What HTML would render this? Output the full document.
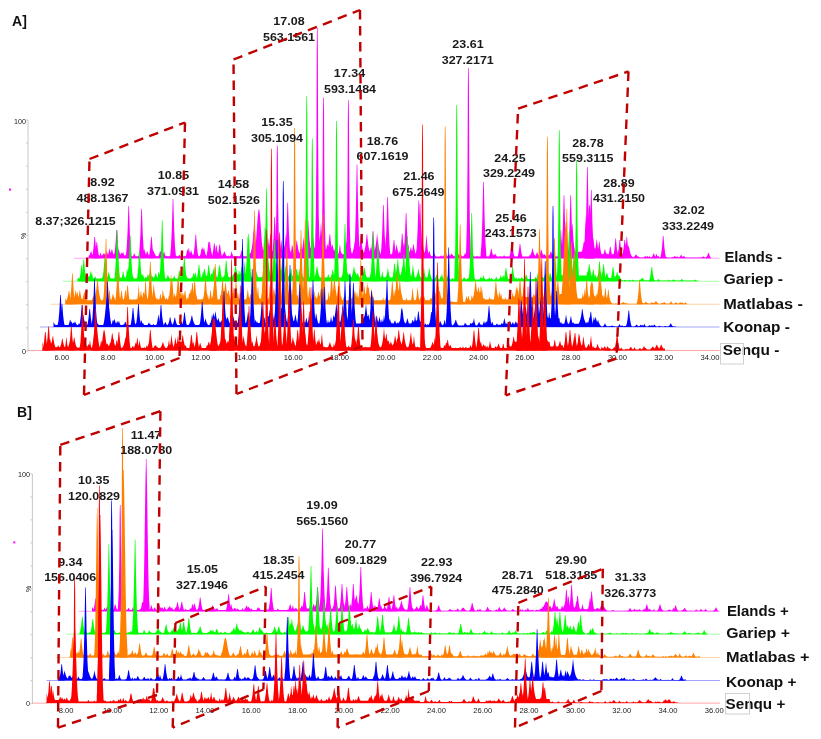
<!DOCTYPE html><html><head><meta charset="utf-8"><style>html,body{margin:0;padding:0;background:#fff;}body{width:821px;height:739px;overflow:hidden;position:relative;font-family:"Liberation Sans",sans-serif;}svg{will-change:transform;}</style></head><body><svg width="821" height="739" viewBox="0 0 821 739" style="position:absolute;left:0;top:0;font-family:'Liberation Sans', sans-serif">
<rect width="821" height="739" fill="#fff"/>
<text x="19.5" y="21" font-size="14" font-weight="bold" text-anchor="middle" dominant-baseline="central" fill="#111">A]</text>

<text x="24.5" y="411.5" font-size="14" font-weight="bold" text-anchor="middle" dominant-baseline="central" fill="#111">B]</text>

<line x1="28" y1="120" x2="28" y2="351" stroke="#c8c8c8" stroke-width="1"/>
<line x1="26" y1="120.0" x2="28" y2="120.0" stroke="#c8c8c8" stroke-width="1"/>
<line x1="26" y1="143.1" x2="28" y2="143.1" stroke="#c8c8c8" stroke-width="1"/>
<line x1="26" y1="166.2" x2="28" y2="166.2" stroke="#c8c8c8" stroke-width="1"/>
<line x1="26" y1="189.3" x2="28" y2="189.3" stroke="#c8c8c8" stroke-width="1"/>
<line x1="26" y1="212.4" x2="28" y2="212.4" stroke="#c8c8c8" stroke-width="1"/>
<line x1="26" y1="235.5" x2="28" y2="235.5" stroke="#c8c8c8" stroke-width="1"/>
<line x1="26" y1="258.6" x2="28" y2="258.6" stroke="#c8c8c8" stroke-width="1"/>
<line x1="26" y1="281.7" x2="28" y2="281.7" stroke="#c8c8c8" stroke-width="1"/>
<line x1="26" y1="304.8" x2="28" y2="304.8" stroke="#c8c8c8" stroke-width="1"/>
<line x1="26" y1="327.9" x2="28" y2="327.9" stroke="#c8c8c8" stroke-width="1"/>
<line x1="26" y1="351.0" x2="28" y2="351.0" stroke="#c8c8c8" stroke-width="1"/>
<line x1="74" y1="258.25" x2="719.5" y2="258.25" stroke="#ff00ff" stroke-opacity="0.4" stroke-width="0.9"/>
<g fill="#ff00ff"><polygon points="88.6,258.2 88.6,255.4 89.1,255.4 89.6,254.9 90.1,253.8 90.6,252.3 91.1,250.7 91.6,252.5 92.1,253.9 92.6,255.0 93.1,255.4 93.6,255.4 94.1,255.4 94.6,254.8 95.1,253.1 95.6,250.6 96.1,246.8 96.6,250.5 97.1,253.1 97.6,254.8 98.1,255.4 98.6,255.4 99.1,255.4 99.6,255.4 100.1,253.9 100.6,252.5 101.1,254.5 101.6,255.4 102.1,255.4 102.6,254.9 103.1,253.8 103.6,253.4 104.1,254.6 104.6,253.7 105.1,252.9 105.6,255.2 106.1,253.9 106.6,251.5 107.1,251.6 107.6,254.0 108.1,254.4 108.6,252.8 109.1,250.4 109.6,247.8 110.1,250.9 110.6,253.1 111.1,252.0 111.6,249.5 112.1,248.9 112.6,251.6 113.1,253.4 113.6,254.8 114.1,254.3 114.6,253.0 115.1,253.1 115.6,254.4 116.1,255.3 116.6,255.4 117.1,255.2 117.6,253.9 118.1,252.2 118.6,249.6 119.1,250.5 119.6,252.8 120.1,254.4 120.6,254.2 121.1,252.7 121.6,252.7 122.1,254.2 122.6,252.8 123.1,251.8 123.6,253.4 124.1,254.7 124.6,255.6 125.1,255.7 125.6,254.8 126.1,255.8 126.6,255.0 127.1,253.6 127.6,255.3 128.1,256.2 128.6,256.2 129.1,255.1 129.6,253.0 130.1,255.1 130.6,256.2 131.1,256.2 131.6,256.2 132.1,256.2 132.6,256.2 133.1,255.9 133.6,254.8 134.1,253.2 134.6,253.9 135.1,255.3 135.6,256.2 136.1,256.2 136.6,256.2 137.1,256.2 137.6,256.2 138.1,256.2 138.6,255.8 139.1,255.0 139.6,253.8 140.1,253.6 140.6,254.8 141.1,255.7 141.6,255.5 142.1,255.0 142.6,256.2 143.1,255.4 143.6,253.8 144.1,251.5 144.6,248.2 145.1,251.7 145.6,254.0 146.1,254.5 146.6,253.0 147.1,250.9 147.6,251.7 148.1,253.5 148.6,254.9 149.1,255.8 149.6,256.2 150.1,256.2 150.6,256.2 151.1,255.9 151.6,255.2 152.1,254.3 152.6,253.2 153.1,251.8 153.6,250.6 154.1,252.3 154.6,253.6 155.1,254.7 155.6,255.5 156.1,256.1 156.6,256.2 157.1,256.2 157.6,256.2 158.1,256.2 158.6,255.4 159.1,254.3 159.6,252.7 160.1,250.6 160.6,252.1 161.1,251.2 161.6,248.7 162.1,249.3 162.6,251.7 163.1,253.5 163.6,253.6 164.1,251.4 164.6,253.5 165.1,255.0 165.6,256.0 166.1,256.2 166.6,255.4 167.1,256.2 167.6,256.2 168.1,256.2 168.6,256.2 169.1,256.2 169.6,256.2 170.1,256.2 170.6,256.2 171.1,256.2 171.6,256.2 172.1,256.2 172.6,256.2 173.1,256.2 173.6,256.2 174.1,255.1 174.6,253.3 175.1,254.8 175.6,256.1 176.1,256.2 176.6,255.4 177.1,256.2 177.6,256.2 178.1,256.2 178.6,255.8 179.1,254.8 179.6,255.2 180.1,256.0 180.6,256.2 181.1,256.2 181.6,256.2 182.1,256.2 182.6,256.2 183.1,256.2 183.6,256.2 184.1,256.2 184.6,255.6 185.1,256.2 185.6,256.2 186.1,255.2 186.6,253.1 187.1,249.4 187.6,249.4 188.1,252.1 188.6,248.1 189.1,248.5 189.6,252.3 190.1,253.3 190.6,251.7 191.1,250.0 191.6,252.1 192.1,253.6 192.6,254.8 193.1,255.6 193.6,255.1 194.1,254.2 194.6,252.9 195.1,251.2 195.6,252.4 196.1,253.8 196.6,254.8 197.1,255.7 197.6,256.2 198.1,256.2 198.6,256.2 199.1,256.2 199.6,256.2 200.1,255.9 200.6,255.0 201.1,253.7 201.6,251.9 202.1,249.5 202.6,246.4 203.1,249.8 203.6,249.2 204.1,247.2 204.6,250.4 205.1,252.7 205.6,254.3 206.1,255.4 206.6,256.2 207.1,256.2 207.6,256.2 208.1,256.2 208.6,255.6 209.1,254.2 209.6,252.0 210.1,248.7 210.6,247.7 211.1,251.4 211.6,253.8 212.1,255.4 212.6,256.2 213.1,256.2 213.6,256.2 214.1,256.2 214.6,256.2 215.1,256.2 215.6,256.2 216.1,255.7 216.6,254.1 217.1,251.3 217.6,252.6 218.1,254.7 218.6,253.6 219.1,252.5 219.6,253.8 220.1,254.8 220.6,255.6 221.1,256.2 221.6,256.2 222.1,255.7 222.6,254.9 223.1,253.8 223.6,253.6 224.1,252.0 224.6,251.2 225.1,253.0 225.6,254.3 226.1,255.3 226.6,256.0 227.1,256.2 227.6,256.2 228.1,255.6 228.6,255.4 229.1,256.2 229.6,256.2 230.1,256.2 230.6,255.2 231.1,253.6 231.6,251.1 232.1,253.0 232.6,254.8 233.1,256.0 233.6,256.2 234.1,256.2 234.6,256.2 235.1,256.2 235.6,256.2 236.1,256.2 236.6,256.2 237.1,256.2 237.6,255.8 238.1,256.2 238.6,256.2 239.1,256.2 239.6,256.2 240.1,255.6 240.6,254.3 241.1,252.5 241.6,249.7 242.1,252.0 242.6,254.0 243.1,255.4 243.6,256.2 244.1,256.2 244.6,256.2 245.1,256.2 245.6,256.2 246.1,256.2 246.6,256.2 247.1,256.2 247.6,256.2 248.1,256.2 248.6,255.5 249.1,254.7 249.6,253.5 250.1,253.3 250.6,252.9 251.1,251.2 251.6,249.0 252.1,246.1 252.6,242.2 253.1,237.1 253.6,230.4 254.1,232.9 254.6,239.0 255.1,243.7 255.6,247.2 256.1,249.8 256.6,251.9 257.1,253.4 257.6,253.4 258.1,252.1 258.6,250.0 259.1,249.3 259.6,251.7 260.1,251.8 260.6,249.8 261.1,247.2 261.6,243.7 262.1,245.7 262.6,248.7 263.1,251.0 263.6,249.2 264.1,245.6 264.6,240.5 265.1,233.4 265.6,226.7 266.1,235.7 266.6,242.1 267.1,246.6 267.6,242.8 268.1,238.2 268.6,243.1 269.1,246.8 269.6,242.9 270.1,234.9 270.6,232.5 271.1,241.2 271.6,247.0 272.1,250.8 272.6,251.3 273.1,248.8 273.6,252.7 274.1,253.3 274.6,250.2 275.1,244.9 275.6,242.7 276.1,248.8 276.6,252.1 277.1,249.7 277.6,247.6 278.1,250.7 278.6,250.5 279.1,247.3 279.6,247.8 280.1,248.5 280.6,244.7 281.1,239.5 281.6,242.2 282.1,246.7 282.6,249.9 283.1,249.3 283.6,246.2 284.1,244.7 284.6,247.7 285.1,243.2 285.6,236.8 286.1,233.3 286.6,240.8 287.1,246.1 287.6,249.7 288.1,252.3 288.6,253.4 289.1,253.4 289.6,253.4 290.1,252.9 290.6,250.7 291.1,251.3 291.6,253.4 292.1,249.9 292.6,249.7 293.1,253.3 293.6,253.4 294.1,253.4 294.6,252.3 295.1,250.4 295.6,247.9 296.1,244.6 296.6,240.3 297.1,241.2 297.6,245.3 298.1,248.4 298.6,250.8 299.1,252.6 299.6,253.3 300.1,249.4 300.6,247.8 301.1,243.0 301.6,247.2 302.1,249.4 302.6,247.0 303.1,242.7 303.6,236.7 304.1,242.5 304.6,246.9 305.1,249.4 305.6,249.4 306.1,246.6 306.6,242.4 307.1,236.8 307.6,229.1 308.1,218.7 308.6,226.0 309.1,234.5 309.6,240.8 310.1,244.9 310.6,248.5 311.1,247.0 311.6,243.7 312.1,239.4 312.6,233.9 313.1,236.4 313.6,241.3 314.1,245.1 314.6,248.1 315.1,248.7 315.6,248.7 316.1,248.8 316.6,248.9 317.1,249.1 317.6,249.3 318.1,246.7 318.6,241.5 319.1,236.1 319.6,241.4 320.1,235.8 320.6,228.2 321.1,221.4 321.6,230.6 322.1,237.5 322.6,242.7 323.1,246.6 323.6,249.4 324.1,249.4 324.6,249.4 325.1,249.4 325.6,249.4 326.1,249.4 326.6,247.2 327.1,243.8 327.6,245.1 328.1,247.1 328.6,243.8 329.1,239.4 329.6,233.8 330.1,234.6 330.6,240.1 331.1,244.3 331.6,247.5 332.1,245.9 332.6,244.0 333.1,247.1 333.6,249.6 334.1,251.5 334.6,249.7 335.1,246.8 335.6,247.4 336.1,250.1 336.6,252.2 337.1,253.3 337.6,251.6 338.1,253.8 338.6,253.4 339.1,250.6 339.6,246.1 340.1,244.9 340.6,249.9 341.1,253.0 341.6,252.6 342.1,254.2 342.6,254.2 343.1,254.2 343.6,254.2 344.1,253.8 344.6,252.4 345.1,250.7 345.6,248.4 346.1,245.4 346.6,241.5 347.1,243.4 347.6,246.8 348.1,249.5 348.6,251.1 349.1,252.6 349.6,250.4 350.1,247.3 350.6,248.2 351.1,251.0 351.6,253.0 352.1,253.7 352.6,252.4 353.1,250.8 353.6,248.6 354.1,245.9 354.6,242.4 355.1,242.6 355.6,246.1 356.1,248.8 356.6,250.9 357.1,252.5 357.6,253.8 358.1,251.5 358.6,247.2 359.1,246.8 359.6,247.1 360.1,242.7 360.6,236.6 361.1,234.9 361.6,241.5 362.1,246.2 362.6,249.6 363.1,250.2 363.6,252.7 364.1,252.0 364.6,249.8 365.1,247.7 365.6,244.6 366.1,240.5 366.6,235.1 367.1,233.4 367.6,239.1 368.1,243.6 368.6,247.0 369.1,249.6 369.6,251.6 370.1,250.2 370.6,247.8 371.1,247.6 371.6,250.1 372.1,252.0 372.6,253.0 373.1,250.4 373.6,248.3 374.1,251.6 374.6,251.0 375.1,248.9 375.6,246.2 376.1,242.7 376.6,238.2 377.1,232.7 377.6,238.5 378.1,242.9 378.6,246.4 379.1,249.1 379.6,251.1 380.1,252.7 380.6,254.0 381.1,254.2 381.6,254.2 382.1,254.2 382.6,253.5 383.1,250.9 383.6,250.0 384.1,252.9 384.6,252.1 385.1,248.5 385.6,242.7 386.1,233.5 386.6,238.7 387.1,246.0 387.6,250.5 388.1,253.4 388.6,253.3 389.1,250.7 389.6,253.7 390.1,254.2 390.6,254.2 391.1,254.2 391.6,254.2 392.1,254.2 392.6,254.1 393.1,252.6 393.6,250.5 394.1,247.8 394.6,250.7 395.1,251.8 395.6,249.8 396.1,247.2 396.6,243.9 397.1,247.0 397.6,249.6 398.1,251.6 398.6,253.2 399.1,253.3 399.6,250.3 400.1,253.4 400.6,253.4 401.1,253.4 401.6,253.4 402.1,252.2 402.6,250.2 403.1,247.5 403.6,243.9 404.1,242.8 404.6,246.7 405.1,244.3 405.6,238.8 406.1,231.1 406.6,227.6 407.1,236.2 407.6,242.5 408.1,246.9 408.6,243.6 409.1,249.6 409.6,252.7 410.1,250.6 410.6,247.6 411.1,247.2 411.6,250.3 412.1,251.1 412.6,248.7 413.1,245.5 413.6,243.6 414.1,247.3 414.6,250.1 415.1,252.2 415.6,253.4 416.1,252.7 416.6,250.9 417.1,248.8 417.6,251.0 418.1,252.7 418.6,251.2 419.1,251.4 419.6,252.3 420.1,249.8 420.6,246.1 421.1,244.9 421.6,236.9 422.1,225.3 422.6,237.5 423.1,245.3 423.6,250.1 424.1,251.3 424.6,253.2 425.1,250.5 425.6,246.0 426.1,239.0 426.6,234.2 427.1,242.9 427.6,248.5 428.1,252.0 428.6,253.4 429.1,251.6 429.6,250.7 430.1,253.4 430.6,255.1 431.1,256.2 431.6,256.0 432.1,256.0 432.6,256.2 433.1,255.3 433.6,254.1 434.1,252.5 434.6,253.9 435.1,255.2 435.6,256.1 436.1,256.6 436.6,256.6 437.1,256.6 437.6,256.6 438.1,256.6 438.6,256.6 439.1,256.6 439.6,256.6 440.1,256.6 440.6,256.1 441.1,255.3 441.6,255.8 442.1,256.4 442.6,256.4 443.1,255.1 443.6,255.8 444.1,256.6 444.6,256.6 445.1,256.1 445.6,254.8 446.1,253.0 446.6,255.1 447.1,256.3 447.6,256.0 448.1,255.3 448.6,254.4 449.1,254.8 449.6,255.6 450.1,255.7 450.6,254.9 451.1,253.8 451.6,253.5 452.1,254.7 452.6,254.6 453.1,255.4 453.6,256.1 454.1,256.6 454.6,256.0 455.1,255.2 455.6,255.4 456.1,256.1 456.6,255.7 457.1,254.5 457.6,256.0 458.1,255.6 458.6,254.3 459.1,253.8 459.6,255.2 460.1,256.2 460.6,256.6 461.1,256.1 461.6,255.1 462.1,256.1 462.6,256.6 463.1,256.2 463.6,255.8 464.1,255.3 464.6,254.3 465.1,252.8 465.6,253.5 466.1,254.7 466.6,255.7 467.1,256.4 467.6,256.6 468.1,256.6 468.6,256.6 469.1,256.6 469.6,256.6 470.1,256.6 470.6,256.6 471.1,256.3 471.6,255.6 472.1,254.8 472.6,254.8 473.1,255.7 473.6,256.3 474.1,256.6 474.6,256.6 475.1,256.6 475.6,256.6 476.1,256.6 476.6,256.5 477.1,255.5 477.6,256.3 478.1,256.6 478.6,256.6 479.1,256.6 479.6,256.6 480.1,256.6 480.6,256.6 481.1,256.6 481.6,256.6 482.1,256.6 482.6,256.6 483.1,256.6 483.6,256.5 484.1,256.6 484.6,256.6 485.1,256.5 485.6,256.0 486.1,256.6 486.6,256.6 487.1,256.6 487.6,256.6 488.1,256.6 488.6,256.6 489.1,256.4 489.6,255.6 490.1,254.5 490.6,253.1 491.1,252.7 491.6,254.2 492.1,255.4 492.6,254.9 493.1,254.1 493.6,255.2 494.1,255.5 494.6,254.6 495.1,253.5 495.6,254.4 496.1,255.3 496.6,256.0 497.1,256.6 497.6,256.6 498.1,256.6 498.6,256.6 499.1,256.6 499.6,256.6 500.1,256.0 500.6,256.3 501.1,256.6 501.6,256.6 502.1,256.6 502.6,256.6 503.1,256.6 503.6,256.0 504.1,255.0 504.6,255.9 505.1,256.6 505.6,256.6 506.1,256.6 506.6,256.6 507.1,255.9 507.6,256.5 508.1,256.6 508.6,256.6 509.1,256.6 509.6,256.6 510.1,256.6 510.6,256.6 511.1,256.6 511.6,256.6 512.1,256.6 512.6,256.3 513.1,255.4 513.6,254.7 514.1,255.8 514.6,256.5 515.1,256.6 515.6,256.6 516.1,256.6 516.6,256.6 517.1,256.6 517.6,256.6 518.1,255.5 518.6,256.6 519.1,256.6 519.6,256.6 520.1,256.6 520.6,256.6 521.1,256.6 521.6,256.6 522.1,256.6 522.6,256.6 523.1,256.6 523.6,256.6 524.1,256.6 524.6,256.6 525.1,256.6 525.6,256.6 526.1,256.6 526.6,256.6 527.1,256.6 527.6,256.6 528.1,256.6 528.6,256.6 529.1,256.2 529.6,255.1 530.1,255.5 530.6,254.6 531.1,253.4 531.6,251.8 532.1,249.6 532.6,248.0 533.1,250.5 533.6,252.4 534.1,253.9 534.6,255.0 535.1,255.8 535.6,255.6 536.1,254.6 536.6,253.2 537.1,251.7 537.6,253.5 538.1,254.8 538.6,255.7 539.1,255.5 539.6,254.6 540.1,253.3 540.6,251.7 541.1,249.6 541.6,250.1 542.1,252.1 542.6,253.6 543.1,254.8 543.6,255.1 544.1,254.1 544.6,254.4 545.1,255.3 545.6,255.4 546.1,255.2 546.6,256.0 547.1,255.6 547.6,254.5 548.1,254.7 548.6,255.8 549.1,255.6 549.6,254.7 550.1,253.6 550.6,252.1 551.1,251.0 551.6,252.8 552.1,254.1 552.6,255.1 553.1,253.7 553.6,253.4 554.1,255.2 554.6,256.3 555.1,256.6 555.6,256.6 556.1,256.6 556.6,256.6 557.1,256.6 557.6,256.1 558.1,255.0 558.6,253.2 559.1,250.6 559.6,246.5 560.1,240.3 560.6,230.9 561.1,229.5 561.6,239.5 562.1,245.9 562.6,250.2 563.1,251.8 563.6,251.8 564.1,251.8 564.6,251.8 565.1,249.1 565.6,242.6 566.1,247.6 566.6,251.8 567.1,251.8 567.6,251.8 568.1,251.8 568.6,251.8 569.1,251.8 569.6,251.2 570.1,248.5 570.6,244.8 571.1,239.7 571.6,232.7 572.1,223.1 572.6,225.8 573.1,234.7 573.6,241.2 574.1,245.9 574.6,249.3 575.1,251.6 575.6,251.8 576.1,251.8 576.6,251.8 577.1,251.8 577.6,251.8 578.1,251.8 578.6,251.8 579.1,251.8 579.6,251.8 580.1,251.8 580.6,251.8 581.1,251.8 581.6,251.8 582.1,250.8 582.6,248.6 583.1,245.9 583.6,242.3 584.1,242.4 584.6,240.7 585.1,228.6 585.6,214.4 586.1,232.3 586.6,242.9 587.1,249.1 587.6,251.6 588.1,251.2 588.6,247.0 589.1,245.6 589.6,250.2 590.1,245.6 590.6,238.5 591.1,227.5 591.6,219.2 592.1,233.2 592.6,242.3 593.1,237.6 593.6,240.3 594.1,244.8 594.6,248.2 595.1,248.9 595.6,247.4 596.1,243.7 596.6,238.9 597.1,241.6 597.6,245.7 598.1,248.9 598.6,246.1 599.1,241.1 599.6,242.2 600.1,246.9 600.6,250.3 601.1,252.6 601.6,254.2 602.1,254.1 602.6,254.2 603.1,254.2 603.6,254.0 604.1,252.8 604.6,252.2 605.1,253.6 605.6,254.2 606.1,254.2 606.6,252.8 607.1,253.8 607.6,254.2 608.1,254.2 608.6,254.2 609.1,254.2 609.6,254.2 610.1,254.2 610.6,254.2 611.1,254.2 611.6,254.2 612.1,254.2 612.6,254.2 613.1,254.2 613.6,254.2 614.1,254.2 614.6,254.2 615.1,253.4 615.6,250.8 616.1,250.7 616.6,253.3 617.1,253.5 617.6,251.9 618.1,249.7 618.6,251.9 619.1,253.5 619.6,254.2 620.1,254.2 620.6,254.2 621.1,254.2 621.6,254.2 622.1,254.2 622.6,253.5 623.1,252.1 623.6,250.4 624.1,248.1 624.6,245.1 625.1,242.7 625.6,246.2 626.1,243.3 626.6,236.8 627.1,236.9 627.6,243.3 628.1,247.8 628.6,244.7 629.1,246.9 629.6,249.8 630.1,252.0 630.6,253.7 631.1,254.9 631.6,255.8 632.1,256.4 632.6,256.9 633.1,257.2 633.6,257.1 634.1,256.7 634.6,256.2 635.1,255.5 635.6,254.7 636.1,254.3 636.6,255.3 637.1,256.0 637.6,256.3 638.1,256.8 638.6,256.4 639.1,256.8 639.6,257.3 640.1,257.4 640.6,257.2 641.1,257.5 641.6,257.6 642.1,257.5 642.6,257.0 643.1,257.4 643.6,257.4 644.1,257.1 644.6,256.6 645.1,255.8 645.6,256.4 646.1,256.9 646.6,256.4 647.1,255.7 647.6,256.2 648.1,256.7 648.6,257.1 649.1,256.8 649.6,256.1 650.1,256.8 650.6,257.3 651.1,257.5 651.6,257.4 652.1,257.3 652.6,257.2 653.1,257.2 653.6,257.1 654.1,257.1 654.6,257.2 655.1,256.9 655.6,256.0 656.1,254.5 656.6,254.1 657.1,255.8 657.6,256.4 658.1,255.6 658.6,256.3 659.1,256.9 659.6,257.2 660.1,257.4 660.6,257.1 661.1,257.4 661.6,257.6 662.1,257.6 662.6,257.6 663.1,257.6 663.6,257.6 664.1,257.6 664.6,257.6 665.1,257.6 665.6,257.6 666.1,257.5 666.6,257.0 667.1,256.9 667.6,257.4 668.1,257.6 668.6,257.6 669.1,257.6 669.6,257.6 670.1,257.4 670.6,257.6 671.1,257.5 671.6,257.3 672.1,257.0 672.6,257.1 673.1,257.2 673.6,256.9 674.1,256.4 674.6,255.8 675.1,256.4 675.6,256.8 676.1,257.1 676.6,256.5 677.1,256.2 677.6,256.8 678.1,257.3 678.6,257.6 679.1,257.3 679.6,256.9 680.1,256.4 680.6,255.6 681.1,254.6 681.6,255.6 682.1,256.3 682.6,256.9 683.1,256.7 683.6,256.0 684.1,256.0 684.6,256.7 685.1,257.1 685.6,257.5 686.1,257.6 686.6,257.6 687.1,257.6 687.6,257.6 688.1,257.6 688.6,257.6 689.1,257.6 689.6,257.6 690.1,257.6 690.6,257.6 691.1,257.6 691.6,257.6 692.1,257.6 692.6,257.6 693.1,257.6 693.6,257.6 694.1,257.5 694.6,257.6 695.1,257.6 695.6,257.6 696.1,257.6 696.6,257.6 697.1,257.6 697.6,257.6 698.1,257.6 698.6,257.5 699.1,257.5 699.6,257.6 700.1,257.6 700.6,257.6 701.1,257.3 701.6,257.4 702.1,257.0 702.6,256.8 703.1,257.0 703.6,256.2 704.1,256.4 704.6,257.2 705.1,257.6 705.6,257.6 706.1,257.3 706.6,256.7 707.1,256.9 707.6,257.2 708.1,256.8 708.6,256.8 709.1,257.1 709.6,257.4 709.6,258.2"/><polygon points="91.60,258.25 92.70,253.96 93.55,247.53 94.15,240.02 94.40,236.80 95.00,236.80 95.25,240.02 95.85,247.53 96.70,253.96 97.80,258.25"/><polygon points="93.70,258.25 94.80,255.00 95.65,250.12 96.25,244.44 96.50,242.00 97.10,242.00 97.35,244.44 97.95,250.12 98.80,255.00 99.90,258.25"/><polygon points="113.60,258.25 114.70,252.60 115.55,244.12 116.15,234.24 116.40,230.00 117.00,230.00 117.25,234.24 117.85,244.12 118.70,252.60 119.80,258.25"/><polygon points="125.60,258.25 126.70,247.80 127.55,232.12 128.15,213.84 128.40,206.00 129.00,206.00 129.25,213.84 129.85,232.12 130.70,247.80 131.80,258.25"/><polygon points="138.50,258.25 139.60,248.34 140.45,233.47 141.05,216.13 141.30,208.70 141.90,208.70 142.15,216.13 142.75,233.47 143.60,248.34 144.70,258.25"/><polygon points="148.30,258.25 149.40,253.96 150.25,247.53 150.85,240.02 151.10,236.80 151.70,236.80 151.95,240.02 152.55,247.53 153.40,253.96 154.50,258.25"/><polygon points="169.90,258.25 171.00,246.40 171.85,228.62 172.45,207.89 172.70,199.00 173.30,199.00 173.55,207.89 174.15,228.62 175.00,246.40 176.10,258.25"/><polygon points="184.90,258.25 186.00,256.80 186.85,254.62 187.45,252.09 187.70,251.00 188.30,251.00 188.55,252.09 189.15,254.62 190.00,256.80 191.10,258.25"/><polygon points="192.70,258.25 193.80,253.52 194.65,246.43 195.25,238.15 195.50,234.60 196.10,234.60 196.35,238.15 196.95,246.43 197.80,253.52 198.90,258.25"/><polygon points="198.70,258.25 199.80,256.34 200.65,253.47 201.25,250.13 201.50,248.70 202.10,248.70 202.35,250.13 202.95,253.47 203.80,256.34 204.90,258.25"/><polygon points="205.60,258.25 206.70,255.00 207.55,250.12 208.15,244.44 208.40,242.00 209.00,242.00 209.25,244.44 209.85,250.12 210.70,255.00 211.80,258.25"/><polygon points="206.60,258.25 207.70,254.96 208.55,250.03 209.15,244.27 209.40,241.80 210.00,241.80 210.25,244.27 210.85,250.03 211.70,254.96 212.80,258.25"/><polygon points="211.20,258.25 212.30,255.26 213.15,250.78 213.75,245.54 214.00,243.30 214.60,243.30 214.85,245.54 215.45,250.78 216.30,255.26 217.40,258.25"/><polygon points="213.20,258.25 214.30,255.70 215.15,251.88 215.75,247.41 216.00,245.50 216.60,245.50 216.85,247.41 217.45,251.88 218.30,255.70 219.40,258.25"/><polygon points="216.60,258.25 217.70,255.48 218.55,251.32 219.15,246.48 219.40,244.40 220.00,244.40 220.25,246.48 220.85,251.32 221.70,255.48 222.80,258.25"/><polygon points="251.30,258.25 252.40,250.92 253.25,239.93 253.85,227.10 254.10,221.60 254.70,221.60 254.95,227.10 255.55,239.93 256.40,250.92 257.50,258.25"/><polygon points="253.70,258.25 253.70,256.58 254.13,255.39 254.57,253.57 255.00,250.94 255.43,247.35 255.87,242.75 256.30,237.22 256.73,231.03 257.17,224.63 257.60,218.62 258.03,213.69 258.47,210.44 258.60,209.30 258.90,209.30 259.20,209.30 259.33,210.44 259.77,213.69 260.20,218.62 260.63,224.63 261.07,231.03 261.50,237.22 261.93,242.75 262.37,247.35 262.80,250.94 263.23,253.57 263.67,255.39 264.10,256.58 264.10,258.25"/><polygon points="271.60,258.25 272.70,249.98 273.55,237.57 274.15,223.10 274.40,216.90 275.00,216.90 275.25,223.10 275.85,237.57 276.70,249.98 277.80,258.25"/><polygon points="274.80,258.25 275.90,235.70 276.45,201.88 276.75,156.77 277.00,145.50 277.60,145.50 277.85,156.77 278.15,201.88 278.70,235.70 279.80,258.25"/><polygon points="284.60,258.25 285.70,247.16 286.55,230.53 287.15,211.12 287.40,202.80 288.00,202.80 288.25,211.12 288.85,230.53 289.70,247.16 290.80,258.25"/><polygon points="289.10,258.25 290.20,255.70 291.05,251.88 291.65,247.41 291.90,245.50 292.50,245.50 292.75,247.41 293.35,251.88 294.20,255.70 295.30,258.25"/><polygon points="314.80,258.25 315.90,212.20 316.45,143.12 316.75,51.03 317.00,28.00 317.60,28.00 317.85,51.03 318.15,143.12 318.70,212.20 319.80,258.25"/><polygon points="321.00,258.25 322.10,226.08 322.65,177.82 322.95,113.49 323.20,97.40 323.80,97.40 324.05,113.49 324.35,177.82 324.90,226.08 326.00,258.25"/><polygon points="345.90,258.25 347.00,226.64 347.55,179.22 347.85,116.00 348.10,100.20 348.70,100.20 348.95,116.00 349.25,179.22 349.80,226.64 350.90,258.25"/><polygon points="353.90,258.25 355.00,239.50 355.85,211.38 356.45,178.56 356.70,164.50 357.30,164.50 357.55,178.56 358.15,211.38 359.00,239.50 360.10,258.25"/><polygon points="369.90,258.25 371.00,252.80 371.85,244.62 372.45,235.09 372.70,231.00 373.30,231.00 373.55,235.09 374.15,244.62 375.00,252.80 376.10,258.25"/><polygon points="380.30,258.25 381.40,247.60 382.25,231.62 382.85,212.99 383.10,205.00 383.70,205.00 383.95,212.99 384.55,231.62 385.40,247.60 386.50,258.25"/><polygon points="384.50,258.25 385.60,246.00 386.45,227.62 387.05,206.19 387.30,197.00 387.90,197.00 388.15,206.19 388.75,227.62 389.60,246.00 390.70,258.25"/><polygon points="390.90,258.25 392.00,254.60 392.85,249.12 393.45,242.74 393.70,240.00 394.30,240.00 394.55,242.74 395.15,249.12 396.00,254.60 397.10,258.25"/><polygon points="399.10,258.25 400.20,253.34 401.05,245.97 401.65,237.38 401.90,233.70 402.50,233.70 402.75,237.38 403.35,245.97 404.20,253.34 405.30,258.25"/><polygon points="403.00,258.25 404.10,249.20 404.95,235.62 405.55,219.79 405.80,213.00 406.40,213.00 406.65,219.79 407.25,235.62 408.10,249.20 409.20,258.25"/><polygon points="415.70,258.25 416.80,246.68 417.65,229.32 418.25,209.08 418.50,200.40 419.10,200.40 419.35,209.08 419.95,229.32 420.80,246.68 421.90,258.25"/><polygon points="416.90,258.25 418.00,247.36 418.85,231.03 419.45,211.97 419.70,203.80 420.30,203.80 420.55,211.97 421.15,231.03 422.00,247.36 423.10,258.25"/><polygon points="465.90,258.25 467.00,220.20 467.55,163.12 467.85,87.03 468.10,68.00 468.70,68.00 468.95,87.03 469.25,163.12 469.80,220.20 470.90,258.25"/><polygon points="480.40,258.25 481.50,242.96 482.35,220.03 482.95,193.27 483.20,181.80 483.80,181.80 484.05,193.27 484.65,220.03 485.50,242.96 486.60,258.25"/><polygon points="488.20,258.25 489.30,256.34 490.15,253.47 490.75,250.13 491.00,248.70 491.60,248.70 491.85,250.13 492.45,253.47 493.30,256.34 494.40,258.25"/><polygon points="508.80,258.25 509.90,254.96 510.75,250.03 511.35,244.27 511.60,241.80 512.20,241.80 512.45,244.27 513.05,250.03 513.90,254.96 515.00,258.25"/><polygon points="516.90,258.25 518.00,255.40 518.85,251.12 519.45,246.14 519.70,244.00 520.30,244.00 520.55,246.14 521.15,251.12 522.00,255.40 523.10,258.25"/><polygon points="560.90,258.25 562.00,245.66 562.85,226.78 563.45,204.74 563.70,195.30 564.30,195.30 564.55,204.74 565.15,226.78 566.00,245.66 567.10,258.25"/><polygon points="567.60,258.25 568.70,245.66 569.55,226.78 570.15,204.74 570.40,195.30 571.00,195.30 571.25,204.74 571.85,226.78 572.70,245.66 573.80,258.25"/><polygon points="584.30,258.25 585.40,240.00 586.25,212.62 586.85,180.69 587.10,167.00 587.70,167.00 587.95,180.69 588.55,212.62 589.40,240.00 590.50,258.25"/><polygon points="586.90,258.25 588.00,251.50 588.85,241.38 589.45,229.56 589.70,224.50 590.30,224.50 590.55,229.56 591.15,241.38 592.00,251.50 593.10,258.25"/><polygon points="584.40,258.25 584.40,256.44 584.83,255.14 585.27,253.16 585.70,250.30 586.13,246.39 586.57,241.39 587.00,235.38 587.43,228.64 587.87,221.67 588.30,215.14 588.73,209.77 589.17,206.24 589.30,205.00 589.60,205.00 589.90,205.00 590.03,206.24 590.47,209.77 590.90,215.14 591.33,221.67 591.77,228.64 592.20,235.38 592.63,241.39 593.07,246.39 593.50,250.30 593.93,253.16 594.37,255.14 594.80,256.44 594.80,258.25"/><polygon points="588.20,258.25 589.30,244.60 590.15,224.12 590.75,200.24 591.00,190.00 591.60,190.00 591.85,200.24 592.45,224.12 593.30,244.60 594.40,258.25"/><polygon points="601.80,258.25 602.90,256.48 603.75,253.82 604.35,250.73 604.60,249.40 605.20,249.40 605.45,250.73 606.05,253.82 606.90,256.48 608.00,258.25"/><polygon points="607.20,258.25 608.30,255.94 609.15,252.47 609.75,248.43 610.00,246.70 610.60,246.70 610.85,248.43 611.45,252.47 612.30,255.94 613.40,258.25"/><polygon points="612.60,258.25 613.70,254.32 614.55,248.43 615.15,241.55 615.40,238.60 616.00,238.60 616.25,241.55 616.85,248.43 617.70,254.32 618.80,258.25"/><polygon points="616.70,258.25 617.80,254.60 618.65,249.12 619.25,242.74 619.50,240.00 620.10,240.00 620.35,242.74 620.95,249.12 621.80,254.60 622.90,258.25"/><polygon points="621.60,258.25 622.70,254.60 623.55,249.12 624.15,242.74 624.40,240.00 625.00,240.00 625.25,242.74 625.85,249.12 626.70,254.60 627.80,258.25"/><polygon points="650.60,258.25 651.70,257.30 652.55,255.88 653.15,254.21 653.40,253.50 654.00,253.50 654.25,254.21 654.85,255.88 655.70,257.30 656.80,258.25"/><polygon points="660.10,258.25 661.20,253.78 662.05,247.07 662.65,239.25 662.90,235.90 663.50,235.90 663.75,239.25 664.35,247.07 665.20,253.78 666.30,258.25"/><polygon points="705.40,258.25 706.50,257.20 707.35,255.62 707.95,253.79 708.20,253.00 708.80,253.00 709.05,253.79 709.65,255.62 710.50,257.20 711.60,258.25"/></g>
<line x1="62.6" y1="281.25" x2="719.5" y2="281.25" stroke="#00ff00" stroke-opacity="0.4" stroke-width="0.9"/>
<g fill="#00ff00"><polygon points="77.4,281.2 77.4,278.4 77.9,278.4 78.4,278.4 78.9,277.5 79.4,278.4 79.9,278.4 80.4,278.4 80.9,278.4 81.4,278.4 81.9,278.4 82.4,278.4 82.9,278.4 83.4,278.4 83.9,277.6 84.4,278.1 84.9,278.4 85.4,278.4 85.9,278.4 86.4,278.4 86.9,278.4 87.4,277.8 87.9,276.4 88.4,275.4 88.9,277.1 89.4,277.0 89.9,274.5 90.4,270.6 90.9,273.5 91.4,274.9 91.9,270.8 92.4,275.2 92.9,277.7 93.4,278.1 93.9,278.4 94.4,278.0 94.9,276.8 95.4,276.5 95.9,277.7 96.4,278.4 96.9,278.4 97.4,278.4 97.9,278.4 98.4,278.4 98.9,278.4 99.4,278.4 99.9,278.4 100.4,278.1 100.9,278.4 101.4,278.4 101.9,278.4 102.4,277.5 102.9,276.3 103.4,274.9 103.9,276.5 104.4,277.7 104.9,278.4 105.4,278.2 105.9,277.1 106.4,278.2 106.9,278.3 107.4,277.1 107.9,275.4 108.4,273.0 108.9,271.6 109.4,274.4 109.9,276.4 110.4,277.8 110.9,278.4 111.4,278.4 111.9,278.4 112.4,278.4 112.9,278.4 113.4,278.4 113.9,278.4 114.4,278.4 114.9,278.4 115.4,278.4 115.9,278.4 116.4,278.4 116.9,278.4 117.4,278.4 117.9,277.6 118.4,277.5 118.9,278.4 119.4,278.4 119.9,278.4 120.4,277.6 120.9,277.5 121.4,278.2 121.9,276.7 122.4,274.5 122.9,271.2 123.4,271.8 123.9,274.9 124.4,277.0 124.9,277.1 125.4,278.4 125.9,276.7 126.4,273.9 126.9,269.2 127.4,271.9 127.9,268.6 128.4,267.1 128.9,270.8 129.4,273.6 129.9,275.6 130.4,276.7 130.9,278.2 131.4,278.4 131.9,277.3 132.4,275.6 132.9,275.8 133.4,277.5 133.9,278.4 134.4,278.4 134.9,278.4 135.4,278.4 135.9,278.4 136.4,278.4 136.9,278.4 137.4,278.4 137.9,278.4 138.4,277.9 138.9,278.4 139.4,278.4 139.9,278.1 140.4,277.1 140.9,275.7 141.4,274.0 141.9,275.8 142.4,275.3 142.9,273.7 143.4,275.8 143.9,277.3 144.4,278.4 144.9,278.4 145.4,277.0 145.9,276.7 146.4,278.2 146.9,277.3 147.4,275.9 147.9,273.9 148.4,275.1 148.9,276.8 149.4,275.6 149.9,271.8 150.4,265.4 150.9,269.5 151.4,274.2 151.9,276.9 152.4,276.0 152.9,277.3 153.4,278.1 153.9,276.9 154.4,277.2 154.9,275.7 155.4,273.7 155.9,272.7 156.4,275.0 156.9,276.7 157.4,277.9 157.9,276.0 158.4,272.3 158.9,272.1 159.4,275.9 159.9,273.0 160.4,272.0 160.9,275.9 161.4,276.5 161.9,275.0 162.4,273.0 162.9,271.3 163.4,273.7 163.9,275.6 164.4,277.0 164.9,278.0 165.4,278.4 165.9,278.4 166.4,278.4 166.9,277.4 167.4,276.2 167.9,274.5 168.4,276.1 168.9,277.3 169.4,278.3 169.9,278.4 170.4,278.4 170.9,278.4 171.4,278.4 171.9,278.4 172.4,278.4 172.9,278.2 173.4,278.1 173.9,276.3 174.4,275.5 174.9,277.6 175.4,278.4 175.9,278.4 176.4,278.4 176.9,278.4 177.4,278.4 177.9,278.4 178.4,276.9 178.9,274.2 179.4,269.8 179.9,271.6 180.4,275.3 180.9,277.3 181.4,276.0 181.9,274.6 182.4,274.5 182.9,272.5 183.4,269.8 183.9,266.2 184.4,266.2 184.9,269.8 185.4,272.5 185.9,274.6 186.4,276.1 186.9,277.3 187.4,278.3 187.9,278.4 188.4,278.3 188.9,278.4 189.4,278.4 189.9,278.4 190.4,278.4 190.9,278.4 191.4,278.1 191.9,276.6 192.4,277.5 192.9,275.6 193.4,272.8 193.9,273.2 194.4,275.9 194.9,273.8 195.4,272.1 195.9,274.8 196.4,276.7 196.9,278.1 197.4,278.4 197.9,278.4 198.4,278.1 198.9,275.8 199.4,275.1 199.9,277.6 200.4,278.4 200.9,278.4 201.4,277.6 201.9,276.3 202.4,274.5 202.9,272.1 203.4,271.3 203.9,273.9 204.4,272.9 204.9,269.3 205.4,274.0 205.9,276.8 206.4,275.5 206.9,275.8 207.4,277.2 207.9,278.3 208.4,278.4 208.9,278.4 209.4,278.4 209.9,278.0 210.4,276.8 210.9,275.2 211.4,272.9 211.9,273.8 212.4,274.0 212.9,271.1 213.4,267.6 213.9,271.6 214.4,274.4 214.9,276.4 215.4,277.0 215.9,277.2 216.4,277.2 216.9,277.2 217.4,277.2 217.9,275.7 218.4,272.1 218.9,266.2 219.4,270.8 219.9,274.9 220.4,277.2 220.9,277.2 221.4,277.2 221.9,277.2 222.4,277.2 222.9,277.2 223.4,277.2 223.9,275.3 224.4,275.7 224.9,276.6 225.4,274.9 225.9,272.7 226.4,269.6 226.9,270.2 227.4,273.1 227.9,275.2 228.4,276.8 228.9,277.2 229.4,277.2 229.9,277.2 230.4,277.1 230.9,275.8 231.4,277.1 231.9,277.2 232.4,276.5 232.9,274.8 233.4,274.3 233.9,273.9 234.4,271.7 234.9,268.9 235.4,265.2 235.9,266.1 236.4,269.6 236.9,272.2 237.4,273.8 237.9,275.4 238.4,274.1 238.9,270.3 239.4,271.3 239.9,274.8 240.4,273.2 240.9,270.9 241.4,267.9 241.9,266.7 242.4,269.9 242.9,272.5 243.4,273.9 243.9,269.1 244.4,261.1 244.9,266.7 245.4,272.5 245.9,274.2 246.4,272.1 246.9,269.5 247.4,271.3 247.9,273.5 248.4,275.2 248.9,276.6 249.4,277.2 249.9,277.2 250.4,277.2 250.9,277.2 251.4,277.2 251.9,277.2 252.4,277.2 252.9,277.2 253.4,275.8 253.9,272.3 254.4,270.7 254.9,274.0 255.4,271.9 255.9,269.2 256.4,272.0 256.9,274.1 257.4,275.7 257.9,277.0 258.4,277.2 258.9,277.2 259.4,277.2 259.9,277.2 260.4,277.2 260.9,277.2 261.4,277.2 261.9,277.2 262.4,277.2 262.9,277.2 263.4,277.2 263.9,276.7 264.4,275.1 264.9,276.2 265.4,276.0 265.9,274.5 266.4,272.6 266.9,270.1 267.4,266.9 267.9,262.8 268.4,262.3 268.9,266.5 269.4,269.8 269.9,272.3 270.4,274.3 270.9,275.9 271.4,277.1 271.9,275.6 272.4,273.2 272.9,269.6 273.4,264.5 273.9,257.2 274.4,262.0 274.9,267.8 275.4,269.7 275.9,265.5 276.4,261.9 276.9,267.1 277.4,270.8 277.9,273.6 278.4,275.6 278.9,277.0 279.4,275.3 279.9,272.8 280.4,269.3 280.9,267.2 281.4,271.3 281.9,271.2 282.4,267.5 282.9,269.7 283.4,272.8 283.9,275.1 284.4,273.8 284.9,270.2 285.4,264.8 285.9,269.1 286.4,271.9 286.9,265.8 287.4,270.0 287.9,274.4 288.4,277.1 288.9,275.9 289.4,273.5 289.9,276.6 290.4,274.6 290.9,269.8 291.4,268.1 291.9,273.6 292.4,276.8 292.9,275.1 293.4,272.8 293.9,269.6 294.4,265.4 294.9,269.8 295.4,272.9 295.9,275.2 296.4,274.3 296.9,274.4 297.4,276.8 297.9,276.4 298.4,274.9 298.9,270.8 299.4,268.6 299.9,273.5 300.4,276.2 300.9,274.3 301.4,271.8 301.9,272.8 302.4,275.1 302.9,276.7 303.4,277.2 303.9,277.2 304.4,277.2 304.9,277.2 305.4,277.2 305.9,277.2 306.4,277.2 306.9,277.2 307.4,277.2 307.9,277.2 308.4,277.2 308.9,276.4 309.4,277.2 309.9,277.2 310.4,277.2 310.9,277.2 311.4,277.2 311.9,277.2 312.4,276.4 312.9,273.5 313.4,276.7 313.9,277.2 314.4,277.2 314.9,276.1 315.4,274.4 315.9,272.2 316.4,269.3 316.9,265.6 317.4,267.2 317.9,270.6 318.4,273.2 318.9,275.1 319.4,276.6 319.9,277.2 320.4,277.6 320.9,277.6 321.4,277.6 321.9,277.6 322.4,277.6 322.9,277.6 323.4,277.6 323.9,277.6 324.4,277.6 324.9,277.6 325.4,277.1 325.9,277.6 326.4,277.6 326.9,277.6 327.4,277.0 327.9,275.0 328.4,274.0 328.9,276.3 329.4,277.6 329.9,277.6 330.4,277.6 330.9,276.8 331.4,275.3 331.9,273.2 332.4,270.4 332.9,269.0 333.4,272.2 333.9,274.5 334.4,276.3 334.9,274.5 335.4,269.8 335.9,269.0 336.4,274.0 336.9,277.0 337.4,277.6 337.9,277.6 338.4,277.6 338.9,277.6 339.4,277.6 339.9,277.6 340.4,277.6 340.9,277.6 341.4,277.5 341.9,275.1 342.4,273.8 342.9,276.7 343.4,277.6 343.9,277.6 344.4,277.6 344.9,277.4 345.4,276.1 345.9,276.0 346.4,275.8 346.9,274.2 347.4,272.1 347.9,274.3 348.4,275.3 348.9,273.3 349.4,273.9 349.9,275.8 350.4,275.7 350.9,277.1 351.4,277.2 351.9,275.9 352.4,274.3 352.9,272.3 353.4,269.6 353.9,266.1 354.4,268.2 354.9,271.2 355.4,273.5 355.9,271.4 356.4,274.9 356.9,275.5 357.4,273.7 357.9,272.7 358.4,274.8 358.9,276.3 359.4,277.5 359.9,277.6 360.4,277.6 360.9,277.6 361.4,277.6 361.9,276.8 362.4,275.4 362.9,273.6 363.4,271.2 363.9,268.1 364.4,267.3 364.9,270.6 365.4,273.1 365.9,275.1 366.4,276.5 366.9,277.6 367.4,277.6 367.9,277.6 368.4,277.6 368.9,277.6 369.4,277.6 369.9,276.9 370.4,275.1 370.9,272.6 371.4,273.2 371.9,275.5 372.4,277.2 372.9,276.5 373.4,273.8 373.9,275.6 374.4,277.6 374.9,277.6 375.4,277.6 375.9,277.6 376.4,276.7 376.9,275.9 377.4,274.3 377.9,272.2 378.4,274.3 378.9,275.9 379.4,277.1 379.9,277.6 380.4,277.6 380.9,277.6 381.4,276.5 381.9,273.4 382.4,270.6 382.9,274.7 383.4,277.3 383.9,277.6 384.4,277.6 384.9,277.1 385.4,276.8 385.9,277.2 386.4,275.7 386.9,273.7 387.4,271.0 387.9,267.3 388.4,271.1 388.9,273.8 389.4,275.8 389.9,277.2 390.4,277.6 390.9,277.6 391.4,277.6 391.9,277.6 392.4,277.6 392.9,276.4 393.4,274.1 393.9,270.5 394.4,270.9 394.9,274.3 395.4,274.9 395.9,272.4 396.4,271.0 396.9,267.1 397.4,261.6 397.9,256.9 398.4,263.7 398.9,268.6 399.4,272.2 399.9,274.7 400.4,275.8 400.9,274.1 401.4,271.9 401.9,269.0 402.4,265.2 402.9,268.2 403.4,271.3 403.9,273.3 404.4,268.4 404.9,270.6 405.4,274.6 405.9,277.1 406.4,277.6 406.9,277.1 407.4,276.0 407.9,273.5 408.4,269.9 408.9,264.4 409.4,266.9 409.9,271.6 410.4,274.7 410.9,276.8 411.4,275.9 411.9,273.3 412.4,269.5 412.9,263.8 413.4,268.7 413.9,272.8 414.4,275.6 414.9,277.4 415.4,277.6 415.9,277.6 416.4,276.8 416.9,275.3 417.4,273.4 417.9,270.9 418.4,268.2 418.9,271.4 419.4,273.8 419.9,275.6 420.4,276.9 420.9,277.6 421.4,277.6 421.9,277.6 422.4,277.3 422.9,275.1 423.4,271.6 423.9,266.2 424.4,270.4 424.9,274.3 425.4,276.8 425.9,277.6 426.4,277.6 426.9,277.6 427.4,277.0 427.9,275.2 428.4,272.7 428.9,269.1 429.4,268.1 429.9,271.9 430.4,274.7 430.9,276.6 431.4,278.0 431.9,278.9 432.4,279.6 432.9,279.6 433.4,279.6 433.9,279.6 434.4,279.5 434.9,278.7 435.4,277.6 435.9,276.1 436.4,273.9 436.9,275.5 437.4,277.2 437.9,278.4 438.4,279.3 438.9,279.6 439.4,279.6 439.9,278.3 440.4,276.2 440.9,277.3 441.4,276.0 441.9,273.2 442.4,275.7 442.9,277.7 443.4,278.9 443.9,279.4 444.4,278.9 444.9,279.6 445.4,279.2 445.9,277.9 446.4,277.2 446.9,278.3 447.4,277.1 447.9,275.6 448.4,275.2 448.9,276.9 449.4,278.1 449.9,278.9 450.4,278.8 450.9,279.5 451.4,279.3 451.9,278.7 452.4,277.8 452.9,278.2 453.4,279.0 453.9,279.5 454.4,279.6 454.9,279.6 455.4,279.6 455.9,279.6 456.4,279.6 456.9,279.6 457.4,279.6 457.9,279.6 458.4,279.6 458.9,279.6 459.4,279.6 459.9,279.6 460.4,279.6 460.9,279.6 461.4,279.6 461.9,279.6 462.4,279.5 462.9,278.9 463.4,278.2 463.9,277.2 464.4,277.2 464.9,278.2 465.4,278.9 465.9,279.4 466.4,279.5 466.9,278.7 467.4,277.7 467.9,278.9 468.4,278.7 468.9,277.5 469.4,275.6 469.9,275.4 470.4,277.4 470.9,277.8 471.4,275.5 471.9,276.1 472.4,278.1 472.9,279.4 473.4,279.5 473.9,278.4 474.4,277.8 474.9,279.2 475.4,279.6 475.9,279.6 476.4,279.6 476.9,279.4 477.4,279.5 477.9,279.6 478.4,279.6 478.9,279.6 479.4,279.4 479.9,278.7 480.4,277.7 480.9,276.3 481.4,277.6 481.9,278.7 482.4,278.4 482.9,276.8 483.4,274.8 483.9,277.1 484.4,278.6 484.9,278.3 485.4,279.5 485.9,279.6 486.4,279.6 486.9,279.6 487.4,278.9 487.9,279.1 488.4,279.1 488.9,277.6 489.4,277.3 489.9,278.9 490.4,279.2 490.9,278.6 491.4,277.8 491.9,278.5 492.4,279.1 492.9,279.6 493.4,279.6 493.9,279.6 494.4,279.6 494.9,279.6 495.4,278.7 495.9,277.2 496.4,276.4 496.9,278.2 497.4,279.3 497.9,279.6 498.4,279.5 498.9,279.1 499.4,278.8 499.9,278.0 500.4,276.4 500.9,274.4 501.4,276.7 501.9,278.2 502.4,277.5 502.9,276.2 503.4,275.1 503.9,276.7 504.4,277.9 504.9,278.2 505.4,278.9 505.9,277.7 506.4,277.4 506.9,278.9 507.4,278.5 507.9,278.9 508.4,278.9 508.9,278.9 509.4,278.9 509.9,278.9 510.4,278.3 510.9,276.8 511.4,274.6 511.9,271.2 512.4,266.2 512.9,267.4 513.4,272.0 513.9,275.1 514.4,277.2 514.9,278.5 515.4,278.7 515.9,277.5 516.4,277.6 516.9,278.8 517.4,278.9 517.9,278.9 518.4,278.6 518.9,277.4 519.4,278.1 519.9,278.9 520.4,278.9 520.9,278.4 521.4,277.5 521.9,276.9 522.4,278.0 522.9,278.8 523.4,278.9 523.9,278.9 524.4,278.7 524.9,277.7 525.4,276.3 525.9,274.3 526.4,275.0 526.9,276.8 527.4,278.0 527.9,278.9 528.4,278.9 528.9,278.9 529.4,278.9 529.9,278.9 530.4,278.9 530.9,278.9 531.4,278.9 531.9,278.9 532.4,278.9 532.9,278.9 533.4,278.9 533.9,278.9 534.4,278.9 534.9,277.9 535.4,276.9 535.9,278.6 536.4,278.9 536.9,277.7 537.4,275.7 537.9,272.5 538.4,275.7 538.9,277.5 539.4,276.3 539.9,275.7 540.4,277.0 540.9,278.0 541.4,278.8 541.9,278.5 542.4,276.8 542.9,276.8 543.4,278.5 543.9,277.6 544.4,276.3 544.9,274.5 545.4,272.9 545.9,275.1 546.4,276.7 546.9,277.9 547.4,278.8 547.9,278.0 548.4,277.9 548.9,277.2 549.4,275.4 549.9,272.9 550.4,273.0 550.9,275.5 551.4,277.2 551.9,278.4 552.4,278.5 552.9,278.9 553.4,278.4 553.9,277.0 554.4,274.9 554.9,273.5 555.4,276.1 555.9,277.8 556.4,278.9 556.9,278.8 557.4,277.6 557.9,275.4 558.4,275.1 558.9,277.4 559.4,278.9 559.9,278.9 560.4,275.6 560.9,275.6 561.4,275.0 561.9,275.0 562.4,275.6 562.9,274.8 563.4,272.4 563.9,270.0 564.4,273.0 564.9,271.0 565.4,266.0 565.9,267.1 566.4,271.8 566.9,274.9 567.4,275.4 567.9,275.6 568.4,274.9 568.9,271.3 569.4,265.5 569.9,256.4 570.4,262.1 570.9,269.1 571.4,271.5 571.9,267.0 572.4,267.8 572.9,272.1 573.4,275.0 573.9,274.9 574.4,275.0 574.9,273.5 575.4,274.4 575.9,275.2 576.4,274.4 576.9,275.6 577.4,275.6 577.9,275.6 578.4,275.6 578.9,275.6 579.4,275.6 579.9,275.6 580.4,275.6 580.9,275.6 581.4,275.6 581.9,275.6 582.4,275.6 582.9,275.6 583.4,275.6 583.9,275.6 584.4,275.6 584.9,275.6 585.4,275.6 585.9,275.6 586.4,275.4 586.9,273.6 587.4,271.5 587.9,271.4 588.4,268.5 588.9,264.8 589.4,263.6 589.9,267.6 590.4,270.7 590.9,273.0 591.4,274.9 591.9,276.3 592.4,277.4 592.9,277.8 593.4,276.5 593.9,275.7 594.4,277.2 594.9,276.4 595.4,274.0 595.9,276.3 596.4,277.9 596.9,278.1 597.4,276.1 597.9,276.2 598.4,278.1 598.9,277.5 599.4,276.4 599.9,275.2 600.4,276.6 600.9,277.7 601.4,275.3 601.9,271.0 602.4,271.9 602.9,275.8 603.4,278.1 603.9,278.1 604.4,278.1 604.9,277.7 605.4,277.1 605.9,275.8 606.4,274.1 606.9,272.0 607.4,274.1 607.9,275.8 608.4,277.1 608.9,278.0 609.4,278.1 609.9,278.1 610.4,278.1 610.9,278.1 611.4,278.1 611.9,278.1 612.4,278.1 612.9,278.1 613.4,278.1 613.9,278.1 614.4,278.1 614.9,277.2 615.4,275.9 615.9,276.2 616.4,274.5 616.9,272.1 617.4,272.0 617.9,274.4 618.4,276.1 618.9,275.5 619.4,275.7 619.9,277.1 620.4,278.2 620.9,279.0 621.4,279.6 621.9,280.0 622.4,280.3 622.9,280.6 623.4,280.5 623.9,280.2 624.4,279.9 624.9,279.8 625.4,280.2 625.9,280.1 626.4,280.4 626.9,280.6 627.4,280.6 627.9,280.6 628.4,280.4 628.9,280.1 629.4,279.8 629.9,279.9 630.4,280.2 630.9,280.4 631.4,280.4 631.9,280.2 632.4,279.8 632.9,279.7 633.4,280.1 633.9,280.4 634.4,280.6 634.9,280.6 635.4,280.6 635.9,280.6 636.4,280.6 636.9,280.6 637.4,280.4 637.9,280.6 638.4,280.6 638.9,280.5 639.4,280.1 639.9,279.3 640.4,279.4 640.9,279.6 641.4,278.9 641.9,278.0 642.4,277.4 642.9,278.5 643.4,279.2 643.9,279.8 644.4,280.2 644.9,280.5 645.4,280.6 645.9,280.2 646.4,279.9 646.9,280.4 647.4,280.6 647.9,280.6 648.4,280.6 648.9,280.4 649.4,279.9 649.9,280.1 650.4,280.4 650.9,280.3 651.4,280.0 651.9,279.5 652.4,279.9 652.9,280.3 653.4,280.5 653.9,280.6 654.4,280.6 654.9,280.6 655.4,280.6 655.9,280.6 656.4,280.6 656.9,280.4 657.4,280.1 657.9,279.6 658.4,278.9 658.9,279.4 659.4,279.9 659.9,280.3 660.4,280.6 660.9,280.6 661.4,280.6 661.9,280.6 662.4,280.6 662.9,280.6 663.4,280.5 663.9,280.6 664.4,280.6 664.9,280.6 665.4,280.4 665.9,280.0 666.4,280.4 666.9,280.6 667.4,280.6 667.9,280.5 668.4,280.1 668.9,279.5 669.4,280.1 669.9,280.5 670.4,280.6 670.9,280.6 671.4,280.6 671.9,280.4 672.4,280.2 672.9,279.8 673.4,279.4 673.9,279.5 674.4,280.0 674.9,280.2 675.4,280.3 675.9,280.6 676.4,280.6 676.9,280.5 677.4,280.6 677.9,280.6 678.4,280.6 678.9,280.6 679.4,280.6 679.9,280.6 680.4,280.3 680.9,279.9 681.4,279.2 681.9,278.8 682.4,279.6 682.9,280.2 683.4,280.5 683.9,280.6 684.4,280.6 684.9,280.6 685.4,280.6 685.9,280.6 686.4,280.6 686.9,280.6 687.4,280.6 687.9,280.6 688.4,280.6 688.9,280.6 689.4,280.6 689.9,280.6 690.4,280.6 690.9,280.6 691.4,280.6 691.9,280.6 692.4,280.6 692.9,280.6 693.4,280.6 693.9,280.4 694.4,280.0 694.9,279.6 695.4,280.0 695.9,280.3 696.4,280.6 696.9,280.6 697.4,280.6 697.9,280.6 697.9,281.2"/><polygon points="78.60,281.25 79.70,278.00 80.55,273.12 81.15,267.44 81.40,265.00 82.00,265.00 82.25,267.44 82.85,273.12 83.70,278.00 84.80,281.25"/><polygon points="80.70,281.25 81.80,276.90 82.65,270.38 83.25,262.76 83.50,259.50 84.10,259.50 84.35,262.76 84.95,270.38 85.80,276.90 86.90,281.25"/><polygon points="101.70,281.25 102.80,276.60 103.65,269.62 104.25,261.49 104.50,258.00 105.10,258.00 105.35,261.49 105.95,269.62 106.80,276.60 107.90,281.25"/><polygon points="114.10,281.25 115.20,271.00 116.05,255.62 116.65,237.69 116.90,230.00 117.50,230.00 117.75,237.69 118.35,255.62 119.20,271.00 120.30,281.25"/><polygon points="127.10,281.25 128.20,272.14 129.05,258.48 129.65,242.53 129.90,235.70 130.50,235.70 130.75,242.53 131.35,258.48 132.20,272.14 133.30,281.25"/><polygon points="136.40,281.25 137.50,275.18 138.35,266.07 138.95,255.45 139.20,250.90 139.80,250.90 140.05,255.45 140.65,266.07 141.50,275.18 142.60,281.25"/><polygon points="159.10,281.25 160.20,269.12 161.05,250.93 161.65,229.70 161.90,220.60 162.50,220.60 162.75,229.70 163.35,250.93 164.20,269.12 165.30,281.25"/><polygon points="181.20,281.25 182.30,276.48 183.15,269.32 183.75,260.98 184.00,257.40 184.60,257.40 184.85,260.98 185.45,269.32 186.30,276.48 187.40,281.25"/><polygon points="195.90,281.25 197.00,278.00 197.85,273.12 198.45,267.44 198.70,265.00 199.30,265.00 199.55,267.44 200.15,273.12 201.00,278.00 202.10,281.25"/><polygon points="201.30,281.25 202.40,278.80 203.25,275.12 203.85,270.84 204.10,269.00 204.70,269.00 204.95,270.84 205.55,275.12 206.40,278.80 207.50,281.25"/><polygon points="205.60,281.25 206.70,278.00 207.55,273.12 208.15,267.44 208.40,265.00 209.00,265.00 209.25,267.44 209.85,273.12 210.70,278.00 211.80,281.25"/><polygon points="211.90,281.25 213.00,278.40 213.85,274.12 214.45,269.14 214.70,267.00 215.30,267.00 215.55,269.14 216.15,274.12 217.00,278.40 218.10,281.25"/><polygon points="216.60,281.25 217.70,278.00 218.55,273.12 219.15,267.44 219.40,265.00 220.00,265.00 220.25,267.44 220.85,273.12 221.70,278.00 222.80,281.25"/><polygon points="223.10,281.25 224.20,277.12 225.05,270.93 225.65,263.70 225.90,260.60 226.50,260.60 226.75,263.70 227.35,270.93 228.20,277.12 229.30,281.25"/><polygon points="244.80,281.25 245.90,272.36 246.75,259.02 247.35,243.47 247.60,236.80 248.20,236.80 248.45,243.47 249.05,259.02 249.90,272.36 251.00,281.25"/><polygon points="245.60,281.25 246.70,271.80 247.55,257.62 248.15,241.09 248.40,234.00 249.00,234.00 249.25,241.09 249.85,257.62 250.70,271.80 251.80,281.25"/><polygon points="261.90,281.25 263.00,270.54 263.85,254.47 264.45,235.73 264.70,227.70 265.30,227.70 265.55,235.73 266.15,254.47 267.00,270.54 268.10,281.25"/><polygon points="263.40,281.25 264.50,262.74 265.35,234.97 265.95,202.58 266.20,188.70 266.80,188.70 267.05,202.58 267.65,234.97 268.50,262.74 269.60,281.25"/><polygon points="271.40,281.25 272.50,273.00 273.35,260.62 273.95,246.19 274.20,240.00 274.80,240.00 275.05,246.19 275.65,260.62 276.50,273.00 277.60,281.25"/><polygon points="279.40,281.25 280.50,276.68 281.35,269.82 281.95,261.83 282.20,258.40 282.80,258.40 283.05,261.83 283.65,269.82 284.50,276.68 285.60,281.25"/><polygon points="293.50,281.25 294.60,278.80 295.45,275.12 296.05,270.84 296.30,269.00 296.90,269.00 297.15,270.84 297.75,275.12 298.60,278.80 299.70,281.25"/><polygon points="304.20,281.25 305.30,244.26 305.85,188.78 306.15,114.80 306.40,96.30 307.00,96.30 307.25,114.80 307.55,188.78 308.10,244.26 309.20,281.25"/><polygon points="309.80,281.25 310.90,252.70 311.45,209.88 311.75,152.78 312.00,138.50 312.60,138.50 312.85,152.78 313.15,209.88 313.70,252.70 314.80,281.25"/><polygon points="334.00,281.25 335.10,249.20 335.65,201.12 335.95,137.03 336.20,121.00 336.80,121.00 337.05,137.03 337.35,201.12 337.90,249.20 339.00,281.25"/><polygon points="341.90,281.25 343.00,269.76 343.85,252.53 344.45,232.42 344.70,223.80 345.30,223.80 345.55,232.42 346.15,252.53 347.00,269.76 348.10,281.25"/><polygon points="369.90,281.25 371.00,271.46 371.85,256.77 372.45,239.64 372.70,232.30 373.30,232.30 373.55,239.64 374.15,256.77 375.00,271.46 376.10,281.25"/><polygon points="374.80,281.25 375.90,273.60 376.75,262.12 377.35,248.74 377.60,243.00 378.20,243.00 378.45,248.74 379.05,262.12 379.90,273.60 381.00,281.25"/><polygon points="391.50,281.25 392.60,277.72 393.45,272.43 394.05,266.25 394.30,263.60 394.90,263.60 395.15,266.25 395.75,272.43 396.60,277.72 397.70,281.25"/><polygon points="400.70,281.25 401.80,275.88 402.65,267.82 403.25,258.43 403.50,254.40 404.10,254.40 404.35,258.43 404.95,267.82 405.80,275.88 406.90,281.25"/><polygon points="404.20,281.25 405.30,272.20 406.15,258.62 406.75,242.79 407.00,236.00 407.60,236.00 407.85,242.79 408.45,258.62 409.30,272.20 410.40,281.25"/><polygon points="405.30,281.25 406.40,274.50 407.25,264.38 407.85,252.56 408.10,247.50 408.70,247.50 408.95,252.56 409.55,264.38 410.40,274.50 411.50,281.25"/><polygon points="454.20,281.25 455.30,246.00 455.85,193.12 456.15,122.62 456.40,105.00 457.00,105.00 457.25,122.62 457.55,193.12 458.10,246.00 459.20,281.25"/><polygon points="468.60,281.25 469.70,267.60 470.55,247.12 471.15,223.24 471.40,213.00 472.00,213.00 472.25,223.24 472.85,247.12 473.70,267.60 474.80,281.25"/><polygon points="502.90,281.25 504.00,278.60 504.85,274.62 505.45,269.99 505.70,268.00 506.30,268.00 506.55,269.99 507.15,274.62 508.00,278.60 509.10,281.25"/><polygon points="551.30,281.25 552.40,273.00 553.25,260.62 553.85,246.19 554.10,240.00 554.70,240.00 554.95,246.19 555.55,260.62 556.40,273.00 557.50,281.25"/><polygon points="556.80,281.25 557.90,251.06 558.45,205.78 558.75,145.40 559.00,130.30 559.60,130.30 559.85,145.40 560.15,205.78 560.70,251.06 561.80,281.25"/><polygon points="566.30,281.25 567.40,271.00 568.25,255.62 568.85,237.69 569.10,230.00 569.70,230.00 569.95,237.69 570.55,255.62 571.40,271.00 572.50,281.25"/><polygon points="570.90,281.25 572.00,275.88 572.85,267.82 573.45,258.43 573.70,254.40 574.30,254.40 574.55,258.43 575.15,267.82 576.00,275.88 577.10,281.25"/><polygon points="574.10,281.25 575.20,257.12 575.75,220.93 576.05,172.66 576.30,160.60 576.90,160.60 577.15,172.66 577.45,220.93 578.00,257.12 579.10,281.25"/><polygon points="590.20,281.25 591.30,278.96 592.15,275.52 592.75,271.52 593.00,269.80 593.60,269.80 593.85,271.52 594.45,275.52 595.30,278.96 596.40,281.25"/><polygon points="596.40,281.25 597.50,277.32 598.35,271.43 598.95,264.55 599.20,261.60 599.80,261.60 600.05,264.55 600.65,271.43 601.50,277.32 602.60,281.25"/><polygon points="600.50,281.25 601.60,277.86 602.45,272.77 603.05,266.84 603.30,264.30 603.90,264.30 604.15,266.84 604.75,272.77 605.60,277.86 606.70,281.25"/><polygon points="609.90,281.25 611.00,278.40 611.85,274.12 612.45,269.14 612.70,267.00 613.30,267.00 613.55,269.14 614.15,274.12 615.00,278.40 616.10,281.25"/><polygon points="648.70,281.25 649.80,278.40 650.65,274.12 651.25,269.14 651.50,267.00 652.10,267.00 652.35,269.14 652.95,274.12 653.80,278.40 654.90,281.25"/></g>
<line x1="50.7" y1="304.25" x2="719.5" y2="304.25" stroke="#ff8000" stroke-opacity="0.4" stroke-width="0.9"/>
<g fill="#ff8000"><polygon points="65.2,304.2 65.2,297.7 65.7,299.2 66.2,300.2 66.7,300.2 67.2,299.7 67.7,296.4 68.2,294.7 68.7,298.7 69.2,300.2 69.7,300.2 70.2,300.2 70.7,300.2 71.2,300.2 71.7,300.2 72.2,297.3 72.7,299.6 73.2,299.8 73.7,298.3 74.2,298.0 74.7,295.7 75.2,292.7 75.7,289.2 76.2,293.1 76.7,295.4 77.2,291.3 77.7,293.2 78.2,296.7 78.7,296.4 79.2,293.6 79.7,289.8 80.2,291.8 80.7,295.1 81.2,297.5 81.7,299.3 82.2,299.6 82.7,298.3 83.2,296.6 83.7,294.3 84.2,291.4 84.7,292.5 85.2,295.1 85.7,297.2 86.2,298.8 86.7,298.6 87.2,299.4 87.7,300.2 88.2,300.2 88.7,300.2 89.2,300.2 89.7,300.2 90.2,300.2 90.7,300.2 91.2,300.2 91.7,300.2 92.2,299.3 92.7,297.6 93.2,295.3 93.7,297.6 94.2,299.3 94.7,298.3 95.2,295.5 95.7,292.4 96.2,290.3 96.7,285.6 97.2,279.5 97.7,278.5 98.2,284.9 98.7,289.7 99.2,293.3 99.7,296.0 100.2,298.1 100.7,299.6 101.2,300.2 101.7,300.2 102.2,300.2 102.7,300.2 103.2,299.7 103.7,298.1 104.2,298.4 104.7,299.9 105.2,300.2 105.7,298.7 106.2,296.2 106.7,292.7 107.2,292.3 107.7,295.9 108.2,298.5 108.7,295.7 109.2,289.8 109.7,290.8 110.2,296.3 110.7,299.5 111.2,300.1 111.7,298.7 112.2,296.8 112.7,294.3 113.2,293.9 113.7,296.5 114.2,296.9 114.7,298.7 115.2,300.2 115.7,300.2 116.2,300.2 116.7,300.2 117.2,300.2 117.7,300.2 118.2,300.2 118.7,300.1 119.2,300.2 119.7,300.2 120.2,298.3 120.7,295.3 121.2,290.8 121.7,290.8 122.2,295.3 122.7,298.3 123.2,299.4 123.7,299.4 124.2,297.9 124.7,294.6 125.2,289.7 125.7,290.5 126.2,295.2 126.7,298.2 127.2,299.4 127.7,299.4 128.2,299.4 128.7,299.4 129.2,299.4 129.7,299.4 130.2,299.4 130.7,299.4 131.2,299.4 131.7,299.4 132.2,299.4 132.7,299.4 133.2,299.4 133.7,299.4 134.2,299.4 134.7,299.4 135.2,299.4 135.7,299.4 136.2,298.8 136.7,299.4 137.2,299.4 137.7,296.9 138.2,291.4 138.7,284.0 139.2,292.6 139.7,297.6 140.2,296.0 140.7,291.8 141.2,291.0 141.7,295.5 142.2,298.0 142.7,295.8 143.2,292.7 143.7,291.8 144.2,295.1 144.7,292.0 145.2,283.4 145.7,277.5 146.2,288.5 146.7,295.0 147.2,298.1 147.7,299.1 148.2,297.3 148.7,294.7 149.2,291.2 149.7,292.6 150.2,295.7 150.7,298.0 151.2,299.4 151.7,298.5 152.2,296.4 152.7,293.4 153.2,289.4 153.7,283.8 154.2,288.3 154.7,292.6 155.2,295.2 155.7,297.7 156.2,299.4 156.7,298.0 157.2,297.5 157.7,299.4 158.2,299.4 158.7,299.4 159.2,299.4 159.7,297.7 160.2,293.8 160.7,294.4 161.2,298.1 161.7,298.5 162.2,295.1 162.7,289.5 163.2,291.3 163.7,296.1 164.2,295.0 164.7,297.2 165.2,299.1 165.7,299.4 166.2,298.7 166.7,297.2 167.2,299.4 167.7,299.4 168.2,299.3 168.7,296.0 169.2,295.8 169.7,291.8 170.2,285.9 170.7,277.2 171.2,274.3 171.7,283.9 172.2,290.5 172.7,294.9 173.2,297.8 173.7,297.4 174.2,295.4 174.7,292.9 175.2,295.5 175.7,297.5 176.2,295.5 176.7,291.8 177.2,286.5 177.7,279.1 178.2,269.4 178.7,279.7 179.2,287.0 179.7,292.1 180.2,294.3 180.7,289.6 181.2,291.0 181.7,295.3 182.2,295.3 182.7,292.5 183.2,293.0 183.7,295.7 184.2,297.7 184.7,299.2 185.2,299.4 185.7,299.4 186.2,299.2 186.7,299.4 187.2,299.4 187.7,296.8 188.2,298.6 188.7,296.2 189.2,292.7 189.7,293.6 190.2,293.4 190.7,290.2 191.2,288.6 191.7,292.0 192.2,287.7 192.7,286.5 193.2,291.2 193.7,294.7 194.2,297.2 194.7,298.3 195.2,296.3 195.7,293.8 196.2,294.8 196.7,297.1 197.2,298.8 197.7,299.4 198.2,299.4 198.7,299.4 199.2,299.4 199.7,299.4 200.2,299.4 200.7,299.4 201.2,299.4 201.7,299.0 202.2,298.6 202.7,299.4 203.2,298.7 203.7,297.1 204.2,295.0 204.7,292.2 205.2,288.6 205.7,290.2 206.2,293.4 206.7,295.9 207.2,297.8 207.7,293.4 208.2,295.7 208.7,299.2 209.2,299.4 209.7,296.5 210.2,291.6 210.7,289.5 211.2,295.3 211.7,298.8 212.2,297.8 212.7,295.6 213.2,292.7 213.7,293.2 214.2,296.0 214.7,297.3 215.2,294.9 215.7,294.7 216.2,297.1 216.7,298.9 217.2,299.4 217.7,299.4 218.2,299.4 218.7,299.4 219.2,299.4 219.7,299.4 220.2,298.6 220.7,296.1 221.2,292.6 221.7,287.7 222.2,280.6 222.7,277.9 223.2,285.8 223.7,291.3 224.2,291.6 224.7,287.9 225.2,283.2 225.7,282.4 226.2,287.3 226.7,291.2 227.2,294.1 227.7,293.6 228.2,290.2 228.7,290.2 229.2,293.6 229.7,296.2 230.2,298.1 230.7,299.4 231.2,299.4 231.7,298.2 232.2,295.6 232.7,291.8 233.2,286.4 233.7,290.9 234.2,294.9 234.7,297.8 235.2,299.4 235.7,298.0 236.2,298.7 236.7,298.7 237.2,296.2 237.7,292.5 238.2,293.4 238.7,296.9 239.2,299.2 239.7,299.4 240.2,299.3 240.7,298.6 241.2,298.2 241.7,295.8 242.2,296.2 242.7,298.5 243.2,299.4 243.7,299.4 244.2,299.4 244.7,299.4 245.2,299.4 245.7,299.4 246.2,299.1 246.7,296.8 247.2,293.6 247.7,288.8 248.2,291.9 248.7,295.7 249.2,298.3 249.7,297.5 250.2,293.4 250.7,294.3 251.2,298.1 251.7,297.0 252.2,297.4 252.7,299.4 253.2,299.4 253.7,299.4 254.2,299.3 254.7,298.7 255.2,299.4 255.7,299.4 256.2,299.0 256.7,298.5 257.2,294.5 257.7,287.8 258.2,287.6 258.7,294.5 259.2,298.5 259.7,298.3 260.2,298.7 260.7,299.1 261.2,297.2 261.7,299.2 262.2,299.4 262.7,298.8 263.2,295.9 263.7,291.6 264.2,285.7 264.7,292.1 265.2,296.3 265.7,299.0 266.2,299.4 266.7,299.4 267.2,299.4 267.7,299.4 268.2,299.4 268.7,297.3 269.2,292.7 269.7,284.9 270.2,288.1 270.7,294.6 271.2,295.9 271.7,297.6 272.2,297.2 272.7,295.0 273.2,292.1 273.7,288.3 274.2,288.7 274.7,292.5 275.2,295.3 275.7,295.4 276.2,292.6 276.7,289.0 277.2,292.0 277.7,294.9 278.2,292.5 278.7,288.7 279.2,283.5 279.7,276.9 280.2,283.7 280.7,288.8 281.2,292.6 281.7,295.5 282.2,297.7 282.7,299.3 283.2,299.4 283.7,299.4 284.2,299.4 284.7,298.7 285.2,296.9 285.7,294.6 286.2,291.5 286.7,287.4 287.2,288.7 287.7,292.4 288.2,295.3 288.7,297.3 289.2,295.2 289.7,293.8 290.2,296.2 290.7,297.2 291.2,293.7 291.7,288.5 292.2,288.7 292.7,293.9 293.2,297.3 293.7,299.4 294.2,299.4 294.7,299.4 295.2,299.4 295.7,299.4 296.2,299.4 296.7,297.6 297.2,294.7 297.7,295.0 298.2,297.8 298.7,299.4 299.2,299.3 299.7,299.4 300.2,299.4 300.7,299.4 301.2,299.4 301.7,299.4 302.2,299.4 302.7,299.4 303.2,299.4 303.7,299.1 304.2,295.7 304.7,291.1 305.2,296.3 305.7,299.4 306.2,298.4 306.7,296.0 307.2,296.7 307.7,298.9 308.2,298.0 308.7,293.8 309.2,286.6 309.7,289.1 310.2,295.2 310.7,298.9 311.2,299.4 311.7,299.4 312.2,299.4 312.7,299.4 313.2,297.3 313.7,294.5 314.2,290.5 314.7,294.0 315.2,297.0 315.7,296.2 316.2,297.3 316.7,299.0 317.2,297.6 317.7,295.0 318.2,291.5 318.7,292.3 319.2,295.6 319.7,296.1 320.2,293.5 320.7,290.0 321.2,288.9 321.7,292.7 322.2,295.6 322.7,297.7 323.2,298.7 323.7,298.9 324.2,300.2 324.7,300.2 325.2,300.2 325.7,300.2 326.2,300.2 326.7,300.2 327.2,300.2 327.7,298.7 328.2,295.5 328.7,291.0 329.2,295.8 329.7,298.8 330.2,300.2 330.7,299.9 331.2,298.7 331.7,297.0 332.2,294.9 332.7,292.2 333.2,288.7 333.7,284.1 334.2,278.2 334.7,279.4 335.2,285.1 335.7,289.4 336.2,292.8 336.7,295.4 337.2,297.4 337.7,298.9 338.2,297.9 338.7,295.5 339.2,292.0 339.7,292.4 340.2,295.7 340.7,297.8 341.2,295.9 341.7,298.8 342.2,300.2 342.7,300.2 343.2,298.9 343.7,297.0 344.2,297.1 344.7,299.0 345.2,300.2 345.7,300.2 346.2,300.2 346.7,300.2 347.2,300.2 347.7,300.2 348.2,300.2 348.7,300.2 349.2,300.2 349.7,300.2 350.2,300.2 350.7,298.9 351.2,297.3 351.7,299.3 352.2,298.8 352.7,296.6 353.2,293.7 353.7,289.6 354.2,289.9 354.7,293.9 355.2,290.7 355.7,294.6 356.2,297.4 356.7,293.1 357.2,292.4 357.7,297.1 358.2,298.9 358.7,296.8 359.2,293.7 359.7,289.5 360.2,289.6 360.7,293.8 361.2,296.8 361.7,298.9 362.2,298.8 362.7,296.8 363.2,294.0 363.7,290.2 364.2,285.0 364.7,289.3 365.2,293.3 365.7,294.8 366.2,291.6 366.7,287.4 367.2,281.8 367.7,287.3 368.2,288.2 368.7,286.3 369.2,291.3 369.7,295.0 370.2,297.6 370.7,295.2 371.2,291.3 371.7,287.9 372.2,292.7 372.7,296.1 373.2,298.5 373.7,300.2 374.2,300.2 374.7,300.2 375.2,300.2 375.7,300.2 376.2,300.2 376.7,300.2 377.2,300.2 377.7,300.2 378.2,300.2 378.7,300.2 379.2,300.2 379.7,300.2 380.2,300.2 380.7,300.2 381.2,300.2 381.7,300.2 382.2,300.2 382.7,298.9 383.2,297.3 383.7,300.1 384.2,300.2 384.7,300.2 385.2,299.7 385.7,297.4 386.2,299.4 386.7,300.2 387.2,300.2 387.7,300.2 388.2,300.2 388.7,300.2 389.2,300.2 389.7,300.2 390.2,300.1 390.7,298.9 391.2,297.3 391.7,295.2 392.2,295.0 392.7,297.2 393.2,298.8 393.7,297.4 394.2,294.9 394.7,291.4 395.2,288.8 395.7,293.0 396.2,296.0 396.7,293.5 397.2,289.6 397.7,284.3 398.2,289.6 398.7,291.0 399.2,285.6 399.7,277.9 400.2,282.8 400.7,289.1 401.2,292.7 401.7,294.2 402.2,297.0 402.7,299.1 403.2,300.2 403.7,300.2 404.2,300.2 404.7,300.2 405.2,300.2 405.7,300.2 406.2,298.3 406.7,298.3 407.2,300.2 407.7,300.2 408.2,300.2 408.7,300.2 409.2,300.2 409.7,300.2 410.2,300.2 410.7,300.2 411.2,299.8 411.7,296.7 412.2,291.3 412.7,287.0 413.2,294.2 413.7,298.4 414.2,300.2 414.7,300.2 415.2,300.1 415.7,300.2 416.2,298.5 416.7,295.4 417.2,290.7 417.7,286.8 418.2,292.9 418.7,296.8 419.2,299.4 419.7,300.0 420.2,297.7 420.7,295.8 421.2,298.8 421.7,299.0 422.2,297.5 422.7,299.1 423.2,297.6 423.7,295.7 424.2,296.5 424.7,298.2 425.2,299.6 425.7,300.2 426.2,300.2 426.7,300.2 427.2,300.2 427.7,300.2 428.2,300.2 428.7,300.2 429.2,300.2 429.7,300.2 430.2,298.6 430.7,298.6 431.2,298.6 431.7,298.6 432.2,296.9 432.7,292.8 433.2,286.4 433.7,292.3 434.2,296.6 434.7,297.3 435.2,295.2 435.7,292.5 436.2,289.0 436.7,284.5 437.2,278.6 437.7,276.9 438.2,283.2 438.7,288.0 439.2,291.7 439.7,290.8 440.2,293.1 440.7,295.8 441.2,297.8 441.7,298.6 442.2,298.6 442.7,298.6 443.2,295.8 443.7,296.0 444.2,298.6 444.7,298.6 445.2,297.4 445.7,296.9 446.2,298.6 446.7,298.6 447.2,296.5 447.7,293.4 448.2,293.6 448.7,296.6 449.2,298.6 449.7,298.6 450.2,301.2 450.7,301.9 451.2,301.9 451.7,301.2 452.2,300.9 452.7,301.7 453.2,301.9 453.7,301.9 454.2,301.9 454.7,301.9 455.2,301.9 455.7,301.9 456.2,301.9 456.7,301.9 457.2,301.9 457.7,301.9 458.2,301.9 458.7,301.9 459.2,301.9 459.7,301.9 460.2,301.9 460.7,301.9 461.2,301.2 461.7,301.5 462.2,301.9 462.7,301.9 463.2,301.4 463.7,301.9 464.2,301.9 464.7,301.9 465.2,301.3 465.7,299.6 466.2,296.8 466.7,296.1 467.2,299.2 467.7,298.6 468.2,295.9 468.7,296.2 469.2,298.8 469.7,300.3 470.2,300.0 470.7,301.1 471.2,298.8 471.7,295.0 472.2,296.5 472.7,298.8 473.2,297.1 473.7,295.0 474.2,292.2 474.7,288.5 475.2,283.8 475.7,278.7 476.2,284.7 476.7,289.2 477.2,292.7 477.7,290.4 478.2,286.5 478.7,287.8 479.2,291.5 479.7,292.9 480.2,284.6 480.7,291.8 481.2,292.7 481.7,285.8 482.2,289.5 482.7,295.0 483.2,298.4 483.7,298.6 484.2,297.9 484.7,299.3 485.2,299.4 485.7,299.4 486.2,299.4 486.7,299.4 487.2,299.4 487.7,299.4 488.2,299.4 488.7,299.4 489.2,298.2 489.7,296.6 490.2,298.9 490.7,299.4 491.2,299.4 491.7,298.4 492.2,299.4 492.7,299.4 493.2,299.4 493.7,299.4 494.2,299.4 494.7,298.2 495.2,296.1 495.7,293.5 496.2,289.9 496.7,289.5 497.2,293.2 497.7,295.9 498.2,298.0 498.7,295.3 499.2,290.8 499.7,293.4 500.2,297.0 500.7,294.6 501.2,293.6 501.7,296.5 502.2,298.5 502.7,299.4 503.2,298.4 503.7,299.4 504.2,299.4 504.7,299.3 505.2,297.0 505.7,298.7 506.2,299.4 506.7,299.4 507.2,299.4 507.7,299.4 508.2,296.9 508.7,299.4 509.2,299.4 509.7,299.4 510.2,299.4 510.7,299.4 511.2,298.7 511.7,297.0 512.2,294.9 512.7,292.2 513.2,295.0 513.7,297.1 514.2,295.5 514.7,297.5 515.2,294.8 515.7,291.0 516.2,285.7 516.7,289.1 517.2,291.3 517.7,286.4 518.2,291.2 518.7,294.7 519.2,297.3 519.7,298.8 520.2,297.1 520.7,297.1 521.2,297.1 521.7,296.8 522.2,296.6 522.7,295.5 523.2,289.6 523.7,283.9 524.2,292.0 524.7,296.9 525.2,297.1 525.7,297.1 526.2,297.1 526.7,297.1 527.2,297.1 527.7,297.1 528.2,297.1 528.7,297.1 529.2,292.1 529.7,283.6 530.2,287.8 530.7,294.6 531.2,297.1 531.7,297.1 532.2,297.1 532.7,297.1 533.2,295.3 533.7,293.2 534.2,296.1 534.7,294.7 535.2,295.3 535.7,297.1 536.2,296.5 536.7,293.0 537.2,287.9 537.7,280.4 538.2,282.7 538.7,287.9 539.2,282.1 539.7,281.9 540.2,275.8 540.7,263.0 541.2,263.0 541.7,275.8 542.2,284.7 542.7,290.7 543.2,294.9 543.7,297.1 544.2,297.1 544.7,297.1 545.2,296.4 545.7,292.1 546.2,284.0 546.7,287.0 547.2,293.9 547.7,294.0 548.2,288.5 548.7,280.3 549.2,276.6 549.7,286.2 550.2,292.4 550.7,296.5 551.2,295.1 551.7,291.6 552.2,286.9 552.7,286.3 553.2,291.2 553.7,294.8 554.2,295.9 554.7,292.1 555.2,287.0 555.7,292.4 556.2,294.6 556.7,290.9 557.2,285.7 557.7,278.7 558.2,280.9 558.7,287.4 559.2,292.0 559.7,295.4 560.2,293.9 560.7,293.9 561.2,293.9 561.7,293.9 562.2,293.9 562.7,293.4 563.2,290.8 563.7,293.8 564.2,293.9 564.7,293.9 565.2,293.9 565.7,293.9 566.2,293.9 566.7,293.9 567.2,293.9 567.7,293.9 568.2,293.9 568.7,293.9 569.2,292.8 569.7,284.8 570.2,277.9 570.7,263.8 571.2,242.3 571.7,241.6 572.2,263.4 572.7,277.6 573.2,277.3 573.7,265.3 574.2,248.0 574.7,252.1 575.2,268.2 575.7,279.3 576.2,287.0 576.7,292.3 577.2,296.0 577.7,298.5 578.2,298.6 578.7,298.6 579.2,298.6 579.7,298.6 580.2,298.6 580.7,298.6 581.2,298.6 581.7,298.6 582.2,296.7 582.7,292.8 583.2,295.0 583.7,297.6 584.2,293.9 584.7,288.1 585.2,293.4 585.7,297.3 586.2,298.6 586.7,298.6 587.2,298.6 587.7,298.6 588.2,298.2 588.7,294.5 589.2,298.1 589.7,297.8 590.2,293.1 590.7,285.2 591.2,286.5 591.7,289.1 592.2,283.1 592.7,281.7 593.2,288.1 593.7,292.7 594.2,296.0 594.7,295.8 595.2,295.2 595.7,297.8 596.2,296.1 596.7,293.2 597.2,295.2 597.7,291.5 598.2,288.3 598.7,281.9 599.2,273.0 599.7,264.4 600.2,275.8 600.7,283.9 601.2,288.9 601.7,293.4 602.2,296.6 602.7,295.3 603.2,295.1 603.7,297.2 604.2,297.5 604.7,293.6 605.2,287.2 605.7,289.2 606.2,294.8 606.7,298.3 607.2,297.2 607.7,293.7 608.2,288.5 608.7,291.1 609.2,295.4 609.7,298.3 610.2,300.3 610.7,301.6 611.2,302.5 611.7,303.1 612.2,303.4 612.7,303.4 613.2,303.4 613.7,303.7 614.2,303.7 614.7,303.7 615.2,303.4 615.7,303.2 616.2,303.5 616.7,303.7 617.2,303.7 617.7,303.7 618.2,303.7 618.7,303.7 619.2,303.7 619.7,303.7 620.2,303.6 620.7,303.4 621.2,303.2 621.7,302.9 622.2,302.8 622.7,302.7 623.2,302.1 623.7,301.9 624.2,302.6 624.7,303.1 625.2,303.5 625.7,303.2 626.2,302.9 626.7,303.2 627.2,303.4 627.7,303.6 628.2,303.7 628.7,303.7 629.2,303.7 629.7,303.7 630.2,303.7 630.7,303.7 631.2,303.7 631.7,303.7 632.2,303.7 632.7,303.7 633.2,303.7 633.7,303.7 634.2,303.7 634.7,303.7 635.2,303.7 635.7,303.7 636.2,303.7 636.7,303.6 637.2,303.4 637.7,303.1 638.2,303.1 638.7,303.4 639.2,303.6 639.7,303.5 640.2,303.3 640.7,303.0 641.2,303.1 641.7,303.1 642.2,302.5 642.7,303.1 643.2,303.2 643.7,302.9 644.2,303.1 644.7,303.1 645.2,302.5 645.7,301.5 646.2,301.7 646.7,302.6 647.2,303.2 647.7,303.0 648.2,303.1 648.7,303.4 649.2,303.7 649.7,303.5 650.2,303.3 650.7,303.1 651.2,302.7 651.7,302.3 652.2,302.6 652.7,303.0 653.2,302.7 653.7,303.1 654.2,302.9 654.7,302.5 655.2,301.9 655.7,301.0 656.2,301.2 656.7,302.0 657.2,302.6 657.7,303.1 658.2,303.4 658.7,303.5 659.2,303.7 659.7,303.7 660.2,303.6 660.7,303.4 661.2,303.1 661.7,303.0 662.2,303.3 662.7,303.3 663.2,303.0 663.7,302.6 664.2,301.9 664.7,302.4 665.2,302.9 665.7,303.3 666.2,303.5 666.7,303.6 667.2,303.6 667.7,303.7 668.2,303.6 668.7,303.4 669.2,303.5 669.7,303.2 670.2,302.6 670.7,301.5 671.2,301.2 671.7,302.4 672.2,303.1 672.7,303.5 673.2,303.7 673.7,303.7 674.2,303.5 674.7,303.2 675.2,302.8 675.7,302.2 676.2,302.5 676.7,303.0 677.2,303.3 677.7,303.6 678.2,303.7 678.7,303.5 679.2,303.2 679.7,302.6 680.2,301.9 680.7,302.5 681.2,303.1 681.7,303.0 682.2,302.4 682.7,302.4 683.2,303.0 683.7,303.4 684.2,303.5 684.7,303.3 685.2,302.7 685.7,302.0 686.2,302.9 686.7,303.4 686.7,304.2"/><polygon points="65.90,304.25 67.00,301.60 67.85,297.62 68.45,292.99 68.70,291.00 69.30,291.00 69.55,292.99 70.15,297.62 71.00,301.60 72.10,304.25"/><polygon points="69.30,304.25 70.40,298.12 71.25,288.93 71.85,278.20 72.10,273.60 72.70,273.60 72.95,278.20 73.55,288.93 74.40,298.12 75.50,304.25"/><polygon points="102.90,304.25 104.00,291.20 104.85,271.62 105.45,248.79 105.70,239.00 106.30,239.00 106.55,248.79 107.15,271.62 108.00,291.20 109.10,304.25"/><polygon points="114.70,304.25 115.80,297.20 116.65,286.62 117.25,274.29 117.50,269.00 118.10,269.00 118.35,274.29 118.95,286.62 119.80,297.20 120.90,304.25"/><polygon points="124.50,304.25 125.60,300.50 126.45,294.88 127.05,288.31 127.30,285.50 127.90,285.50 128.15,288.31 128.75,294.88 129.60,300.50 130.70,304.25"/><polygon points="147.20,304.25 148.30,295.74 149.15,282.98 149.75,268.08 150.00,261.70 150.60,261.70 150.85,268.08 151.45,282.98 152.30,295.74 153.40,304.25"/><polygon points="168.90,304.25 170.00,299.40 170.85,292.12 171.45,283.64 171.70,280.00 172.30,280.00 172.55,283.64 173.15,292.12 174.00,299.40 175.10,304.25"/><polygon points="181.90,304.25 183.00,301.60 183.85,297.62 184.45,292.99 184.70,291.00 185.30,291.00 185.55,292.99 186.15,297.62 187.00,301.60 188.10,304.25"/><polygon points="189.40,304.25 190.50,300.00 191.35,293.62 191.95,286.19 192.20,283.00 192.80,283.00 193.05,286.19 193.65,293.62 194.50,300.00 195.60,304.25"/><polygon points="191.60,304.25 192.70,299.60 193.55,292.62 194.15,284.49 194.40,281.00 195.00,281.00 195.25,284.49 195.85,292.62 196.70,299.60 197.80,304.25"/><polygon points="202.40,304.25 203.50,299.00 204.35,291.12 204.95,281.94 205.20,278.00 205.80,278.00 206.05,281.94 206.65,291.12 207.50,299.00 208.60,304.25"/><polygon points="212.10,304.25 213.20,296.20 214.05,284.12 214.65,270.04 214.90,264.00 215.50,264.00 215.75,270.04 216.35,284.12 217.20,296.20 218.30,304.25"/><polygon points="211.20,304.25 212.30,300.50 213.15,294.88 213.75,288.31 214.00,285.50 214.60,285.50 214.85,288.31 215.45,294.88 216.30,300.50 217.40,304.25"/><polygon points="217.70,304.25 218.80,302.40 219.65,299.62 220.25,296.39 220.50,295.00 221.10,295.00 221.35,296.39 221.95,299.62 222.80,302.40 223.90,304.25"/><polygon points="232.90,304.25 234.00,299.80 234.85,293.12 235.45,285.34 235.70,282.00 236.30,282.00 236.55,285.34 237.15,293.12 238.00,299.80 239.10,304.25"/><polygon points="251.40,304.25 252.50,285.48 253.35,257.32 253.95,224.48 254.20,210.40 254.80,210.40 255.05,224.48 255.65,257.32 256.50,285.48 257.60,304.25"/><polygon points="259.90,304.25 261.00,299.80 261.85,293.12 262.45,285.34 262.70,282.00 263.30,282.00 263.55,285.34 264.15,293.12 265.00,299.80 266.10,304.25"/><polygon points="260.90,304.25 262.00,292.00 262.85,273.62 263.45,252.19 263.70,243.00 264.30,243.00 264.55,252.19 265.15,273.62 266.00,292.00 267.10,304.25"/><polygon points="276.20,304.25 277.30,290.40 278.15,269.62 278.75,245.39 279.00,235.00 279.60,235.00 279.85,245.39 280.45,269.62 281.30,290.40 282.40,304.25"/><polygon points="283.70,304.25 284.80,292.70 285.65,275.38 286.25,255.16 286.50,246.50 287.10,246.50 287.35,255.16 287.95,275.38 288.80,292.70 289.90,304.25"/><polygon points="292.10,304.25 293.20,269.00 293.75,216.12 294.05,145.62 294.30,128.00 294.90,128.00 295.15,145.62 295.45,216.12 296.00,269.00 297.10,304.25"/><polygon points="297.90,304.25 299.00,289.40 299.85,267.12 300.45,241.14 300.70,230.00 301.30,230.00 301.55,241.14 302.15,267.12 303.00,289.40 304.10,304.25"/><polygon points="302.10,304.25 303.20,287.30 304.05,261.88 304.65,232.21 304.90,219.50 305.50,219.50 305.75,232.21 306.35,261.88 307.20,287.30 308.30,304.25"/><polygon points="319.90,304.25 321.00,286.20 321.85,259.12 322.45,227.54 322.70,214.00 323.30,214.00 323.55,227.54 324.15,259.12 325.00,286.20 326.10,304.25"/><polygon points="328.50,304.25 329.60,298.80 330.45,290.62 331.05,281.09 331.30,277.00 331.90,277.00 332.15,281.09 332.75,290.62 333.60,298.80 334.70,304.25"/><polygon points="335.90,304.25 337.00,298.80 337.85,290.62 338.45,281.09 338.70,277.00 339.30,277.00 339.55,281.09 340.15,290.62 341.00,298.80 342.10,304.25"/><polygon points="357.70,304.25 358.80,295.40 359.65,282.12 360.25,266.64 360.50,260.00 361.10,260.00 361.35,266.64 361.95,282.12 362.80,295.40 363.90,304.25"/><polygon points="389.20,304.25 390.30,299.80 391.15,293.12 391.75,285.34 392.00,282.00 392.60,282.00 392.85,285.34 393.45,293.12 394.30,299.80 395.40,304.25"/><polygon points="393.80,304.25 394.90,297.98 395.75,288.57 396.35,277.60 396.60,272.90 397.20,272.90 397.45,277.60 398.05,288.57 398.90,297.98 400.00,304.25"/><polygon points="434.10,304.25 435.20,299.12 436.05,291.43 436.65,282.45 436.90,278.60 437.50,278.60 437.75,282.45 438.35,291.43 439.20,299.12 440.30,304.25"/><polygon points="442.70,304.25 443.80,268.72 444.35,215.43 444.65,144.36 444.90,126.60 445.50,126.60 445.75,144.36 446.05,215.43 446.60,268.72 447.70,304.25"/><polygon points="457.10,304.25 458.20,288.30 459.05,264.38 459.65,236.46 459.90,224.50 460.50,224.50 460.75,236.46 461.35,264.38 462.20,288.30 463.30,304.25"/><polygon points="492.80,304.25 493.90,299.80 494.75,293.12 495.35,285.34 495.60,282.00 496.20,282.00 496.45,285.34 497.05,293.12 497.90,299.80 499.00,304.25"/><polygon points="516.90,304.25 518.00,299.36 518.85,292.02 519.45,283.47 519.70,279.80 520.30,279.80 520.55,283.47 521.15,292.02 522.00,299.36 523.10,304.25"/><polygon points="536.40,304.25 537.50,289.20 538.35,266.62 538.95,240.29 539.20,229.00 539.80,229.00 540.05,240.29 540.65,266.62 541.50,289.20 542.60,304.25"/><polygon points="544.90,304.25 546.00,270.76 546.55,220.53 546.85,153.55 547.10,136.80 547.70,136.80 547.95,153.55 548.25,220.53 548.80,270.76 549.90,304.25"/><polygon points="551.30,304.25 552.40,291.00 553.25,271.12 553.85,247.94 554.10,238.00 554.70,238.00 554.95,247.94 555.55,271.12 556.40,291.00 557.50,304.25"/><polygon points="560.28,304.25 560.28,301.45 560.76,299.45 561.23,296.38 561.71,291.96 562.19,285.94 562.66,278.21 563.14,268.92 563.62,258.51 564.09,247.75 564.57,237.66 565.05,229.37 565.52,223.91 565.70,222.00 566.00,222.00 566.30,222.00 566.48,223.91 566.95,229.37 567.43,237.66 567.91,247.75 568.38,258.51 568.86,268.92 569.34,278.21 569.81,285.94 570.29,291.96 570.77,296.38 571.24,299.45 571.72,301.45 571.72,304.25"/><polygon points="563.70,304.25 564.80,285.20 565.65,256.62 566.25,223.29 566.50,209.00 567.10,209.00 567.35,223.29 567.95,256.62 568.80,285.20 569.90,304.25"/><polygon points="583.60,304.25 584.70,299.36 585.55,292.02 586.15,283.47 586.40,279.80 587.00,279.80 587.25,283.47 587.85,292.02 588.70,299.36 589.80,304.25"/><polygon points="588.20,304.25 589.30,299.80 590.15,293.12 590.75,285.34 591.00,282.00 591.60,282.00 591.85,285.34 592.45,293.12 593.30,299.80 594.40,304.25"/><polygon points="588.30,304.25 589.40,300.06 590.25,293.77 590.85,286.44 591.10,283.30 591.70,283.30 591.95,286.44 592.55,293.77 593.40,300.06 594.50,304.25"/><polygon points="597.70,304.25 598.80,299.80 599.65,293.12 600.25,285.34 600.50,282.00 601.10,282.00 601.35,285.34 601.95,293.12 602.80,299.80 603.90,304.25"/><polygon points="636.50,304.25 637.60,299.52 638.45,292.43 639.05,284.15 639.30,280.60 639.90,280.60 640.15,284.15 640.75,292.43 641.60,299.52 642.70,304.25"/></g>
<line x1="40" y1="327.0" x2="719.5" y2="327.0" stroke="#0000ff" stroke-opacity="0.4" stroke-width="0.9"/>
<g fill="#0000ff"><polygon points="53.5,327.0 53.5,321.8 54.0,322.9 54.5,323.9 55.0,324.6 55.5,325.0 56.0,325.0 56.5,325.0 57.0,325.0 57.5,324.9 58.0,324.1 58.5,324.7 59.0,325.0 59.5,324.5 60.0,323.6 60.5,322.3 61.0,322.4 61.5,323.7 62.0,324.6 62.5,325.0 63.0,325.0 63.5,325.0 64.0,325.0 64.5,325.0 65.0,325.0 65.5,325.0 66.0,325.0 66.5,325.0 67.0,325.0 67.5,325.0 68.0,325.0 68.5,325.0 69.0,323.8 69.5,322.1 70.0,319.4 70.5,320.3 71.0,322.7 71.5,321.3 72.0,322.5 72.5,323.8 73.0,323.5 73.5,322.2 74.0,323.6 74.5,322.6 75.0,321.3 75.5,322.4 76.0,323.5 76.5,324.3 77.0,324.9 77.5,325.0 78.0,324.9 78.5,324.1 79.0,323.3 79.5,324.3 80.0,324.0 80.5,323.0 81.0,321.8 81.5,322.0 82.0,320.2 82.5,317.8 83.0,314.6 83.5,316.0 84.0,318.9 84.5,321.0 85.0,322.6 85.5,323.7 86.0,323.6 86.5,324.5 87.0,325.0 87.5,325.0 88.0,325.0 88.5,325.0 89.0,325.0 89.5,325.0 90.0,325.0 90.5,324.8 91.0,325.0 91.5,324.7 92.0,323.2 92.5,322.7 93.0,324.4 93.5,325.0 94.0,324.4 94.5,323.6 95.0,322.6 95.5,321.3 96.0,319.5 96.5,320.9 97.0,322.3 97.5,323.4 98.0,324.2 98.5,324.6 99.0,325.0 99.5,325.0 100.0,325.0 100.5,325.0 101.0,325.0 101.5,325.0 102.0,325.0 102.5,325.0 103.0,325.0 103.5,325.0 104.0,325.0 104.5,325.0 105.0,324.9 105.5,324.2 106.0,323.3 106.5,322.1 107.0,320.6 107.5,318.5 108.0,315.8 108.5,315.8 109.0,318.5 109.5,320.6 110.0,322.2 110.5,322.8 111.0,324.1 111.5,324.7 112.0,323.3 112.5,321.2 113.0,319.7 113.5,321.5 114.0,319.7 114.5,318.9 115.0,320.9 115.5,322.4 116.0,323.5 116.5,322.9 117.0,321.1 117.5,321.4 118.0,323.1 118.5,322.0 119.0,320.8 119.5,322.7 120.0,324.0 120.5,324.9 121.0,325.0 121.5,325.0 122.0,325.0 122.5,325.0 123.0,324.7 123.5,324.5 124.0,324.6 124.5,323.5 125.0,321.9 125.5,321.7 126.0,323.3 126.5,324.5 127.0,324.8 127.5,325.0 128.0,325.0 128.5,325.0 129.0,325.0 129.5,325.0 130.0,325.0 130.5,325.0 131.0,325.0 131.5,325.0 132.0,325.0 132.5,324.7 133.0,324.0 133.5,323.1 134.0,322.5 134.5,323.5 135.0,324.3 135.5,324.5 136.0,323.1 136.5,323.3 137.0,324.6 137.5,323.6 138.0,321.9 138.5,319.3 139.0,321.8 139.5,323.6 140.0,323.4 140.5,322.2 141.0,320.6 141.5,320.6 142.0,322.2 142.5,323.4 143.0,323.1 143.5,324.1 144.0,324.8 144.5,325.0 145.0,325.0 145.5,325.0 146.0,325.0 146.5,325.0 147.0,325.0 147.5,325.0 148.0,324.3 148.5,323.3 149.0,322.2 149.5,323.5 150.0,324.4 150.5,324.0 151.0,324.9 151.5,325.0 152.0,325.0 152.5,325.0 153.0,324.4 153.5,323.8 154.0,324.9 154.5,325.0 155.0,325.0 155.5,325.0 156.0,325.0 156.5,324.4 157.0,322.9 157.5,320.5 158.0,316.8 158.5,314.3 159.0,319.0 159.5,321.9 160.0,321.3 160.5,319.6 161.0,322.0 161.5,323.6 162.0,324.7 162.5,325.0 163.0,325.0 163.5,325.0 164.0,324.4 164.5,323.6 165.0,322.5 165.5,322.1 166.0,323.3 166.5,324.2 167.0,324.9 167.5,325.0 168.0,324.4 168.5,323.3 169.0,321.8 169.5,319.6 170.0,316.5 170.5,318.1 171.0,320.8 171.5,322.6 172.0,323.9 172.5,324.7 173.0,323.7 173.5,322.4 174.0,320.6 174.5,318.0 175.0,317.3 175.5,320.1 176.0,322.1 176.5,323.5 177.0,324.5 177.5,325.0 178.0,325.0 178.5,325.0 179.0,325.0 179.5,325.0 180.0,324.6 180.5,323.4 181.0,321.6 181.5,321.0 182.0,323.0 182.5,324.3 183.0,325.0 183.5,325.0 184.0,325.0 184.5,325.0 185.0,325.0 185.5,325.0 186.0,325.0 186.5,325.0 187.0,325.0 187.5,325.0 188.0,325.0 188.5,324.9 189.0,324.3 189.5,323.4 190.0,322.3 190.5,320.8 191.0,318.9 191.5,316.3 192.0,314.9 192.5,317.8 193.0,320.0 193.5,321.7 194.0,323.0 194.5,323.9 195.0,324.7 195.5,325.0 196.0,325.0 196.5,325.0 197.0,324.9 197.5,325.0 198.0,325.0 198.5,325.0 199.0,325.0 199.5,324.5 200.0,323.8 200.5,322.9 201.0,321.6 201.5,321.2 202.0,322.5 202.5,323.5 203.0,324.3 203.5,324.2 204.0,322.6 204.5,322.1 205.0,320.5 205.5,318.3 206.0,320.2 206.5,321.9 207.0,323.2 207.5,324.1 208.0,324.9 208.5,325.0 209.0,325.0 209.5,325.0 210.0,323.0 210.5,323.0 211.0,321.6 211.5,318.4 212.0,313.8 212.5,318.2 213.0,315.1 213.5,312.5 214.0,316.3 214.5,316.9 215.0,313.7 215.5,311.1 216.0,314.9 216.5,317.9 217.0,320.1 217.5,320.7 218.0,318.7 218.5,317.9 219.0,320.2 219.5,321.8 220.0,323.0 220.5,321.6 221.0,321.9 221.5,321.0 222.0,320.2 222.5,319.5 223.0,319.0 223.5,318.6 224.0,318.5 224.5,316.2 225.0,314.2 225.5,318.2 226.0,316.9 226.5,319.5 227.0,319.1 227.5,316.7 228.0,317.5 228.5,319.7 229.0,321.4 229.5,322.7 230.0,323.0 230.5,323.0 231.0,323.0 231.5,323.0 232.0,323.0 232.5,321.7 233.0,319.2 233.5,315.4 234.0,319.1 234.5,321.7 235.0,321.3 235.5,323.0 236.0,323.0 236.5,323.0 237.0,323.0 237.5,323.0 238.0,321.5 238.5,319.3 239.0,316.3 239.5,314.3 240.0,318.0 240.5,320.6 241.0,322.4 241.5,322.6 242.0,320.8 242.5,321.9 243.0,323.0 243.5,321.9 244.0,323.0 244.5,323.0 245.0,323.0 245.5,323.0 246.0,322.8 246.5,321.2 247.0,318.9 247.5,315.7 248.0,311.3 248.5,313.3 249.0,317.1 249.5,319.9 250.0,321.9 250.5,323.0 251.0,323.0 251.5,323.0 252.0,323.0 252.5,323.0 253.0,323.0 253.5,323.0 254.0,323.0 254.5,323.0 255.0,321.7 255.5,319.5 256.0,321.1 256.5,322.7 257.0,321.1 257.5,322.6 258.0,323.0 258.5,323.0 259.0,323.0 259.5,323.0 260.0,323.0 260.5,323.0 261.0,323.0 261.5,323.0 262.0,323.0 262.5,323.0 263.0,323.0 263.5,321.3 264.0,317.9 264.5,317.2 265.0,320.9 265.5,323.0 266.0,323.0 266.5,323.0 267.0,323.0 267.5,320.8 268.0,316.3 268.5,316.4 269.0,315.5 269.5,311.5 270.0,308.5 270.5,313.2 271.0,316.7 271.5,319.4 272.0,321.3 272.5,322.8 273.0,320.8 273.5,317.7 274.0,313.7 274.5,318.2 275.0,317.6 275.5,314.1 276.0,318.6 276.5,321.5 277.0,319.6 277.5,317.0 278.0,318.3 278.5,320.5 279.0,319.6 279.5,316.5 280.0,312.2 280.5,315.4 281.0,318.5 281.5,316.0 282.0,314.7 282.5,317.4 283.0,318.7 283.5,315.5 284.0,310.9 284.5,304.5 285.0,308.2 285.5,313.5 286.0,317.3 286.5,320.1 287.0,322.0 287.5,323.0 288.0,322.6 288.5,321.3 289.0,319.5 289.5,320.1 290.0,319.7 290.5,317.3 291.0,314.2 291.5,310.1 292.0,313.4 292.5,316.7 293.0,319.2 293.5,321.1 294.0,321.2 294.5,319.1 295.0,316.3 295.5,314.0 296.0,317.4 296.5,320.0 297.0,321.9 297.5,323.0 298.0,323.0 298.5,323.0 299.0,323.0 299.5,323.0 300.0,323.0 300.5,323.0 301.0,323.0 301.5,323.0 302.0,323.0 302.5,323.0 303.0,322.1 303.5,320.5 304.0,320.8 304.5,322.3 305.0,323.0 305.5,321.7 306.0,318.9 306.5,317.4 307.0,320.7 307.5,322.9 308.0,322.1 308.5,318.9 309.0,313.6 309.5,318.0 310.0,321.5 310.5,323.4 311.0,323.4 311.5,323.4 312.0,323.4 312.5,323.4 313.0,323.4 313.5,323.1 314.0,321.4 314.5,320.7 315.0,319.8 315.5,317.0 316.0,313.1 316.5,314.9 317.0,318.2 317.5,320.7 318.0,322.5 318.5,323.4 319.0,323.4 319.5,323.4 320.0,323.4 320.5,323.1 321.0,323.4 321.5,323.4 322.0,323.4 322.5,323.0 323.0,320.0 323.5,320.2 324.0,323.0 324.5,323.4 325.0,322.5 325.5,320.7 326.0,322.4 326.5,323.4 327.0,323.4 327.5,322.3 328.0,319.3 328.5,321.9 329.0,323.1 329.5,321.7 330.0,322.0 330.5,319.7 331.0,316.3 331.5,319.2 332.0,321.7 332.5,321.4 333.0,318.6 333.5,314.4 334.0,317.0 334.5,317.5 335.0,314.6 335.5,310.7 336.0,305.7 336.5,303.2 337.0,308.9 337.5,313.2 338.0,315.8 338.5,318.5 339.0,320.6 339.5,322.1 340.0,322.4 340.5,320.9 341.0,318.7 341.5,315.6 342.0,311.5 342.5,305.9 343.0,303.0 343.5,309.4 344.0,314.1 344.5,317.5 345.0,320.1 345.5,321.9 346.0,319.8 346.5,319.8 347.0,322.1 347.5,319.9 348.0,316.1 348.5,320.3 349.0,322.9 349.5,323.4 350.0,323.4 350.5,323.4 351.0,323.4 351.5,323.4 352.0,322.9 352.5,321.4 353.0,320.2 353.5,322.0 354.0,323.3 354.5,322.6 355.0,322.7 355.5,323.4 356.0,323.4 356.5,323.4 357.0,323.4 357.5,323.4 358.0,323.4 358.5,323.4 359.0,323.4 359.5,323.4 360.0,323.4 360.5,323.4 361.0,322.7 361.5,320.9 362.0,318.2 362.5,316.3 363.0,319.5 363.5,318.0 364.0,316.7 364.5,316.2 365.0,312.9 365.5,308.7 366.0,303.6 366.5,309.1 367.0,313.2 367.5,316.4 368.0,315.9 368.5,314.0 369.0,317.2 369.5,319.7 370.0,319.7 370.5,316.5 371.0,312.0 371.5,312.1 372.0,316.6 372.5,319.7 373.0,321.9 373.5,323.4 374.0,323.4 374.5,323.4 375.0,322.9 375.5,321.7 376.0,319.2 376.5,315.6 377.0,316.2 377.5,319.6 378.0,322.0 378.5,321.6 379.0,319.4 379.5,316.3 380.0,319.3 380.5,321.5 381.0,323.0 381.5,320.8 382.0,318.7 382.5,321.6 383.0,322.2 383.5,319.2 384.0,314.5 384.5,318.3 385.0,321.2 385.5,319.1 386.0,319.7 386.5,321.7 387.0,323.1 387.5,323.2 388.0,321.9 388.5,321.5 389.0,321.3 389.5,319.6 390.0,319.1 390.5,321.0 391.0,322.4 391.5,323.4 392.0,322.5 392.5,323.4 393.0,323.4 393.5,323.4 394.0,322.5 394.5,321.2 395.0,320.3 395.5,321.8 396.0,323.0 396.5,323.4 397.0,323.4 397.5,322.6 398.0,322.2 398.5,323.4 399.0,322.7 399.5,321.1 400.0,322.1 400.5,322.8 401.0,320.8 401.5,317.8 402.0,313.3 402.5,307.5 403.0,313.8 403.5,318.1 404.0,321.0 404.5,322.3 405.0,322.8 405.5,323.4 406.0,323.1 406.5,321.6 407.0,319.6 407.5,317.9 408.0,320.4 408.5,322.2 409.0,323.4 409.5,323.4 410.0,323.4 410.5,323.4 411.0,323.4 411.5,322.9 412.0,321.7 412.5,320.1 413.0,320.0 413.5,321.6 414.0,322.2 414.5,319.5 415.0,315.4 415.5,318.5 416.0,321.5 416.5,320.2 417.0,320.3 417.5,321.9 418.0,321.9 418.5,322.7 419.0,322.2 419.5,320.3 420.0,320.2 420.5,322.1 421.0,321.8 421.5,323.4 422.0,324.7 422.5,325.4 423.0,325.3 423.5,325.3 424.0,325.2 424.5,324.5 425.0,323.6 425.5,323.4 426.0,324.4 426.5,325.1 427.0,325.3 427.5,324.3 428.0,323.9 428.5,325.0 429.0,324.4 429.5,323.1 430.0,323.6 430.5,324.7 431.0,325.0 431.5,324.1 432.0,322.8 432.5,323.8 433.0,324.8 433.5,325.4 434.0,324.8 434.5,323.6 435.0,323.9 435.5,325.0 436.0,325.4 436.5,325.4 437.0,324.9 437.5,325.2 438.0,325.1 438.5,324.5 439.0,323.6 439.5,322.4 440.0,320.8 440.5,321.4 441.0,322.8 441.5,323.9 442.0,324.7 442.5,325.3 443.0,325.3 443.5,324.2 444.0,322.4 444.5,319.5 445.0,321.3 445.5,323.5 446.0,324.9 446.5,325.4 447.0,325.4 447.5,324.7 448.0,323.7 448.5,322.3 449.0,323.6 449.5,324.6 450.0,325.3 450.5,325.2 451.0,324.5 451.5,324.2 452.0,325.0 452.5,325.4 453.0,325.2 453.5,324.5 454.0,324.0 454.5,323.0 455.0,321.7 455.5,320.0 456.0,319.8 456.5,321.6 457.0,322.9 457.5,323.9 458.0,324.7 458.5,325.2 459.0,325.4 459.5,325.4 460.0,325.4 460.5,325.4 461.0,325.4 461.5,325.4 462.0,325.4 462.5,325.2 463.0,325.4 463.5,325.4 464.0,325.0 464.5,324.0 465.0,322.6 465.5,323.3 466.0,324.5 466.5,324.3 467.0,325.3 467.5,325.4 468.0,324.8 468.5,325.2 469.0,325.4 469.5,325.1 470.0,324.2 470.5,322.9 471.0,322.9 471.5,324.1 472.0,323.2 472.5,322.6 473.0,322.9 473.5,320.4 474.0,318.0 474.5,321.4 475.0,323.5 475.5,324.9 476.0,325.4 476.5,325.3 477.0,325.4 477.5,324.8 478.0,324.1 478.5,323.1 479.0,321.7 479.5,322.6 480.0,323.7 480.5,324.6 481.0,324.7 481.5,324.6 482.0,325.4 482.5,324.8 483.0,323.9 483.5,322.6 484.0,320.7 484.5,322.5 485.0,323.7 485.5,322.8 486.0,321.5 486.5,321.4 487.0,322.6 487.5,323.6 488.0,323.4 488.5,322.1 489.0,320.3 489.5,318.7 490.0,320.9 490.5,322.5 491.0,323.7 491.5,323.8 492.0,322.0 492.5,322.1 493.0,323.8 493.5,325.0 494.0,325.4 494.5,324.8 495.0,325.2 495.5,325.2 496.0,324.7 496.5,324.0 497.0,323.4 497.5,324.2 498.0,324.9 498.5,325.2 499.0,323.8 499.5,324.9 500.0,325.3 500.5,324.8 501.0,324.2 501.5,323.3 502.0,323.3 502.5,324.1 503.0,323.8 503.5,322.1 504.0,319.5 504.5,318.0 505.0,321.1 505.5,323.1 506.0,324.5 506.5,323.6 507.0,322.6 507.5,323.8 508.0,324.6 508.5,324.2 509.0,323.1 509.5,321.6 510.0,320.5 510.5,322.3 511.0,323.6 511.5,324.5 512.0,323.9 512.5,322.5 513.0,321.9 513.5,323.5 514.0,324.6 514.5,323.9 515.0,323.0 515.5,321.7 516.0,321.5 516.5,322.8 517.0,323.8 517.5,323.5 518.0,322.4 518.5,320.9 519.0,318.9 519.5,316.4 520.0,313.0 520.5,308.5 521.0,302.6 521.5,299.6 522.0,306.2 522.5,311.2 523.0,315.0 523.5,311.4 524.0,306.5 524.5,305.0 525.0,310.2 525.5,306.1 526.0,307.7 526.5,312.2 527.0,315.7 527.5,318.2 528.0,318.2 528.5,318.2 529.0,318.2 529.5,318.2 530.0,318.2 530.5,318.0 531.0,318.2 531.5,318.2 532.0,318.2 532.5,318.2 533.0,318.2 533.5,317.8 534.0,315.0 534.5,311.5 535.0,307.0 535.5,301.1 536.0,304.9 536.5,309.9 537.0,313.8 537.5,313.2 538.0,313.9 538.5,317.2 539.0,314.0 539.5,309.7 540.0,304.1 540.5,296.6 541.0,304.0 541.5,309.6 542.0,313.9 542.5,315.5 543.0,318.1 543.5,315.9 544.0,312.6 544.5,308.3 545.0,307.9 545.5,312.3 546.0,315.7 546.5,318.2 547.0,318.2 547.5,316.3 548.0,318.2 548.5,317.5 549.0,311.8 549.5,314.1 550.0,318.2 550.5,318.2 551.0,318.2 551.5,318.2 552.0,318.2 552.5,318.2 553.0,314.8 553.5,318.2 554.0,318.2 554.5,318.2 555.0,318.2 555.5,318.2 556.0,318.2 556.5,318.2 557.0,318.2 557.5,318.2 558.0,318.2 558.5,318.2 559.0,318.2 559.5,318.2 560.0,323.6 560.5,322.5 561.0,321.8 561.5,323.0 562.0,323.8 562.5,323.8 563.0,323.8 563.5,323.8 564.0,323.8 564.5,322.9 565.0,321.0 565.5,318.3 566.0,314.3 566.5,317.4 567.0,320.4 567.5,322.5 568.0,323.6 568.5,323.8 569.0,323.8 569.5,322.6 570.0,320.6 570.5,317.7 571.0,315.5 571.5,319.1 572.0,321.6 572.5,323.3 573.0,322.7 573.5,322.3 574.0,323.8 574.5,323.8 575.0,323.8 575.5,323.8 576.0,323.8 576.5,323.8 577.0,323.8 577.5,323.8 578.0,323.8 578.5,323.8 579.0,323.2 579.5,322.1 580.0,320.6 580.5,318.8 581.0,316.5 581.5,313.5 582.0,309.6 582.5,308.7 583.0,312.8 583.5,315.9 584.0,318.4 584.5,320.0 585.0,321.3 585.5,322.6 586.0,323.6 586.5,323.0 587.0,321.5 587.5,322.2 588.0,323.2 588.5,321.8 589.0,319.8 589.5,317.1 590.0,318.0 590.5,320.5 591.0,322.3 591.5,323.6 592.0,323.8 592.5,323.7 593.0,321.7 593.5,318.5 594.0,316.7 594.5,320.6 595.0,319.2 595.5,316.8 596.0,318.2 596.5,320.2 597.0,321.8 597.5,321.8 598.0,319.6 598.5,321.4 599.0,323.0 599.5,323.8 600.0,325.0 600.5,325.6 601.0,326.0 601.5,326.3 602.0,326.4 602.5,326.4 603.0,326.2 603.5,325.8 604.0,325.2 604.5,324.3 605.0,323.0 605.5,324.4 606.0,325.3 606.5,325.9 607.0,326.3 607.5,326.2 608.0,326.4 608.5,326.2 609.0,325.9 609.5,325.9 610.0,326.2 610.5,326.3 611.0,326.1 611.5,325.8 612.0,325.5 612.5,325.7 613.0,326.0 613.5,326.2 614.0,326.0 614.5,326.3 615.0,326.4 615.5,326.4 616.0,326.4 616.5,326.4 617.0,326.4 617.5,326.4 618.0,326.2 618.5,325.8 619.0,325.1 619.5,323.9 620.0,325.0 620.5,325.7 621.0,326.1 621.5,325.8 622.0,325.3 622.5,325.6 623.0,326.0 623.5,326.3 624.0,326.3 624.5,326.1 625.0,325.8 625.5,326.1 626.0,325.9 626.5,325.4 627.0,325.2 627.5,325.7 628.0,326.1 628.5,326.4 629.0,326.3 629.5,326.0 630.0,325.9 630.5,326.2 631.0,326.4 631.5,326.4 632.0,326.4 632.5,326.4 633.0,326.4 633.5,326.4 634.0,326.4 634.5,326.3 635.0,326.1 635.5,325.7 636.0,325.2 636.5,324.5 637.0,324.8 637.5,325.4 638.0,325.9 638.5,326.2 639.0,326.2 639.5,325.9 640.0,325.4 640.5,324.8 641.0,324.9 641.5,325.5 642.0,325.4 642.5,325.1 643.0,325.6 643.5,325.4 644.0,324.3 644.5,324.1 645.0,325.3 645.5,326.0 646.0,326.4 646.5,326.4 647.0,326.4 647.5,326.4 648.0,326.2 648.5,325.9 649.0,325.6 649.5,325.2 650.0,325.6 650.5,326.0 651.0,325.8 651.5,325.4 652.0,325.0 652.5,325.5 653.0,325.9 653.5,325.5 654.0,324.8 654.5,324.5 655.0,325.3 655.5,325.9 656.0,326.2 656.5,326.4 657.0,326.4 657.5,326.4 658.0,326.4 658.5,326.3 659.0,326.1 659.5,325.8 660.0,325.9 660.5,326.2 661.0,326.4 661.5,326.4 662.0,326.4 662.5,326.4 663.0,326.4 663.5,326.4 664.0,326.4 664.5,326.3 665.0,326.0 665.5,325.9 666.0,326.2 666.5,326.4 667.0,326.4 667.5,326.3 668.0,326.2 668.5,326.3 669.0,325.9 669.5,325.4 670.0,324.6 670.5,323.4 671.0,323.4 671.5,324.6 672.0,325.4 672.5,325.9 673.0,326.3 673.5,326.4 674.0,326.4 674.5,326.4 675.0,326.4 675.5,326.4 676.0,326.4 676.0,327.0"/><polygon points="57.40,327.00 58.50,320.60 59.35,311.00 59.95,299.80 60.20,295.00 60.80,295.00 61.05,299.80 61.65,311.00 62.50,320.60 63.60,327.00"/><polygon points="58.90,327.00 60.00,322.40 60.85,315.50 61.45,307.45 61.70,304.00 62.30,304.00 62.55,307.45 63.15,315.50 64.00,322.40 65.10,327.00"/><polygon points="78.90,327.00 80.00,322.60 80.85,316.00 81.45,308.30 81.70,305.00 82.30,305.00 82.55,308.30 83.15,316.00 84.00,322.60 85.10,327.00"/><polygon points="86.60,327.00 87.70,323.40 88.55,318.00 89.15,311.70 89.40,309.00 90.00,309.00 90.25,311.70 90.85,318.00 91.70,323.40 92.80,327.00"/><polygon points="91.40,327.00 92.50,317.40 93.35,303.00 93.95,286.20 94.20,279.00 94.80,279.00 95.05,286.20 95.65,303.00 96.50,317.40 97.60,327.00"/><polygon points="104.50,327.00 105.60,317.90 106.45,304.25 107.05,288.32 107.30,281.50 107.90,281.50 108.15,288.32 108.75,304.25 109.60,317.90 110.70,327.00"/><polygon points="102.72,327.00 102.72,325.94 103.11,325.19 103.50,324.04 103.89,322.37 104.28,320.10 104.67,317.19 105.06,313.68 105.45,309.76 105.84,305.71 106.23,301.90 106.62,298.78 107.01,296.72 107.10,296.00 107.40,296.00 107.70,296.00 107.79,296.72 108.18,298.78 108.57,301.90 108.96,305.71 109.35,309.76 109.74,313.68 110.13,317.19 110.52,320.10 110.91,322.37 111.30,324.04 111.69,325.19 112.08,325.94 112.08,327.00"/><polygon points="129.90,327.00 131.00,323.20 131.85,317.50 132.45,310.85 132.70,308.00 133.30,308.00 133.55,310.85 134.15,317.50 135.00,323.20 136.10,327.00"/><polygon points="135.30,327.00 136.40,322.40 137.25,315.50 137.85,307.45 138.10,304.00 138.70,304.00 138.95,307.45 139.55,315.50 140.40,322.40 141.50,327.00"/><polygon points="157.90,327.00 159.00,322.60 159.85,316.00 160.45,308.30 160.70,305.00 161.30,305.00 161.55,308.30 162.15,316.00 163.00,322.60 164.10,327.00"/><polygon points="181.40,327.00 182.50,324.10 183.35,319.75 183.95,314.68 184.20,312.50 184.80,312.50 185.05,314.68 185.65,319.75 186.50,324.10 187.60,327.00"/><polygon points="199.10,327.00 200.20,321.94 201.05,314.35 201.65,305.50 201.90,301.70 202.50,301.70 202.75,305.50 203.35,314.35 204.20,321.94 205.30,327.00"/><polygon points="220.90,327.00 222.00,319.80 222.85,309.00 223.45,296.40 223.70,291.00 224.30,291.00 224.55,296.40 225.15,309.00 226.00,319.80 227.10,327.00"/><polygon points="237.20,327.00 238.30,320.20 239.15,310.00 239.75,298.10 240.00,293.00 240.60,293.00 240.85,298.10 241.45,310.00 242.30,320.20 243.40,327.00"/><polygon points="239.40,327.00 240.50,309.40 241.35,283.00 241.95,252.20 242.20,239.00 242.80,239.00 243.05,252.20 243.65,283.00 244.50,309.40 245.60,327.00"/><polygon points="249.10,327.00 250.20,315.40 251.05,298.00 251.65,277.70 251.90,269.00 252.50,269.00 252.75,277.70 253.35,298.00 254.20,315.40 255.30,327.00"/><polygon points="258.90,327.00 260.00,321.94 260.85,314.35 261.45,305.50 261.70,301.70 262.30,301.70 262.55,305.50 263.15,314.35 264.00,321.94 265.10,327.00"/><polygon points="273.90,327.00 275.00,309.60 275.85,283.50 276.45,253.05 276.70,240.00 277.30,240.00 277.55,253.05 278.15,283.50 279.00,309.60 280.10,327.00"/><polygon points="278.30,327.00 279.40,323.20 280.25,317.50 280.85,310.85 281.10,308.00 281.70,308.00 281.95,310.85 282.55,317.50 283.40,323.20 284.50,327.00"/><polygon points="280.80,327.00 281.90,297.80 282.45,254.00 282.75,195.60 283.00,181.00 283.60,181.00 283.85,195.60 284.15,254.00 284.70,297.80 285.80,327.00"/><polygon points="286.90,327.00 288.00,314.60 288.85,296.00 289.45,274.30 289.70,265.00 290.30,265.00 290.55,274.30 291.15,296.00 292.00,314.60 293.10,327.00"/><polygon points="296.70,327.00 297.80,318.48 298.65,305.70 299.25,290.79 299.50,284.40 300.10,284.40 300.35,290.79 300.95,305.70 301.80,318.48 302.90,327.00"/><polygon points="309.90,327.00 311.00,317.60 311.85,303.50 312.45,287.05 312.70,280.00 313.30,280.00 313.55,287.05 314.15,303.50 315.00,317.60 316.10,327.00"/><polygon points="318.90,327.00 320.00,319.36 320.85,307.90 321.45,294.53 321.70,288.80 322.30,288.80 322.55,294.53 323.15,307.90 324.00,319.36 325.10,327.00"/><polygon points="321.20,327.00 322.30,319.00 323.15,307.00 323.75,293.00 324.00,287.00 324.60,287.00 324.85,293.00 325.45,307.00 326.30,319.00 327.40,327.00"/><polygon points="341.90,327.00 343.00,317.80 343.85,304.00 344.45,287.90 344.70,281.00 345.30,281.00 345.55,287.90 346.15,304.00 347.00,317.80 348.10,327.00"/><polygon points="346.60,327.00 347.70,318.48 348.55,305.70 349.15,290.79 349.40,284.40 350.00,284.40 350.25,290.79 350.85,305.70 351.70,318.48 352.80,327.00"/><polygon points="346.90,327.00 348.00,316.34 348.85,300.35 349.45,281.69 349.70,273.70 350.30,273.70 350.55,281.69 351.15,300.35 352.00,316.34 353.10,327.00"/><polygon points="350.30,327.00 351.40,318.20 352.25,305.00 352.85,289.60 353.10,283.00 353.70,283.00 353.95,289.60 354.55,305.00 355.40,318.20 356.50,327.00"/><polygon points="368.50,327.00 369.60,319.80 370.45,309.00 371.05,296.40 371.30,291.00 371.90,291.00 372.15,296.40 372.75,309.00 373.60,319.80 374.70,327.00"/><polygon points="369.90,327.00 371.00,320.96 371.85,311.90 372.45,301.33 372.70,296.80 373.30,296.80 373.55,301.33 374.15,311.90 375.00,320.96 376.10,327.00"/><polygon points="383.30,327.00 384.40,321.94 385.25,314.35 385.85,305.50 386.10,301.70 386.70,301.70 386.95,305.50 387.55,314.35 388.40,321.94 389.50,327.00"/><polygon points="383.90,327.00 385.00,317.60 385.85,303.50 386.45,287.05 386.70,280.00 387.30,280.00 387.55,287.05 388.15,303.50 389.00,317.60 390.10,327.00"/><polygon points="398.50,327.00 399.60,323.30 400.45,317.75 401.05,311.27 401.30,308.50 401.90,308.50 402.15,311.27 402.75,317.75 403.60,323.30 404.70,327.00"/><polygon points="415.30,327.00 416.40,323.88 417.25,319.20 417.85,313.74 418.10,311.40 418.70,311.40 418.95,313.74 419.55,319.20 420.40,323.88 421.50,327.00"/><polygon points="428.30,327.00 429.40,324.00 430.25,319.50 430.85,314.25 431.10,312.00 431.70,312.00 431.95,314.25 432.55,319.50 433.40,324.00 434.50,327.00"/><polygon points="431.20,327.00 432.30,305.12 432.85,272.30 433.15,228.54 433.40,217.60 434.00,217.60 434.25,228.54 434.55,272.30 435.10,305.12 436.20,327.00"/><polygon points="445.60,327.00 446.70,311.10 447.55,287.25 448.15,259.43 448.40,247.50 449.00,247.50 449.25,259.43 449.85,287.25 450.70,311.10 451.80,327.00"/><polygon points="485.90,327.00 487.00,322.80 487.85,316.50 488.45,309.15 488.70,306.00 489.30,306.00 489.55,309.15 490.15,316.50 491.00,322.80 492.10,327.00"/><polygon points="527.20,327.00 528.30,315.94 529.15,299.35 529.75,280.00 530.00,271.70 530.60,271.70 530.85,280.00 531.45,299.35 532.30,315.94 533.40,327.00"/><polygon points="534.10,327.00 535.20,317.80 536.05,304.00 536.65,287.90 536.90,281.00 537.50,281.00 537.75,287.90 538.35,304.00 539.20,317.80 540.30,327.00"/><polygon points="542.10,327.00 543.20,313.80 544.05,294.00 544.65,270.90 544.90,261.00 545.50,261.00 545.75,270.90 546.35,294.00 547.20,313.80 548.30,327.00"/><polygon points="550.50,327.00 551.60,302.80 552.15,266.50 552.45,218.10 552.70,206.00 553.30,206.00 553.55,218.10 553.85,266.50 554.40,302.80 555.50,327.00"/><polygon points="553.60,327.00 554.70,319.80 555.55,309.00 556.15,296.40 556.40,291.00 557.00,291.00 557.25,296.40 557.85,309.00 558.70,319.80 559.80,327.00"/><polygon points="587.70,327.00 588.80,323.96 589.65,319.40 590.25,314.08 590.50,311.80 591.10,311.80 591.35,314.08 591.95,319.40 592.80,323.96 593.90,327.00"/><polygon points="625.70,327.00 626.80,323.68 627.65,318.70 628.25,312.89 628.50,310.40 629.10,310.40 629.35,312.89 629.95,318.70 630.80,323.68 631.90,327.00"/></g>
<line x1="28" y1="350.5" x2="719.5" y2="350.5" stroke="#ff0000" stroke-opacity="0.4" stroke-width="0.9"/>
<g fill="#ff0000"><polygon points="42.5,350.5 42.5,341.4 43.0,344.3 43.5,346.3 44.0,347.3 44.5,347.3 45.0,347.3 45.5,347.1 46.0,345.9 46.5,344.3 47.0,344.9 47.5,343.0 48.0,339.3 48.5,342.1 49.0,342.0 49.5,339.5 50.0,338.4 50.5,341.1 51.0,343.2 51.5,343.2 52.0,340.6 52.5,337.2 53.0,335.6 53.5,339.5 54.0,342.3 54.5,344.5 55.0,346.0 55.5,347.2 56.0,347.3 56.5,347.3 57.0,347.3 57.5,346.8 58.0,345.4 58.5,345.6 59.0,346.9 59.5,347.3 60.0,347.3 60.5,346.1 61.0,344.5 61.5,342.3 62.0,339.3 62.5,338.2 63.0,341.5 63.5,343.9 64.0,345.6 64.5,346.9 65.0,347.2 65.5,344.7 66.0,340.4 66.5,336.4 67.0,342.4 67.5,345.8 68.0,347.2 68.5,346.1 69.0,344.8 69.5,343.1 70.0,340.9 70.5,337.9 71.0,340.2 71.5,342.6 72.0,344.4 72.5,342.2 73.0,342.9 73.5,340.5 74.0,337.0 74.5,338.2 75.0,341.4 75.5,343.8 76.0,345.6 76.5,346.9 77.0,347.0 77.5,347.7 78.0,347.7 78.5,347.7 79.0,347.7 79.5,347.6 80.0,346.8 80.5,345.7 81.0,344.2 81.5,345.1 82.0,346.3 82.5,347.3 83.0,347.4 83.5,346.6 84.0,346.6 84.5,345.0 85.0,341.6 85.5,338.2 86.0,342.9 86.5,345.8 87.0,347.2 87.5,346.1 88.0,344.7 88.5,344.0 89.0,345.6 89.5,344.0 90.0,339.6 90.5,343.9 91.0,346.6 91.5,347.7 92.0,347.7 92.5,347.7 93.0,346.5 93.5,344.9 94.0,342.7 94.5,340.6 95.0,343.5 95.5,345.4 96.0,344.9 96.5,346.4 97.0,347.4 97.5,347.7 98.0,346.7 98.5,345.0 99.0,345.9 99.5,347.4 100.0,346.6 100.5,344.3 101.0,340.8 101.5,340.8 102.0,344.3 102.5,346.5 103.0,347.6 103.5,346.9 104.0,347.4 104.5,346.4 105.0,345.2 105.5,343.6 106.0,342.7 106.5,344.5 107.0,343.8 107.5,343.5 108.0,345.1 108.5,345.8 109.0,346.1 109.5,344.6 110.0,342.9 110.5,342.8 111.0,340.4 111.5,337.4 112.0,333.3 112.5,333.6 113.0,337.6 113.5,340.6 114.0,342.9 114.5,344.7 115.0,346.1 115.5,345.5 116.0,343.4 116.5,340.4 117.0,340.1 117.5,343.2 118.0,345.3 118.5,346.9 119.0,347.7 119.5,347.7 120.0,347.7 120.5,348.1 121.0,348.1 121.5,348.1 122.0,348.0 122.5,347.3 123.0,346.7 123.5,345.6 124.0,344.1 124.5,342.2 125.0,339.8 125.5,336.7 126.0,338.7 126.5,341.4 127.0,343.4 127.5,345.0 128.0,346.3 128.5,346.0 129.0,347.1 129.5,348.0 130.0,347.3 130.5,348.1 131.0,348.0 131.5,347.9 132.0,347.2 132.5,346.2 133.0,345.8 133.5,346.9 134.0,347.7 134.5,346.6 135.0,344.9 135.5,342.5 136.0,343.6 136.5,343.6 137.0,338.8 137.5,337.4 138.0,342.8 138.5,346.0 139.0,344.0 139.5,340.0 140.0,342.7 140.5,345.7 141.0,347.5 141.5,348.1 142.0,348.1 142.5,347.6 143.0,348.1 143.5,348.1 144.0,347.6 144.5,347.0 145.0,348.1 145.5,348.1 146.0,347.6 146.5,346.0 147.0,344.9 147.5,346.9 148.0,346.0 148.5,343.2 149.0,345.4 149.5,347.4 150.0,346.8 150.5,345.2 151.0,345.5 151.5,347.0 152.0,348.1 152.5,348.1 153.0,348.1 153.5,347.8 154.0,346.8 154.5,345.4 155.0,346.3 155.5,345.6 156.0,344.8 156.5,346.7 157.0,346.8 157.5,347.0 158.0,347.9 158.5,348.1 159.0,348.1 159.5,348.0 160.0,347.5 160.5,347.8 161.0,347.0 161.5,346.0 162.0,344.7 162.5,343.0 163.0,341.8 163.5,343.8 164.0,345.3 164.5,346.4 165.0,347.3 165.5,348.0 166.0,348.1 166.5,348.1 167.0,347.7 167.5,346.3 168.0,346.0 168.5,342.8 169.0,339.4 169.5,344.0 170.0,345.6 170.5,343.1 171.0,339.4 171.5,333.8 172.0,339.3 172.5,343.1 173.0,345.5 173.5,347.2 174.0,345.6 174.5,343.4 175.0,340.1 175.5,337.3 176.0,341.5 176.5,344.3 177.0,342.8 177.5,338.7 178.0,335.6 178.5,340.8 179.0,342.2 179.5,339.1 180.0,338.7 180.5,341.9 181.0,341.9 181.5,341.7 182.0,338.7 182.5,334.7 183.0,336.0 183.5,339.7 184.0,342.4 184.5,344.5 185.0,346.0 185.5,345.0 186.0,345.9 186.5,347.4 187.0,348.1 187.5,347.8 188.0,348.1 188.5,348.1 189.0,348.1 189.5,348.1 190.0,348.1 190.5,348.1 191.0,348.1 191.5,347.2 192.0,346.0 192.5,344.3 193.0,342.0 193.5,342.6 194.0,344.7 194.5,346.3 195.0,347.5 195.5,348.1 196.0,348.1 196.5,348.1 197.0,348.1 197.5,348.1 198.0,348.1 198.5,347.9 199.0,346.7 199.5,345.1 200.0,342.7 200.5,343.6 201.0,345.7 201.5,347.2 202.0,348.1 202.5,348.0 203.0,348.1 203.5,348.1 204.0,348.1 204.5,348.1 205.0,348.1 205.5,348.1 206.0,347.6 206.5,346.4 207.0,344.8 207.5,345.7 208.0,344.1 208.5,342.0 209.0,341.9 209.5,344.0 210.0,345.5 210.5,344.0 211.0,342.2 211.5,339.8 212.0,336.7 212.5,332.8 213.0,327.7 213.5,321.1 214.0,321.9 214.5,328.3 215.0,333.3 215.5,337.1 216.0,340.1 216.5,342.4 217.0,344.2 217.5,345.0 218.0,346.1 218.5,346.1 219.0,345.1 219.5,343.9 220.0,342.6 220.5,340.5 221.0,333.1 221.5,320.2 222.0,331.2 222.5,337.6 223.0,337.4 223.5,337.6 224.0,338.1 224.5,339.0 225.0,340.0 225.5,338.4 226.0,341.2 226.5,343.3 227.0,343.4 227.5,341.2 228.0,340.8 228.5,343.1 229.0,339.6 229.5,334.4 230.0,326.8 230.5,315.6 231.0,325.0 231.5,333.2 232.0,338.8 232.5,342.6 233.0,340.8 233.5,339.2 234.0,341.7 234.5,337.9 235.0,335.0 235.5,339.7 236.0,342.9 236.5,345.2 237.0,346.1 237.5,344.6 238.0,346.1 238.5,344.6 239.0,342.9 239.5,345.1 240.0,346.5 240.5,346.5 241.0,346.5 241.5,345.3 242.0,343.7 242.5,341.6 243.0,338.9 243.5,335.4 244.0,338.9 244.5,341.6 245.0,343.7 245.5,345.3 246.0,346.5 246.5,346.5 247.0,345.4 247.5,343.0 248.0,339.4 248.5,334.2 249.0,338.5 249.5,342.4 250.0,345.0 250.5,346.5 251.0,346.4 251.5,344.5 252.0,341.7 252.5,341.5 253.0,344.4 253.5,346.3 254.0,346.5 254.5,346.3 255.0,344.7 255.5,342.4 256.0,339.3 256.5,335.1 257.0,339.4 257.5,342.5 258.0,344.7 258.5,346.3 259.0,346.5 259.5,345.9 260.0,344.2 260.5,341.8 261.0,344.0 261.5,345.8 262.0,345.7 262.5,343.8 263.0,341.2 263.5,337.6 264.0,332.7 264.5,330.4 265.0,336.0 265.5,340.1 266.0,341.3 266.5,338.6 267.0,338.6 267.5,339.9 268.0,336.2 268.5,339.9 269.0,342.7 269.5,344.8 270.0,345.2 270.5,342.0 271.0,344.5 271.5,346.5 272.0,346.5 272.5,346.5 273.0,346.4 273.5,344.5 274.0,341.9 274.5,338.0 275.0,341.5 275.5,342.9 276.0,340.7 276.5,342.5 277.0,344.3 277.5,345.7 278.0,346.5 278.5,346.5 279.0,346.5 279.5,346.5 280.0,346.5 280.5,345.5 281.0,346.5 281.5,346.5 282.0,346.2 282.5,344.8 283.0,343.1 283.5,340.8 284.0,338.1 284.5,341.0 285.0,343.2 285.5,344.9 286.0,346.3 286.5,343.9 287.0,346.2 287.5,346.5 288.0,345.9 288.5,346.5 289.0,346.5 289.5,346.5 290.0,344.9 290.5,342.6 291.0,342.6 291.5,344.6 292.0,342.0 292.5,338.5 293.0,336.7 293.5,340.8 294.0,341.8 294.5,343.1 295.0,345.2 295.5,346.5 296.0,344.9 296.5,342.5 297.0,339.1 297.5,342.6 298.0,344.9 298.5,346.5 299.0,346.5 299.5,345.3 300.0,342.8 300.5,344.0 301.0,346.1 301.5,346.5 302.0,346.1 302.5,344.6 303.0,345.6 303.5,346.5 304.0,346.5 304.5,346.5 305.0,346.5 305.5,346.5 306.0,346.1 306.5,344.8 307.0,344.2 307.5,345.6 308.0,346.5 308.5,345.3 309.0,343.4 309.5,340.7 310.0,342.0 310.5,344.3 311.0,346.0 311.5,346.5 312.0,346.5 312.5,344.6 313.0,341.6 313.5,337.1 314.0,330.3 314.5,328.4 315.0,335.8 315.5,340.7 316.0,344.0 316.5,345.1 317.0,341.4 317.5,340.5 318.0,343.0 318.5,340.9 319.0,338.1 319.5,340.9 320.0,343.1 320.5,344.8 321.0,342.9 321.5,337.3 322.0,333.3 322.5,340.6 323.0,344.8 323.5,347.2 324.0,347.1 324.5,346.5 325.0,347.3 325.5,347.3 326.0,347.3 326.5,347.3 327.0,347.3 327.5,347.3 328.0,347.1 328.5,346.1 329.0,344.8 329.5,343.1 330.0,342.1 330.5,344.0 331.0,345.5 331.5,346.6 332.0,347.3 332.5,347.3 333.0,347.3 333.5,345.6 334.0,343.2 334.5,345.9 335.0,345.2 335.5,343.2 336.0,340.4 336.5,342.3 337.0,344.6 337.5,346.3 338.0,347.3 338.5,347.3 339.0,347.0 339.5,345.5 340.0,343.1 340.5,339.7 341.0,341.2 341.5,340.4 342.0,337.4 342.5,338.7 343.0,341.4 343.5,343.5 344.0,341.2 344.5,336.7 345.0,340.4 345.5,343.7 346.0,345.9 346.5,347.3 347.0,347.3 347.5,347.3 348.0,347.1 348.5,345.2 349.0,345.9 349.5,347.3 350.0,347.3 350.5,347.3 351.0,347.3 351.5,347.3 352.0,347.3 352.5,346.9 353.0,345.5 353.5,343.6 354.0,341.0 354.5,338.6 355.0,341.9 355.5,340.7 356.0,337.9 356.5,342.6 357.0,345.6 357.5,345.5 358.0,343.8 358.5,342.0 359.0,344.2 359.5,345.8 360.0,347.0 360.5,347.3 361.0,347.3 361.5,347.3 362.0,347.3 362.5,347.3 363.0,347.3 363.5,347.3 364.0,347.3 364.5,347.3 365.0,347.2 365.5,346.6 366.0,347.3 366.5,347.3 367.0,347.3 367.5,347.3 368.0,347.3 368.5,347.3 369.0,347.3 369.5,347.3 370.0,347.3 370.5,347.3 371.0,346.7 371.5,345.5 372.0,344.7 372.5,344.4 373.0,342.3 373.5,342.0 374.0,344.2 374.5,345.3 375.0,343.5 375.5,341.1 376.0,337.9 376.5,333.7 377.0,332.9 377.5,337.4 378.0,340.7 378.5,343.2 379.0,345.0 379.5,346.4 380.0,347.3 380.5,347.3 381.0,347.3 381.5,346.0 382.0,344.3 382.5,341.8 383.0,338.5 383.5,333.8 384.0,327.6 384.5,334.0 385.0,338.6 385.5,338.8 386.0,334.7 386.5,333.6 387.0,337.9 387.5,341.1 388.0,341.4 388.5,339.8 389.0,342.7 389.5,344.8 390.0,342.4 390.5,341.2 391.0,344.9 391.5,342.2 392.0,344.1 392.5,345.9 393.0,344.5 393.5,343.9 394.0,341.8 394.5,339.0 395.0,335.3 395.5,337.2 396.0,340.4 396.5,342.9 397.0,338.9 397.5,338.9 398.0,335.2 398.5,330.3 399.0,329.7 399.5,334.7 400.0,338.5 400.5,341.4 401.0,342.6 401.5,344.7 402.0,342.7 402.5,340.0 403.0,336.4 403.5,331.5 404.0,333.6 404.5,337.9 405.0,341.2 405.5,343.6 406.0,345.4 406.5,346.7 407.0,347.3 407.5,347.3 408.0,347.3 408.5,346.8 409.0,345.1 409.5,342.8 410.0,339.5 410.5,334.8 411.0,331.8 411.5,337.4 412.0,341.4 412.5,344.1 413.0,344.4 413.5,340.4 414.0,334.9 414.5,341.1 415.0,344.9 415.5,347.1 416.0,347.3 416.5,347.3 417.0,347.3 417.5,346.2 418.0,347.3 418.5,347.3 419.0,347.3 419.5,347.3 420.0,348.1 420.5,348.1 421.0,348.1 421.5,348.1 422.0,348.1 422.5,347.9 423.0,346.4 423.5,344.2 424.0,340.7 424.5,339.5 425.0,343.4 425.5,345.9 426.0,347.5 426.5,348.1 427.0,348.1 427.5,348.1 428.0,348.1 428.5,348.1 429.0,348.1 429.5,348.1 430.0,348.1 430.5,347.5 431.0,346.5 431.5,345.2 432.0,343.6 432.5,341.4 433.0,343.2 433.5,345.0 434.0,343.3 434.5,339.2 435.0,337.6 435.5,342.2 436.0,345.2 436.5,347.1 437.0,345.7 437.5,347.4 438.0,348.1 438.5,347.9 439.0,347.2 439.5,346.3 440.0,346.4 440.5,347.3 441.0,348.0 441.5,347.8 442.0,348.1 442.5,348.1 443.0,348.1 443.5,347.6 444.0,345.7 444.5,344.7 445.0,346.6 445.5,344.9 446.0,342.5 446.5,343.2 447.0,343.0 447.5,339.3 448.0,340.6 448.5,343.9 449.0,346.1 449.5,346.3 450.0,344.9 450.5,345.1 451.0,346.5 451.5,347.5 452.0,348.1 452.5,348.1 453.0,348.1 453.5,348.1 454.0,348.1 454.5,348.1 455.0,348.1 455.5,347.6 456.0,348.1 456.5,348.1 457.0,348.1 457.5,348.1 458.0,348.1 458.5,348.1 459.0,348.1 459.5,347.8 460.0,347.0 460.5,347.2 461.0,347.9 461.5,348.1 462.0,348.1 462.5,347.4 463.0,346.0 463.5,347.8 464.0,348.1 464.5,348.1 465.0,348.1 465.5,347.2 466.0,346.6 466.5,347.8 467.0,348.1 467.5,348.1 468.0,348.1 468.5,347.8 469.0,347.9 469.5,347.6 470.0,346.3 470.5,344.9 471.0,346.6 471.5,347.8 472.0,347.0 472.5,348.0 473.0,348.1 473.5,348.1 474.0,348.1 474.5,348.1 475.0,348.1 475.5,348.1 476.0,348.1 476.5,348.0 477.0,348.1 477.5,348.1 478.0,348.1 478.5,348.1 479.0,347.7 479.5,346.4 480.0,344.6 480.5,342.0 481.0,341.8 481.5,344.5 482.0,346.3 482.5,346.8 483.0,345.6 483.5,344.1 484.0,345.0 484.5,346.3 485.0,345.3 485.5,346.2 486.0,347.6 486.5,347.0 487.0,345.4 487.5,346.6 488.0,347.8 488.5,347.8 489.0,346.3 489.5,344.0 490.0,340.4 490.5,343.8 491.0,346.1 491.5,347.7 492.0,348.1 492.5,348.1 493.0,348.1 493.5,348.1 494.0,348.1 494.5,347.9 495.0,347.0 495.5,345.9 496.0,346.7 496.5,347.6 497.0,347.3 497.5,346.3 498.0,344.9 498.5,343.1 499.0,344.8 499.5,346.2 500.0,347.2 500.5,348.0 501.0,348.1 501.5,348.1 502.0,348.1 502.5,346.6 503.0,343.9 503.5,343.7 504.0,346.5 504.5,348.1 505.0,348.1 505.5,348.1 506.0,348.1 506.5,348.1 507.0,347.7 507.5,346.3 508.0,344.3 508.5,341.3 509.0,342.7 509.5,345.2 510.0,346.5 510.5,346.5 511.0,346.5 511.5,346.0 512.0,344.5 512.5,342.5 513.0,339.8 513.5,336.2 514.0,337.6 514.5,340.8 515.0,341.7 515.5,341.7 516.0,341.7 516.5,341.7 517.0,341.7 517.5,338.9 518.0,334.6 518.5,328.8 519.0,328.3 519.5,334.2 520.0,338.6 520.5,336.3 521.0,332.2 521.5,336.2 522.0,339.5 522.5,338.6 523.0,331.8 523.5,327.9 524.0,336.1 524.5,340.5 525.0,335.1 525.5,335.6 526.0,340.8 526.5,341.7 527.0,340.6 527.5,335.2 528.0,339.2 528.5,341.7 529.0,341.7 529.5,341.7 530.0,341.7 530.5,341.7 531.0,341.7 531.5,341.7 532.0,339.5 532.5,336.1 533.0,331.7 533.5,325.9 534.0,318.4 534.5,315.3 535.0,323.6 535.5,323.9 536.0,321.8 536.5,332.6 537.0,339.3 537.5,341.7 538.0,339.6 538.5,335.3 539.0,339.5 539.5,341.7 540.0,341.7 540.5,341.7 541.0,341.4 541.5,336.7 542.0,329.3 542.5,323.9 543.0,333.1 543.5,328.2 544.0,330.6 544.5,336.6 545.0,339.8 545.5,341.4 546.0,341.7 546.5,341.7 547.0,339.8 547.5,340.5 548.0,341.7 548.5,341.7 549.0,341.7 549.5,341.7 550.0,344.7 550.5,346.4 551.0,346.5 551.5,346.5 552.0,346.5 552.5,346.5 553.0,346.5 553.5,345.9 554.0,343.5 554.5,339.7 555.0,340.2 555.5,343.8 556.0,346.2 556.5,346.5 557.0,346.5 557.5,346.5 558.0,346.5 558.5,345.7 559.0,344.3 559.5,342.6 560.0,340.5 560.5,342.7 561.0,344.4 561.5,345.8 562.0,345.2 562.5,344.9 563.0,346.5 563.5,347.7 564.0,348.1 564.5,348.1 565.0,348.1 565.5,347.3 566.0,345.8 566.5,345.8 567.0,347.3 567.5,348.1 568.0,346.9 568.5,345.2 569.0,342.7 569.5,345.2 570.0,346.9 570.5,345.8 571.0,345.7 571.5,347.3 572.0,346.9 572.5,345.5 573.0,343.5 573.5,340.7 574.0,336.9 574.5,336.9 575.0,340.8 575.5,343.5 576.0,345.5 576.5,346.9 577.0,345.8 577.5,344.4 578.0,342.4 578.5,339.8 579.0,336.5 579.5,335.8 580.0,339.3 580.5,342.0 581.0,344.1 581.5,345.6 582.0,345.4 582.5,342.9 583.0,339.0 583.5,336.1 584.0,340.9 584.5,344.1 585.0,346.3 585.5,347.7 586.0,347.6 586.5,348.1 587.0,347.3 587.5,346.1 588.0,344.4 588.5,343.6 589.0,345.5 589.5,346.4 590.0,343.9 590.5,339.6 591.0,335.1 591.5,341.1 592.0,344.7 592.5,347.0 593.0,347.8 593.5,346.2 594.0,346.9 594.5,348.1 595.0,348.1 595.5,347.9 596.0,348.1 596.5,347.2 597.0,345.7 597.5,343.5 598.0,345.0 598.5,346.7 599.0,347.9 599.5,348.1 600.0,349.3 600.5,349.5 601.0,348.8 601.5,347.8 602.0,346.3 602.5,347.9 603.0,348.2 603.5,348.2 604.0,347.5 604.5,346.2 605.0,346.4 605.5,347.6 606.0,348.5 606.5,349.1 607.0,349.5 607.5,349.4 608.0,349.1 608.5,348.7 609.0,348.2 609.5,347.9 610.0,348.5 610.5,348.8 611.0,349.2 611.5,349.5 612.0,349.3 612.5,349.0 613.0,348.7 613.5,348.0 614.0,346.9 614.5,347.1 615.0,348.1 615.5,348.8 616.0,349.3 616.5,349.5 617.0,349.5 617.5,349.5 618.0,349.3 618.5,348.8 619.0,349.2 619.5,349.5 620.0,349.3 620.5,348.6 621.0,347.7 621.5,347.7 622.0,348.7 622.5,349.3 623.0,349.5 623.5,349.5 624.0,349.5 624.5,349.5 625.0,349.5 625.5,349.3 626.0,348.5 626.5,349.3 627.0,349.2 627.5,348.8 628.0,349.5 628.5,349.3 629.0,349.0 629.5,348.5 630.0,347.8 630.5,346.9 631.0,347.0 631.5,347.8 632.0,348.5 632.5,349.0 633.0,349.4 633.5,349.0 634.0,348.3 634.5,347.2 635.0,348.3 635.5,349.1 636.0,349.5 636.5,349.5 637.0,349.5 637.5,349.5 638.0,349.5 638.5,349.4 639.0,348.9 639.5,348.3 640.0,347.9 640.5,348.6 641.0,349.2 641.5,349.2 642.0,348.7 642.5,348.7 643.0,348.0 643.5,347.1 644.0,345.9 644.5,347.0 645.0,347.9 645.5,348.0 646.0,348.3 646.5,348.9 647.0,349.3 647.5,349.5 648.0,349.5 648.5,349.5 649.0,349.5 649.5,349.5 650.0,349.4 650.5,349.1 651.0,348.6 651.5,348.1 652.0,347.4 652.5,346.6 653.0,346.4 653.5,347.3 654.0,348.0 654.5,348.6 655.0,348.0 655.5,347.3 656.0,346.3 656.5,345.0 657.0,344.5 657.5,345.9 658.0,347.0 658.5,347.8 659.0,348.4 659.5,348.0 660.0,347.2 660.5,346.1 661.0,344.6 661.5,344.8 662.0,346.2 662.5,347.3 663.0,348.1 663.5,348.7 664.0,348.2 664.5,348.4 665.0,349.0 665.0,350.5"/><polygon points="42.20,350.50 43.30,346.80 44.15,341.25 44.75,334.77 45.00,332.00 45.60,332.00 45.85,334.77 46.45,341.25 47.30,346.80 48.40,350.50"/><polygon points="45.50,350.50 46.60,345.72 47.45,338.55 48.05,330.19 48.30,326.60 48.90,326.60 49.15,330.19 49.75,338.55 50.60,345.72 51.70,350.50"/><polygon points="68.20,350.50 69.30,345.72 70.15,338.55 70.75,330.19 71.00,326.60 71.60,326.60 71.85,330.19 72.45,338.55 73.30,345.72 74.40,350.50"/><polygon points="79.40,350.50 80.50,341.40 81.35,327.75 81.95,311.82 82.20,305.00 82.80,305.00 83.05,311.82 83.65,327.75 84.50,341.40 85.60,350.50"/><polygon points="92.40,350.50 93.50,342.00 94.35,329.25 94.95,314.38 95.20,308.00 95.80,308.00 96.05,314.38 96.65,329.25 97.50,342.00 98.60,350.50"/><polygon points="91.12,350.50 91.12,349.53 91.51,348.84 91.90,347.77 92.29,346.24 92.68,344.15 93.07,341.48 93.46,338.26 93.85,334.65 94.24,330.92 94.63,327.43 95.02,324.55 95.41,322.66 95.50,322.00 95.80,322.00 96.10,322.00 96.19,322.66 96.58,324.55 96.97,327.43 97.36,330.92 97.75,334.65 98.14,338.26 98.53,341.48 98.92,344.15 99.31,346.24 99.70,347.77 100.09,348.84 100.48,349.53 100.48,350.50"/><polygon points="100.20,350.50 100.20,349.80 100.52,349.30 100.85,348.54 101.17,347.44 101.50,345.94 101.82,344.01 102.15,341.69 102.47,339.10 102.80,336.42 103.12,333.90 103.45,331.84 103.77,330.48 103.80,330.00 104.10,330.00 104.40,330.00 104.42,330.48 104.75,331.84 105.07,333.90 105.40,336.42 105.72,339.10 106.05,341.69 106.38,344.01 106.70,345.94 107.02,347.44 107.35,348.54 107.67,349.30 108.00,349.80 108.00,350.50"/><polygon points="110.20,350.50 111.30,348.20 112.15,344.75 112.75,340.73 113.00,339.00 113.60,339.00 113.85,340.73 114.45,344.75 115.30,348.20 116.40,350.50"/><polygon points="115.80,350.50 116.90,346.80 117.75,341.25 118.35,334.77 118.60,332.00 119.20,332.00 119.45,334.77 120.05,341.25 120.90,346.80 122.00,350.50"/><polygon points="124.50,350.50 125.60,341.80 126.45,328.75 127.05,313.52 127.30,307.00 127.90,307.00 128.15,313.52 128.75,328.75 129.60,341.80 130.70,350.50"/><polygon points="147.20,350.50 148.30,346.40 149.15,340.25 149.75,333.07 150.00,330.00 150.60,330.00 150.85,333.07 151.45,340.25 152.30,346.40 153.40,350.50"/><polygon points="188.30,350.50 189.40,347.40 190.25,342.75 190.85,337.32 191.10,335.00 191.70,335.00 191.95,337.32 192.55,342.75 193.40,347.40 194.50,350.50"/><polygon points="193.70,350.50 194.80,346.80 195.65,341.25 196.25,334.77 196.50,332.00 197.10,332.00 197.35,334.77 197.95,341.25 198.80,346.80 199.90,350.50"/><polygon points="208.80,350.50 208.80,349.39 209.23,348.60 209.67,347.39 210.10,345.65 210.53,343.26 210.97,340.21 211.40,336.54 211.83,332.43 212.27,328.18 212.70,324.19 213.13,320.91 213.57,318.75 213.70,318.00 214.00,318.00 214.30,318.00 214.43,318.75 214.87,320.91 215.30,324.19 215.73,328.18 216.17,332.43 216.60,336.54 217.03,340.21 217.47,343.26 217.90,345.65 218.33,347.39 218.77,348.60 219.20,349.39 219.20,350.50"/><polygon points="210.10,350.50 211.20,344.00 212.05,334.25 212.65,322.88 212.90,318.00 213.50,318.00 213.75,322.88 214.35,334.25 215.20,344.00 216.30,350.50"/><polygon points="219.90,350.50 221.00,339.40 221.85,322.75 222.45,303.32 222.70,295.00 223.30,295.00 223.55,303.32 224.15,322.75 225.00,339.40 226.10,350.50"/><polygon points="227.50,350.50 228.60,343.80 229.45,333.75 230.05,322.02 230.30,317.00 230.90,317.00 231.15,322.02 231.75,333.75 232.60,343.80 233.70,350.50"/><polygon points="228.50,350.50 229.60,332.30 230.45,305.00 231.05,273.15 231.30,259.50 231.90,259.50 232.15,273.15 232.75,305.00 233.60,332.30 234.70,350.50"/><polygon points="237.20,350.50 238.30,337.50 239.15,318.00 239.75,295.25 240.00,285.50 240.60,285.50 240.85,295.25 241.45,318.00 242.30,337.50 243.40,350.50"/><polygon points="245.90,350.50 247.00,341.60 247.85,328.25 248.45,312.68 248.70,306.00 249.30,306.00 249.55,312.68 250.15,328.25 251.00,341.60 252.10,350.50"/><polygon points="246.90,350.50 248.00,345.00 248.85,336.75 249.45,327.12 249.70,323.00 250.30,323.00 250.55,327.12 251.15,336.75 252.00,345.00 253.10,350.50"/><polygon points="253.40,350.50 254.50,348.54 255.35,345.60 255.95,342.17 256.20,340.70 256.80,340.70 257.05,342.17 257.65,345.60 258.50,348.54 259.60,350.50"/><polygon points="259.90,350.50 261.00,340.74 261.85,326.10 262.45,309.02 262.70,301.70 263.30,301.70 263.55,309.02 264.15,326.10 265.00,340.74 266.10,350.50"/><polygon points="264.20,350.50 265.30,326.40 265.85,290.25 266.15,242.05 266.40,230.00 267.00,230.00 267.25,242.05 267.55,290.25 268.10,326.40 269.20,350.50"/><polygon points="268.90,350.50 270.00,310.14 270.55,249.60 270.85,168.88 271.10,148.70 271.70,148.70 271.95,168.88 272.25,249.60 272.80,310.14 273.90,350.50"/><polygon points="271.90,350.50 273.00,343.80 273.85,333.75 274.45,322.02 274.70,317.00 275.30,317.00 275.55,322.02 276.15,333.75 277.00,343.80 278.10,350.50"/><polygon points="277.20,350.50 278.30,326.90 278.85,291.50 279.15,244.30 279.40,232.50 280.00,232.50 280.25,244.30 280.55,291.50 281.10,326.90 282.20,350.50"/><polygon points="281.60,350.50 282.70,342.90 283.55,331.50 284.15,318.20 284.40,312.50 285.00,312.50 285.25,318.20 285.85,331.50 286.70,342.90 287.80,350.50"/><polygon points="285.90,350.50 287.00,338.60 287.85,320.75 288.45,299.93 288.70,291.00 289.30,291.00 289.55,299.93 290.15,320.75 291.00,338.60 292.10,350.50"/><polygon points="294.60,350.50 295.70,346.40 296.55,340.25 297.15,333.07 297.40,330.00 298.00,330.00 298.25,333.07 298.85,340.25 299.70,346.40 300.80,350.50"/><polygon points="297.90,350.50 299.00,340.74 299.85,326.10 300.45,309.02 300.70,301.70 301.30,301.70 301.55,309.02 302.15,326.10 303.00,340.74 304.10,350.50"/><polygon points="301.90,350.50 303.00,347.20 303.85,342.25 304.45,336.48 304.70,334.00 305.30,334.00 305.55,336.48 306.15,342.25 307.00,347.20 308.10,350.50"/><polygon points="300.50,350.50 301.60,340.74 302.45,326.10 303.05,309.02 303.30,301.70 303.90,301.70 304.15,309.02 304.75,326.10 305.60,340.74 306.70,350.50"/><polygon points="306.60,350.50 307.70,342.68 308.55,330.95 309.15,317.26 309.40,311.40 310.00,311.40 310.25,317.26 310.85,330.95 311.70,342.68 312.80,350.50"/><polygon points="307.90,350.50 309.00,337.86 309.85,318.90 310.45,296.78 310.70,287.30 311.30,287.30 311.55,296.78 312.15,318.90 313.00,337.86 314.10,350.50"/><polygon points="334.60,350.50 335.70,342.60 336.55,330.75 337.15,316.93 337.40,311.00 338.00,311.00 338.25,316.93 338.85,330.75 339.70,342.60 340.80,350.50"/><polygon points="335.20,350.50 336.30,337.60 337.15,318.25 337.75,295.68 338.00,286.00 338.60,286.00 338.85,295.68 339.45,318.25 340.30,337.60 341.40,350.50"/><polygon points="339.30,350.50 340.40,341.80 341.25,328.75 341.85,313.52 342.10,307.00 342.70,307.00 342.95,313.52 343.55,328.75 344.40,341.80 345.50,350.50"/><polygon points="340.70,350.50 341.80,343.60 342.65,333.25 343.25,321.18 343.50,316.00 344.10,316.00 344.35,321.18 344.95,333.25 345.80,343.60 346.90,350.50"/><polygon points="350.30,350.50 351.40,344.30 352.25,335.00 352.85,324.15 353.10,319.50 353.70,319.50 353.95,324.15 354.55,335.00 355.40,344.30 356.50,350.50"/><polygon points="355.30,350.50 356.40,345.60 357.25,338.25 357.85,329.68 358.10,326.00 358.70,326.00 358.95,329.68 359.55,338.25 360.40,345.60 361.50,350.50"/><polygon points="369.90,350.50 371.00,342.54 371.85,330.60 372.45,316.67 372.70,310.70 373.30,310.70 373.55,316.67 374.15,330.60 375.00,342.54 376.10,350.50"/><polygon points="372.90,350.50 374.00,343.70 374.85,333.50 375.45,321.60 375.70,316.50 376.30,316.50 376.55,321.60 377.15,333.50 378.00,343.70 379.10,350.50"/><polygon points="420.00,350.50 421.10,305.28 421.65,237.45 421.95,147.01 422.20,124.40 422.80,124.40 423.05,147.01 423.35,237.45 423.90,305.28 425.00,350.50"/><polygon points="434.50,350.50 435.60,332.90 436.45,306.50 437.05,275.70 437.30,262.50 437.90,262.50 438.15,275.70 438.75,306.50 439.60,332.90 440.70,350.50"/><polygon points="470.90,350.50 472.00,346.48 472.85,340.45 473.45,333.41 473.70,330.40 474.30,330.40 474.55,333.41 475.15,340.45 476.00,346.48 477.10,350.50"/><polygon points="475.50,350.50 476.60,346.00 477.45,339.25 478.05,331.38 478.30,328.00 478.90,328.00 479.15,331.38 479.75,339.25 480.60,346.00 481.70,350.50"/><polygon points="515.70,350.50 516.80,340.00 517.65,324.25 518.25,305.88 518.50,298.00 519.10,298.00 519.35,305.88 519.95,324.25 520.80,340.00 521.90,350.50"/><polygon points="521.40,350.50 522.50,332.20 523.35,304.75 523.95,272.73 524.20,259.00 524.80,259.00 525.05,272.73 525.65,304.75 526.50,332.20 527.60,350.50"/><polygon points="524.90,350.50 526.00,337.74 526.85,318.60 527.45,296.27 527.70,286.70 528.30,286.70 528.55,296.27 529.15,318.60 530.00,337.74 531.10,350.50"/><polygon points="529.50,350.50 530.60,340.00 531.45,324.25 532.05,305.88 532.30,298.00 532.90,298.00 533.15,305.88 533.75,324.25 534.60,340.00 535.70,350.50"/><polygon points="532.90,350.50 534.00,335.90 534.85,314.00 535.45,288.45 535.70,277.50 536.30,277.50 536.55,288.45 537.15,314.00 538.00,335.90 539.10,350.50"/><polygon points="538.70,350.50 539.80,332.20 540.65,304.75 541.25,272.73 541.50,259.00 542.10,259.00 542.35,272.73 542.95,304.75 543.80,332.20 544.90,350.50"/><polygon points="541.90,350.50 543.00,338.40 543.85,320.25 544.45,299.07 544.70,290.00 545.30,290.00 545.55,299.07 546.15,320.25 547.00,338.40 548.10,350.50"/><polygon points="516.90,350.50 518.00,340.40 518.85,325.25 519.45,307.57 519.70,300.00 520.30,300.00 520.55,307.57 521.15,325.25 522.00,340.40 523.10,350.50"/><polygon points="562.90,350.50 564.00,346.80 564.85,341.25 565.45,334.77 565.70,332.00 566.30,332.00 566.55,334.77 567.15,341.25 568.00,346.80 569.10,350.50"/><polygon points="566.90,350.50 568.00,346.40 568.85,340.25 569.45,333.07 569.70,330.00 570.30,330.00 570.55,333.07 571.15,340.25 572.00,346.40 573.10,350.50"/><polygon points="571.90,350.50 573.00,347.00 573.85,341.75 574.45,335.62 574.70,333.00 575.30,333.00 575.55,335.62 576.15,341.75 577.00,347.00 578.10,350.50"/><polygon points="575.90,350.50 577.00,347.20 577.85,342.25 578.45,336.48 578.70,334.00 579.30,334.00 579.55,336.48 580.15,342.25 581.00,347.20 582.10,350.50"/><polygon points="604.50,350.50 605.60,349.68 606.45,348.45 607.05,347.01 607.30,346.40 607.90,346.40 608.15,347.01 608.75,348.45 609.60,349.68 610.70,350.50"/><polygon points="614.00,350.50 615.10,347.20 615.95,342.25 616.55,336.48 616.80,334.00 617.40,334.00 617.65,336.48 618.25,342.25 619.10,347.20 620.20,350.50"/></g>
<text x="61.8" y="357.5" font-size="7.6" font-weight="normal" text-anchor="middle" dominant-baseline="central" fill="#1a1a1a">6.00</text>
<text x="108.1" y="357.5" font-size="7.6" font-weight="normal" text-anchor="middle" dominant-baseline="central" fill="#1a1a1a">8.00</text>
<text x="154.4" y="357.5" font-size="7.6" font-weight="normal" text-anchor="middle" dominant-baseline="central" fill="#1a1a1a">10.00</text>
<text x="200.7" y="357.5" font-size="7.6" font-weight="normal" text-anchor="middle" dominant-baseline="central" fill="#1a1a1a">12.00</text>
<text x="247.0" y="357.5" font-size="7.6" font-weight="normal" text-anchor="middle" dominant-baseline="central" fill="#1a1a1a">14.00</text>
<text x="293.3" y="357.5" font-size="7.6" font-weight="normal" text-anchor="middle" dominant-baseline="central" fill="#1a1a1a">16.00</text>
<text x="339.59999999999997" y="357.5" font-size="7.6" font-weight="normal" text-anchor="middle" dominant-baseline="central" fill="#1a1a1a">18.00</text>
<text x="385.9" y="357.5" font-size="7.6" font-weight="normal" text-anchor="middle" dominant-baseline="central" fill="#1a1a1a">20.00</text>
<text x="432.2" y="357.5" font-size="7.6" font-weight="normal" text-anchor="middle" dominant-baseline="central" fill="#1a1a1a">22.00</text>
<text x="478.5" y="357.5" font-size="7.6" font-weight="normal" text-anchor="middle" dominant-baseline="central" fill="#1a1a1a">24.00</text>
<text x="524.8" y="357.5" font-size="7.6" font-weight="normal" text-anchor="middle" dominant-baseline="central" fill="#1a1a1a">26.00</text>
<text x="571.0999999999999" y="357.5" font-size="7.6" font-weight="normal" text-anchor="middle" dominant-baseline="central" fill="#1a1a1a">28.00</text>
<text x="617.3999999999999" y="357.5" font-size="7.6" font-weight="normal" text-anchor="middle" dominant-baseline="central" fill="#1a1a1a">30.00</text>
<text x="663.6999999999999" y="357.5" font-size="7.6" font-weight="normal" text-anchor="middle" dominant-baseline="central" fill="#1a1a1a">32.00</text>
<text x="709.9999999999999" y="357.5" font-size="7.6" font-weight="normal" text-anchor="middle" dominant-baseline="central" fill="#1a1a1a">34.00</text>
<text x="724.5" y="261.8" font-size="14.5" font-weight="bold" fill="#111" textLength="57.5" lengthAdjust="spacingAndGlyphs">Elands -</text>
<text x="723.5" y="283.7" font-size="14.5" font-weight="bold" fill="#111" textLength="59.5" lengthAdjust="spacingAndGlyphs">Gariep -</text>
<text x="723.3" y="308.6" font-size="14.5" font-weight="bold" fill="#111" textLength="79.7" lengthAdjust="spacingAndGlyphs">Matlabas -</text>
<text x="723.2" y="332.3" font-size="14.5" font-weight="bold" fill="#111" textLength="66.6" lengthAdjust="spacingAndGlyphs">Koonap -</text>
<text x="722.8" y="355.1" font-size="14.5" font-weight="bold" fill="#111" textLength="56.5" lengthAdjust="spacingAndGlyphs">Senqu -</text>

<line x1="32.4" y1="474" x2="32.4" y2="703.7" stroke="#c8c8c8" stroke-width="1"/>
<line x1="30.4" y1="474.0" x2="32.4" y2="474.0" stroke="#c8c8c8" stroke-width="1"/>
<line x1="30.4" y1="497.0" x2="32.4" y2="497.0" stroke="#c8c8c8" stroke-width="1"/>
<line x1="30.4" y1="519.9" x2="32.4" y2="519.9" stroke="#c8c8c8" stroke-width="1"/>
<line x1="30.4" y1="542.9" x2="32.4" y2="542.9" stroke="#c8c8c8" stroke-width="1"/>
<line x1="30.4" y1="565.9" x2="32.4" y2="565.9" stroke="#c8c8c8" stroke-width="1"/>
<line x1="30.4" y1="588.9" x2="32.4" y2="588.9" stroke="#c8c8c8" stroke-width="1"/>
<line x1="30.4" y1="611.8" x2="32.4" y2="611.8" stroke="#c8c8c8" stroke-width="1"/>
<line x1="30.4" y1="634.8" x2="32.4" y2="634.8" stroke="#c8c8c8" stroke-width="1"/>
<line x1="30.4" y1="657.8" x2="32.4" y2="657.8" stroke="#c8c8c8" stroke-width="1"/>
<line x1="30.4" y1="680.7" x2="32.4" y2="680.7" stroke="#c8c8c8" stroke-width="1"/>
<line x1="30.4" y1="703.7" x2="32.4" y2="703.7" stroke="#c8c8c8" stroke-width="1"/>
<line x1="78.7" y1="611.3" x2="720" y2="611.3" stroke="#ff00ff" stroke-opacity="0.4" stroke-width="0.9"/>
<g fill="#ff00ff"><polygon points="92.0,611.3 92.0,606.5 92.5,607.7 93.0,608.6 93.5,609.3 94.0,609.2 94.5,608.6 95.0,609.7 95.5,609.9 96.0,609.5 96.5,609.2 97.0,609.7 97.5,610.1 98.0,610.1 98.5,609.5 99.0,609.2 99.5,609.9 100.0,609.9 100.5,609.4 101.0,609.5 101.5,610.0 102.0,610.1 102.5,610.1 103.0,610.1 103.5,609.9 104.0,609.0 104.5,607.5 105.0,608.6 105.5,609.6 106.0,608.9 106.5,607.9 107.0,606.4 107.5,607.8 108.0,605.2 108.5,604.8 109.0,607.6 109.5,609.2 110.0,608.7 110.5,607.8 111.0,608.3 111.5,609.1 112.0,609.7 112.5,610.1 113.0,610.1 113.5,609.8 114.0,609.4 114.5,608.9 115.0,609.3 115.5,609.7 116.0,610.1 116.5,609.7 117.0,610.1 117.5,609.7 118.0,608.8 118.5,607.6 119.0,607.4 119.5,608.7 120.0,609.6 120.5,610.0 121.0,610.1 121.5,610.1 122.0,610.1 122.5,610.1 123.0,609.7 123.5,609.1 124.0,608.2 124.5,606.9 125.0,608.1 125.5,609.0 126.0,609.7 126.5,610.1 127.0,609.8 127.5,609.5 128.0,608.9 128.5,607.8 129.0,608.2 129.5,609.2 130.0,609.9 130.5,610.1 131.0,610.1 131.5,610.1 132.0,609.5 132.5,608.4 133.0,606.8 133.5,608.6 134.0,609.6 134.5,610.0 135.0,610.1 135.5,610.1 136.0,610.1 136.5,610.1 137.0,609.9 137.5,609.7 138.0,610.0 138.5,610.1 139.0,610.1 139.5,609.8 140.0,609.0 140.5,609.1 141.0,609.9 141.5,610.1 142.0,610.1 142.5,609.9 143.0,609.1 143.5,609.6 144.0,610.1 144.5,610.1 145.0,610.1 145.5,610.0 146.0,610.0 146.5,609.6 147.0,609.1 147.5,609.1 148.0,609.2 148.5,608.2 149.0,609.0 149.5,609.8 150.0,609.1 150.5,607.9 151.0,606.2 151.5,604.8 152.0,607.0 152.5,608.5 153.0,609.5 153.5,610.1 154.0,610.1 154.5,610.1 155.0,610.1 155.5,610.1 156.0,610.1 156.5,610.0 157.0,609.5 157.5,608.8 158.0,607.8 158.5,606.3 159.0,604.3 159.5,605.1 160.0,606.9 160.5,608.1 161.0,606.9 161.5,608.0 162.0,608.9 162.5,609.5 163.0,609.1 163.5,609.2 164.0,608.2 164.5,606.7 165.0,606.9 165.5,608.4 166.0,609.4 166.5,609.9 167.0,609.4 167.5,608.8 168.0,608.0 168.5,607.3 169.0,607.7 169.5,606.3 170.0,605.9 170.5,607.4 171.0,608.5 171.5,607.9 172.0,606.9 172.5,608.4 173.0,609.4 173.5,609.9 174.0,609.6 174.5,609.2 175.0,608.6 175.5,607.8 176.0,606.7 176.5,606.6 177.0,607.6 177.5,608.5 178.0,609.1 178.5,609.6 179.0,610.0 179.5,609.8 180.0,610.1 180.5,610.1 181.0,610.0 181.5,610.1 182.0,610.1 182.5,610.1 183.0,610.1 183.5,610.1 184.0,610.1 184.5,610.1 185.0,609.8 185.5,608.7 186.0,608.9 186.5,609.9 187.0,610.1 187.5,610.1 188.0,610.1 188.5,610.1 189.0,610.1 189.5,609.5 190.0,608.2 190.5,608.3 191.0,609.6 191.5,609.5 192.0,609.7 192.5,609.7 193.0,609.2 193.5,608.4 194.0,608.5 194.5,609.3 195.0,609.0 195.5,609.8 196.0,610.1 196.5,610.1 197.0,610.0 197.5,609.4 198.0,608.6 198.5,607.4 199.0,608.4 199.5,609.3 200.0,609.9 200.5,610.1 201.0,610.1 201.5,610.1 202.0,609.6 202.5,610.0 203.0,610.1 203.5,610.1 204.0,610.1 204.5,610.1 205.0,609.8 205.5,610.1 206.0,610.1 206.5,610.1 207.0,610.1 207.5,609.9 208.0,610.1 208.5,610.1 209.0,610.1 209.5,610.1 210.0,609.9 210.5,610.1 211.0,610.1 211.5,610.1 212.0,609.9 212.5,609.4 213.0,609.6 213.5,610.0 214.0,609.9 214.5,609.1 215.0,608.3 215.5,609.3 216.0,609.4 216.5,608.6 217.0,607.9 217.5,608.8 218.0,609.5 218.5,610.0 219.0,610.1 219.5,609.9 220.0,610.1 220.5,610.1 221.0,610.1 221.5,610.1 222.0,610.1 222.5,610.1 223.0,610.1 223.5,610.1 224.0,610.1 224.5,610.1 225.0,610.1 225.5,610.1 226.0,610.1 226.5,609.7 227.0,609.2 227.5,608.6 228.0,607.7 228.5,606.6 229.0,607.2 229.5,608.2 230.0,607.7 230.5,606.0 231.0,603.6 231.5,605.5 232.0,607.3 232.5,608.6 233.0,609.4 233.5,609.3 234.0,608.7 234.5,607.9 235.0,607.8 235.5,608.6 236.0,609.2 236.5,609.7 237.0,609.3 237.5,608.4 238.0,608.7 238.5,609.5 239.0,610.1 239.5,610.1 240.0,610.1 240.5,610.1 241.0,610.1 241.5,609.7 242.0,608.7 242.5,607.9 243.0,609.2 243.5,610.0 244.0,609.7 244.5,609.3 245.0,608.6 245.5,607.8 246.0,606.8 246.5,605.4 247.0,606.1 247.5,607.3 248.0,608.2 248.5,609.0 249.0,608.8 249.5,607.7 250.0,609.0 250.5,609.4 251.0,608.4 251.5,608.5 252.0,609.5 252.5,610.1 253.0,610.0 253.5,610.1 254.0,610.1 254.5,610.1 255.0,610.1 255.5,610.1 256.0,610.1 256.5,609.7 257.0,608.9 257.5,607.7 258.0,607.0 258.5,608.4 259.0,607.4 259.5,608.3 260.0,609.3 260.5,609.9 261.0,610.1 261.5,610.1 262.0,610.1 262.5,610.1 263.0,610.1 263.5,610.1 264.0,610.1 264.5,610.1 265.0,610.0 265.5,609.3 266.0,608.9 266.5,609.6 267.0,610.1 267.5,609.4 268.0,609.5 268.5,610.1 269.0,609.5 269.5,608.5 270.0,609.3 270.5,610.0 271.0,610.1 271.5,609.7 272.0,609.2 272.5,609.8 273.0,610.1 273.5,610.1 274.0,610.1 274.5,610.1 275.0,610.1 275.5,610.1 276.0,610.1 276.5,610.1 277.0,609.7 277.5,609.1 278.0,608.6 278.5,609.4 279.0,609.9 279.5,610.1 280.0,610.1 280.5,610.1 281.0,610.1 281.5,610.1 282.0,610.1 282.5,610.1 283.0,610.1 283.5,610.1 284.0,610.1 284.5,610.1 285.0,610.1 285.5,610.1 286.0,610.1 286.5,610.1 287.0,610.1 287.5,609.7 288.0,609.2 288.5,609.7 289.0,610.1 289.5,610.1 290.0,610.1 290.5,610.1 291.0,610.1 291.5,609.7 292.0,608.5 292.5,606.4 293.0,605.0 293.5,607.7 294.0,609.2 294.5,608.9 295.0,608.8 295.5,607.9 296.0,607.5 296.5,608.6 297.0,609.3 297.5,609.9 298.0,609.6 298.5,608.6 299.0,609.4 299.5,608.4 300.0,608.3 300.5,608.5 301.0,607.5 301.5,604.8 302.0,607.1 302.5,607.1 303.0,605.8 303.5,606.1 304.0,607.3 304.5,608.2 305.0,608.5 305.5,608.5 306.0,608.5 306.5,608.5 307.0,608.5 307.5,608.5 308.0,608.5 308.5,608.5 309.0,608.5 309.5,607.2 310.0,605.6 310.5,607.6 311.0,608.5 311.5,608.2 312.0,608.4 312.5,607.3 313.0,605.9 313.5,603.9 314.0,604.4 314.5,606.2 315.0,606.9 315.5,604.9 316.0,606.8 316.5,608.2 317.0,608.5 317.5,608.5 318.0,608.5 318.5,608.5 319.0,608.5 319.5,608.5 320.0,608.5 320.5,608.4 321.0,607.5 321.5,606.4 322.0,605.0 322.5,603.2 323.0,601.8 323.5,604.0 324.0,605.6 324.5,606.9 325.0,607.9 325.5,608.5 326.0,608.5 326.5,608.5 327.0,608.5 327.5,608.5 328.0,608.5 328.5,608.5 329.0,608.1 329.5,607.5 330.0,608.4 330.5,608.5 331.0,608.5 331.5,608.5 332.0,608.5 332.5,608.5 333.0,607.1 333.5,605.8 334.0,607.7 334.5,608.5 335.0,608.4 335.5,606.5 336.0,603.9 336.5,606.9 337.0,608.5 337.5,608.5 338.0,608.5 338.5,608.5 339.0,608.5 339.5,607.9 340.0,607.9 340.5,608.5 341.0,608.5 341.5,608.5 342.0,608.0 342.5,606.9 343.0,605.5 343.5,603.6 344.0,603.6 344.5,605.5 345.0,606.9 345.5,608.0 346.0,608.5 346.5,608.5 347.0,608.5 347.5,608.3 348.0,608.0 348.5,608.5 349.0,608.5 349.5,607.3 350.0,605.6 350.5,603.6 351.0,605.9 351.5,607.6 352.0,608.5 352.5,608.5 353.0,608.2 353.5,607.3 354.0,606.1 354.5,602.7 355.0,596.7 355.5,600.0 356.0,596.7 356.5,594.5 357.0,598.3 357.5,601.3 358.0,603.6 358.5,604.6 359.0,601.7 359.5,598.8 360.0,602.5 360.5,605.1 361.0,606.9 361.5,608.2 362.0,609.1 362.5,609.7 363.0,609.7 363.5,609.7 364.0,609.3 364.5,608.6 365.0,607.6 365.5,608.0 366.0,608.9 366.5,608.0 367.0,606.8 367.5,605.6 368.0,607.2 368.5,608.4 369.0,609.2 369.5,609.7 370.0,609.7 370.5,609.7 371.0,609.4 371.5,608.4 372.0,606.9 372.5,604.5 373.0,605.3 373.5,607.4 374.0,607.7 374.5,606.0 375.0,604.7 375.5,606.8 376.0,608.2 376.5,609.2 377.0,609.7 377.5,609.7 378.0,609.7 378.5,609.7 379.0,609.7 379.5,609.5 380.0,608.7 380.5,607.5 381.0,605.8 381.5,606.8 382.0,608.2 382.5,609.1 383.0,609.1 383.5,608.4 384.0,607.3 384.5,605.9 385.0,606.3 385.5,607.6 386.0,608.6 386.5,609.3 387.0,608.7 387.5,607.9 388.0,608.7 388.5,609.3 389.0,609.7 389.5,609.7 390.0,609.7 390.5,609.7 391.0,609.7 391.5,609.7 392.0,609.7 392.5,609.3 393.0,609.7 393.5,609.7 394.0,609.7 394.5,609.7 395.0,609.7 395.5,609.7 396.0,608.8 396.5,607.1 397.0,606.7 397.5,608.5 398.0,609.4 398.5,608.8 399.0,608.0 399.5,607.1 400.0,605.8 400.5,604.1 401.0,601.9 401.5,600.1 402.0,602.7 402.5,604.7 403.0,606.3 403.5,607.4 404.0,608.3 404.5,609.0 405.0,609.6 405.5,609.7 406.0,609.7 406.5,609.7 407.0,609.7 407.5,609.7 408.0,609.7 408.5,609.3 409.0,608.6 409.5,607.5 410.0,606.8 410.5,608.0 411.0,608.9 411.5,608.5 412.0,607.6 412.5,607.7 413.0,608.6 413.5,609.3 414.0,609.7 414.5,609.4 415.0,609.1 415.5,608.4 416.0,607.5 416.5,606.4 417.0,606.6 417.5,607.7 418.0,608.6 418.5,609.2 419.0,608.5 419.5,607.6 420.0,606.3 420.5,604.7 421.0,605.7 421.5,607.1 422.0,608.2 422.5,609.0 423.0,609.5 423.5,609.7 424.0,609.7 424.5,609.3 425.0,609.4 425.5,608.7 426.0,607.5 426.5,605.9 427.0,604.5 427.5,606.5 428.0,607.9 428.5,609.0 429.0,609.7 429.5,609.7 430.0,610.5 430.5,610.7 431.0,610.7 431.5,610.7 432.0,610.7 432.5,610.7 433.0,610.7 433.5,610.7 434.0,610.7 434.5,610.7 435.0,610.7 435.5,610.5 436.0,610.1 436.5,610.0 437.0,610.4 437.5,610.7 438.0,610.7 438.5,610.7 439.0,610.5 439.5,610.0 440.0,609.9 440.5,610.4 441.0,610.7 441.5,610.7 442.0,610.7 442.5,610.7 443.0,610.7 443.5,610.7 444.0,610.7 444.5,610.7 445.0,610.7 445.5,610.7 446.0,610.7 446.5,610.7 447.0,610.7 447.5,610.7 448.0,610.6 448.5,610.3 449.0,610.0 449.5,609.5 450.0,608.9 450.5,609.2 451.0,609.7 451.5,610.1 452.0,610.4 452.5,610.3 453.0,610.0 453.5,610.2 454.0,610.4 454.5,610.6 455.0,610.3 455.5,610.0 456.0,610.2 456.5,609.9 457.0,609.4 457.5,608.6 458.0,608.8 458.5,609.5 459.0,610.0 459.5,610.4 460.0,610.6 460.5,610.4 461.0,610.1 461.5,609.2 462.0,607.6 462.5,608.6 463.0,608.0 463.5,607.4 464.0,608.3 464.5,609.0 465.0,609.5 465.5,609.9 466.0,610.2 466.5,610.5 467.0,610.7 467.5,610.7 468.0,610.7 468.5,610.7 469.0,610.7 469.5,610.6 470.0,610.4 470.5,610.0 471.0,609.5 471.5,609.6 472.0,610.1 472.5,610.4 473.0,610.7 473.5,610.7 474.0,610.7 474.5,610.7 475.0,610.7 475.5,610.7 476.0,610.7 476.5,610.6 477.0,610.1 477.5,609.3 478.0,609.5 478.5,610.2 479.0,610.0 479.5,609.5 480.0,608.6 480.5,609.4 481.0,610.0 481.5,610.4 482.0,610.7 482.5,610.7 483.0,610.5 483.5,610.7 484.0,610.7 484.5,610.7 485.0,610.7 485.5,610.7 486.0,610.7 486.5,610.7 487.0,610.4 487.5,610.1 488.0,609.6 488.5,609.2 489.0,609.8 489.5,610.2 490.0,610.3 490.5,609.8 491.0,610.2 491.5,610.6 492.0,610.7 492.5,610.7 493.0,610.7 493.5,610.7 494.0,610.6 494.5,610.7 495.0,610.5 495.5,610.0 496.0,609.4 496.5,609.2 497.0,609.9 497.5,610.4 498.0,610.7 498.5,610.7 499.0,610.7 499.5,610.5 500.0,610.2 500.5,610.2 501.0,610.5 501.5,610.5 502.0,610.2 502.5,609.8 503.0,609.6 503.5,608.8 504.0,607.6 504.5,607.5 505.0,608.7 505.5,609.6 506.0,609.2 506.5,610.1 507.0,610.6 507.5,610.7 508.0,610.6 508.5,610.5 509.0,610.7 509.5,610.7 510.0,610.7 510.5,610.7 511.0,610.5 511.5,610.2 512.0,609.8 512.5,609.3 513.0,608.9 513.5,609.6 514.0,610.0 514.5,610.4 515.0,610.6 515.5,610.7 516.0,610.7 516.5,610.7 517.0,610.7 517.5,610.6 518.0,610.6 518.5,610.7 519.0,610.5 519.5,610.2 520.0,609.8 520.5,609.3 521.0,609.8 521.5,610.2 522.0,609.8 522.5,609.3 523.0,610.0 523.5,610.5 524.0,610.7 524.5,610.5 525.0,610.1 525.5,609.6 526.0,610.0 526.5,610.4 527.0,610.7 527.5,610.7 528.0,610.4 528.5,610.7 529.0,610.7 529.5,610.6 530.0,610.2 530.5,610.0 531.0,610.5 531.5,610.2 532.0,609.8 532.5,609.8 533.0,610.2 533.5,610.2 534.0,610.5 534.5,610.7 535.0,610.5 535.5,610.2 536.0,609.8 536.5,609.8 537.0,610.1 537.5,609.9 538.0,609.6 538.5,610.3 539.0,610.3 539.5,609.9 540.0,608.9 540.5,608.9 541.0,608.9 541.5,608.7 542.0,607.9 542.5,606.7 543.0,607.4 543.5,606.9 544.0,605.7 544.5,607.5 545.0,608.7 545.5,608.5 546.0,608.9 546.5,608.9 547.0,608.9 547.5,608.9 548.0,608.4 548.5,607.4 549.0,606.0 549.5,606.9 550.0,607.3 550.5,605.6 551.0,607.6 551.5,608.8 552.0,608.0 552.5,606.8 553.0,605.0 553.5,602.6 554.0,599.3 554.5,599.0 555.0,602.4 555.5,604.9 556.0,606.7 556.5,607.3 557.0,605.6 557.5,606.6 558.0,607.9 558.5,608.9 559.0,609.3 559.5,609.3 560.0,609.3 560.5,609.3 561.0,608.9 561.5,607.4 562.0,605.0 562.5,606.5 563.0,608.0 563.5,607.1 564.0,605.9 564.5,604.3 565.0,605.3 565.5,606.7 566.0,607.7 566.5,608.2 567.0,608.1 567.5,609.0 568.0,608.3 568.5,607.5 569.0,608.4 569.5,608.5 570.0,606.7 570.5,603.9 571.0,604.8 571.5,607.3 572.0,608.9 572.5,608.6 573.0,607.5 573.5,605.9 574.0,606.8 574.5,608.1 575.0,607.6 575.5,606.9 576.0,607.3 576.5,606.1 577.0,604.5 577.5,603.1 578.0,605.0 578.5,606.5 579.0,607.6 579.5,608.2 580.0,609.1 580.5,609.3 581.0,609.3 581.5,608.3 582.0,606.3 582.5,603.6 583.0,606.8 583.5,608.6 584.0,609.3 584.5,609.3 585.0,609.3 585.5,609.3 586.0,609.3 586.5,609.3 587.0,609.3 587.5,608.6 588.0,608.9 588.5,609.3 589.0,609.3 589.5,609.3 590.0,609.3 590.5,609.3 591.0,609.1 591.5,608.4 592.0,608.2 592.5,609.0 593.0,609.3 593.5,609.3 594.0,609.3 594.5,609.3 595.0,609.3 595.5,609.3 596.0,609.1 596.5,608.4 597.0,607.5 597.5,608.3 598.0,608.4 598.5,608.3 599.0,609.2 599.5,608.9 600.0,608.1 600.5,607.1 601.0,605.6 601.5,604.3 602.0,606.1 602.5,607.4 603.0,608.4 603.5,608.2 604.0,607.1 604.5,607.4 605.0,608.4 605.5,609.2 606.0,609.7 606.5,610.1 607.0,610.4 607.5,610.7 608.0,610.7 608.5,610.7 609.0,610.7 609.5,610.7 610.0,610.7 610.5,610.7 611.0,610.7 611.5,610.6 612.0,610.4 612.5,610.1 613.0,609.9 613.5,610.2 614.0,610.5 614.5,610.7 615.0,610.7 615.5,610.7 616.0,610.7 616.5,610.7 617.0,610.7 617.5,610.7 618.0,610.7 618.5,610.7 619.0,610.7 619.5,610.7 620.0,610.7 620.5,610.7 621.0,610.7 621.5,610.7 622.0,610.7 622.5,610.7 623.0,610.7 623.5,610.7 624.0,610.7 624.5,610.6 625.0,610.7 625.5,610.7 626.0,610.6 626.5,610.5 627.0,610.7 627.5,610.7 628.0,610.7 628.5,610.7 629.0,610.5 629.5,610.0 630.0,610.5 630.5,610.4 631.0,610.1 631.5,610.6 632.0,610.7 632.5,610.5 633.0,610.2 633.5,609.7 634.0,609.0 634.5,608.7 635.0,609.5 635.5,610.1 636.0,610.3 636.5,609.8 637.0,609.4 637.5,610.0 638.0,610.3 638.5,609.9 639.0,609.4 639.5,609.0 640.0,609.7 640.5,610.1 641.0,610.4 641.5,610.7 642.0,610.5 642.5,610.2 643.0,609.8 643.5,609.3 644.0,609.7 644.5,609.3 645.0,608.8 645.5,609.4 646.0,609.8 646.5,609.6 647.0,608.8 647.5,609.6 648.0,610.1 648.5,609.8 649.0,609.3 649.5,608.8 650.0,609.4 650.5,609.8 651.0,610.1 651.5,610.4 652.0,610.6 652.5,610.5 653.0,610.5 653.5,609.9 654.0,609.0 654.5,609.9 655.0,610.5 655.5,610.7 656.0,610.7 656.5,610.7 657.0,610.7 657.5,610.7 658.0,610.7 658.5,610.5 659.0,610.2 659.5,609.8 660.0,609.8 660.5,610.3 661.0,610.1 661.5,609.6 662.0,609.6 662.5,610.1 663.0,610.4 663.5,610.6 664.0,610.7 664.5,610.7 665.0,610.7 665.5,610.7 666.0,610.7 666.5,610.7 667.0,610.5 667.5,610.3 668.0,610.0 668.5,610.0 669.0,610.2 669.5,609.4 670.0,609.0 670.5,610.0 671.0,610.5 671.5,610.6 672.0,610.3 672.5,609.8 673.0,609.1 673.5,608.0 674.0,608.5 674.5,609.5 675.0,610.1 675.5,610.1 676.0,610.4 676.5,610.7 677.0,610.7 677.5,610.7 678.0,610.7 678.5,610.7 679.0,610.7 679.5,610.7 680.0,610.7 680.5,610.7 681.0,610.6 681.5,610.4 682.0,610.1 682.5,610.2 683.0,609.9 683.5,609.5 684.0,609.0 684.5,609.3 685.0,609.8 685.5,610.1 686.0,610.4 686.5,610.6 687.0,610.7 687.5,610.7 688.0,610.7 688.5,610.7 689.0,610.7 689.5,610.7 690.0,610.6 690.5,610.5 691.0,610.7 691.5,610.7 692.0,610.7 692.5,610.7 693.0,610.7 693.5,610.7 694.0,610.7 694.5,610.7 695.0,610.5 695.5,610.1 696.0,609.7 696.5,609.6 697.0,610.1 697.5,610.4 698.0,610.5 698.5,610.7 699.0,610.7 699.5,610.5 700.0,610.1 700.5,609.6 701.0,608.8 701.5,609.5 702.0,610.1 702.5,610.5 703.0,610.7 703.5,610.7 704.0,610.5 704.5,610.2 705.0,609.6 705.5,608.8 706.0,609.4 706.5,610.0 707.0,610.5 707.5,610.7 708.0,610.7 708.5,610.7 709.0,610.7 709.5,610.7 710.0,610.7 710.5,610.7 711.0,610.7 711.5,610.7 712.0,610.7 712.5,610.7 713.0,610.7 713.5,610.7 714.0,610.7 714.5,610.7 715.0,610.7 715.5,610.7 716.0,610.7 716.0,611.3"/><polygon points="92.60,611.30 93.70,608.72 94.55,604.85 95.15,600.33 95.40,598.40 96.00,598.40 96.25,600.33 96.85,604.85 97.70,608.72 98.80,611.30"/><polygon points="112.10,611.30 113.20,609.94 114.05,607.90 114.65,605.52 114.90,604.50 115.50,604.50 115.75,605.52 116.35,607.90 117.20,609.94 118.30,611.30"/><polygon points="117.70,611.30 118.80,590.04 119.35,558.15 119.65,515.63 119.90,505.00 120.50,505.00 120.75,515.63 121.05,558.15 121.60,590.04 122.70,611.30"/><polygon points="139.40,611.30 140.50,609.44 141.35,606.65 141.95,603.39 142.20,602.00 142.80,602.00 143.05,603.39 143.65,606.65 144.50,609.44 145.60,611.30"/><polygon points="142.82,611.30 142.82,606.11 143.10,602.40 143.38,596.73 143.66,588.55 143.95,577.39 144.23,563.08 144.51,545.88 144.79,526.61 145.07,506.68 145.35,488.00 145.64,472.65 145.92,462.53 145.90,459.00 146.20,459.00 146.50,459.00 146.48,462.53 146.76,472.65 147.04,488.00 147.33,506.68 147.61,526.61 147.89,545.88 148.17,563.08 148.45,577.39 148.73,588.55 149.02,596.73 149.30,602.40 149.58,606.11 149.58,611.30"/><polygon points="151.60,611.30 152.70,610.54 153.55,609.40 154.15,608.07 154.40,607.50 155.00,607.50 155.25,608.07 155.85,609.40 156.70,610.54 157.80,611.30"/><polygon points="159.20,611.30 160.30,610.54 161.15,609.40 161.75,608.07 162.00,607.50 162.60,607.50 162.85,608.07 163.45,609.40 164.30,610.54 165.40,611.30"/><polygon points="174.40,611.30 175.50,609.50 176.35,606.80 176.95,603.65 177.20,602.30 177.80,602.30 178.05,603.65 178.65,606.80 179.50,609.50 180.60,611.30"/><polygon points="178.70,611.30 179.80,609.40 180.65,606.55 181.25,603.22 181.50,601.80 182.10,601.80 182.35,603.22 182.95,606.55 183.80,609.40 184.90,611.30"/><polygon points="189.50,611.30 190.60,609.88 191.45,607.75 192.05,605.26 192.30,604.20 192.90,604.20 193.15,605.26 193.75,607.75 194.60,609.88 195.70,611.30"/><polygon points="191.40,611.30 192.50,609.78 193.35,607.50 193.95,604.84 194.20,603.70 194.80,603.70 195.05,604.84 195.65,607.50 196.50,609.78 197.60,611.30"/><polygon points="197.10,611.30 198.20,608.52 199.05,604.35 199.65,599.49 199.90,597.40 200.50,597.40 200.75,599.49 201.35,604.35 202.20,608.52 203.30,611.30"/><polygon points="209.40,611.30 210.50,610.16 211.35,608.45 211.95,606.46 212.20,605.60 212.80,605.60 213.05,606.46 213.65,608.45 214.50,610.16 215.60,611.30"/><polygon points="225.50,611.30 226.60,607.88 227.45,602.75 228.05,596.76 228.30,594.20 228.90,594.20 229.15,596.76 229.75,602.75 230.60,607.88 231.70,611.30"/><polygon points="245.40,611.30 246.50,610.42 247.35,609.10 247.95,607.56 248.20,606.90 248.80,606.90 249.05,607.56 249.65,609.10 250.50,610.42 251.60,611.30"/><polygon points="268.10,611.30 269.20,606.64 270.05,599.65 270.65,591.50 270.90,588.00 271.50,588.00 271.75,591.50 272.35,599.65 273.20,606.64 274.30,611.30"/><polygon points="287.10,611.30 288.20,609.96 289.05,607.95 289.65,605.61 289.90,604.60 290.50,604.60 290.75,605.61 291.35,607.95 292.20,609.96 293.30,611.30"/><polygon points="301.50,611.30 302.60,607.44 303.45,601.65 304.05,594.89 304.30,592.00 304.90,592.00 305.15,594.89 305.75,601.65 306.60,607.44 307.70,611.30"/><polygon points="314.50,611.30 315.60,606.44 316.45,599.15 317.05,590.64 317.30,587.00 317.90,587.00 318.15,590.64 318.75,599.15 319.60,606.44 320.70,611.30"/><polygon points="319.40,611.30 320.50,594.78 321.35,570.00 321.95,541.09 322.20,528.70 322.80,528.70 323.05,541.09 323.65,570.00 324.50,594.78 325.60,611.30"/><polygon points="325.20,611.30 326.30,602.58 327.15,589.50 327.75,574.24 328.00,567.70 328.60,567.70 328.85,574.24 329.45,589.50 330.30,602.58 331.40,611.30"/><polygon points="332.40,611.30 333.50,606.14 334.35,598.40 334.95,589.37 335.20,585.50 335.80,585.50 336.05,589.37 336.65,598.40 337.50,606.14 338.60,611.30"/><polygon points="338.90,611.30 340.00,605.84 340.85,597.65 341.45,588.10 341.70,584.00 342.30,584.00 342.55,588.10 343.15,597.65 344.00,605.84 345.10,611.30"/><polygon points="343.70,611.30 344.80,606.44 345.65,599.15 346.25,590.64 346.50,587.00 347.10,587.00 347.35,590.64 347.95,599.15 348.80,606.44 349.90,611.30"/><polygon points="350.20,611.30 351.30,605.84 352.15,597.65 352.75,588.10 353.00,584.00 353.60,584.00 353.85,588.10 354.45,597.65 355.30,605.84 356.40,611.30"/><polygon points="357.70,611.30 358.80,602.44 359.65,589.15 360.25,573.64 360.50,567.00 361.10,567.00 361.35,573.64 361.95,589.15 362.80,602.44 363.90,611.30"/><polygon points="368.10,611.30 369.20,607.44 370.05,601.65 370.65,594.89 370.90,592.00 371.50,592.00 371.75,594.89 372.35,601.65 373.20,607.44 374.30,611.30"/><polygon points="376.20,611.30 377.30,608.74 378.15,604.90 378.75,600.42 379.00,598.50 379.60,598.50 379.85,600.42 380.45,604.90 381.30,608.74 382.40,611.30"/><polygon points="385.90,611.30 387.00,608.44 387.85,604.15 388.45,599.14 388.70,597.00 389.30,597.00 389.55,599.14 390.15,604.15 391.00,608.44 392.10,611.30"/><polygon points="390.80,611.30 391.90,608.10 392.75,603.30 393.35,597.70 393.60,595.30 394.20,595.30 394.45,597.70 395.05,603.30 395.90,608.10 397.00,611.30"/><polygon points="406.90,611.30 408.00,606.44 408.85,599.15 409.45,590.64 409.70,587.00 410.30,587.00 410.55,590.64 411.15,599.15 412.00,606.44 413.10,611.30"/><polygon points="419.90,611.30 421.00,608.10 421.85,603.30 422.45,597.70 422.70,595.30 423.30,595.30 423.55,597.70 424.15,603.30 425.00,608.10 426.10,611.30"/><polygon points="435.60,611.30 436.70,610.14 437.55,608.40 438.15,606.37 438.40,605.50 439.00,605.50 439.25,606.37 439.85,608.40 440.70,610.14 441.80,611.30"/><polygon points="469.10,611.30 470.20,609.62 471.05,607.10 471.65,604.16 471.90,602.90 472.50,602.90 472.75,604.16 473.35,607.10 474.20,609.62 475.30,611.30"/><polygon points="484.50,611.30 485.60,610.44 486.45,609.15 487.05,607.64 487.30,607.00 487.90,607.00 488.15,607.64 488.75,609.15 489.60,610.44 490.70,611.30"/><polygon points="496.20,611.30 497.30,610.48 498.15,609.25 498.75,607.82 499.00,607.20 499.60,607.20 499.85,607.82 500.45,609.25 501.30,610.48 502.40,611.30"/><polygon points="524.70,611.30 525.80,610.68 526.65,609.75 527.25,608.67 527.50,608.20 528.10,608.20 528.35,608.67 528.95,609.75 529.80,610.68 530.90,611.30"/><polygon points="540.26,611.30 540.26,610.96 540.78,610.72 541.30,610.35 541.82,609.82 542.34,609.10 542.86,608.17 543.38,607.05 543.90,605.79 544.42,604.50 544.94,603.29 545.46,602.29 545.98,601.63 546.20,601.40 546.50,601.40 546.80,601.40 547.02,601.63 547.54,602.29 548.06,603.29 548.58,604.50 549.10,605.79 549.62,607.05 550.14,608.17 550.66,609.10 551.18,609.82 551.70,610.35 552.22,610.72 552.74,610.96 552.74,611.30"/><polygon points="563.30,611.30 564.40,606.98 565.25,600.50 565.85,592.94 566.10,589.70 566.70,589.70 566.95,592.94 567.55,600.50 568.40,606.98 569.50,611.30"/><polygon points="565.20,611.30 566.30,608.34 567.15,603.90 567.75,598.72 568.00,596.50 568.60,596.50 568.85,598.72 569.45,603.90 570.30,608.34 571.40,611.30"/><polygon points="568.50,611.30 569.60,606.00 570.45,598.05 571.05,588.77 571.30,584.80 571.90,584.80 572.15,588.77 572.75,598.05 573.60,606.00 574.70,611.30"/><polygon points="573.40,611.30 574.50,609.32 575.35,606.35 575.95,602.88 576.20,601.40 576.80,601.40 577.05,602.88 577.65,606.35 578.50,609.32 579.60,611.30"/><polygon points="574.50,611.30 575.60,608.18 576.45,603.50 577.05,598.04 577.30,595.70 577.90,595.70 578.15,598.04 578.75,603.50 579.60,608.18 580.70,611.30"/><polygon points="587.00,611.30 588.10,608.74 588.95,604.90 589.55,600.42 589.80,598.50 590.40,598.50 590.65,600.42 591.25,604.90 592.10,608.74 593.20,611.30"/><polygon points="588.50,611.30 589.60,607.32 590.45,601.35 591.05,594.38 591.30,591.40 591.90,591.40 592.15,594.38 592.75,601.35 593.60,607.32 594.70,611.30"/><polygon points="599.40,611.30 600.50,609.48 601.35,606.75 601.95,603.57 602.20,602.20 602.80,602.20 603.05,603.57 603.65,606.75 604.50,609.48 605.60,611.30"/><polygon points="626.90,611.30 628.00,610.68 628.85,609.75 629.45,608.67 629.70,608.20 630.30,608.20 630.55,608.67 631.15,609.75 632.00,610.68 633.10,611.30"/><polygon points="643.70,611.30 644.80,609.92 645.65,607.85 646.25,605.43 646.50,604.40 647.10,604.40 647.35,605.43 647.95,607.85 648.80,609.92 649.90,611.30"/><polygon points="656.90,611.30 658.00,609.92 658.85,607.85 659.45,605.43 659.70,604.40 660.30,604.40 660.55,605.43 661.15,607.85 662.00,609.92 663.10,611.30"/><polygon points="672.50,611.30 673.60,610.14 674.45,608.40 675.05,606.37 675.30,605.50 675.90,605.50 676.15,606.37 676.75,608.40 677.60,610.14 678.70,611.30"/><polygon points="681.60,611.30 682.70,610.64 683.55,609.65 684.15,608.50 684.40,608.00 685.00,608.00 685.25,608.50 685.85,609.65 686.70,610.64 687.80,611.30"/><polygon points="712.90,611.30 714.00,610.56 714.85,609.45 715.45,608.15 715.70,607.60 716.30,607.60 716.55,608.15 717.15,609.45 718.00,610.56 719.10,611.30"/></g>
<line x1="66.5" y1="634.2" x2="720" y2="634.2" stroke="#00ff00" stroke-opacity="0.4" stroke-width="0.9"/>
<g fill="#00ff00"><polygon points="81.0,634.2 81.0,630.0 81.5,631.0 82.0,631.7 82.5,632.3 83.0,632.7 83.5,633.0 84.0,633.0 84.5,633.0 85.0,632.6 85.5,632.1 86.0,632.0 86.5,632.5 87.0,632.9 87.5,633.0 88.0,633.0 88.5,633.0 89.0,633.0 89.5,632.4 90.0,631.6 90.5,632.5 91.0,633.0 91.5,633.0 92.0,633.0 92.5,633.0 93.0,633.0 93.5,633.0 94.0,633.0 94.5,633.0 95.0,633.0 95.5,633.0 96.0,632.8 96.5,632.3 97.0,631.6 97.5,630.5 98.0,629.1 98.5,630.3 99.0,631.4 99.5,631.6 100.0,630.8 100.5,629.9 101.0,630.9 101.5,631.6 102.0,632.2 102.5,632.7 103.0,633.0 103.5,633.0 104.0,633.0 104.5,632.8 105.0,632.4 105.5,631.9 106.0,632.5 106.5,632.9 107.0,633.0 107.5,633.0 108.0,633.0 108.5,633.0 109.0,633.0 109.5,632.9 110.0,632.5 110.5,632.0 111.0,631.1 111.5,631.6 112.0,632.2 112.5,631.3 113.0,630.1 113.5,630.8 114.0,631.3 114.5,629.7 115.0,631.2 115.5,632.3 116.0,633.0 116.5,633.0 117.0,633.0 117.5,633.0 118.0,633.0 118.5,632.9 119.0,632.4 119.5,632.3 120.0,632.8 120.5,633.0 121.0,633.0 121.5,633.0 122.0,633.0 122.5,633.0 123.0,633.0 123.5,633.0 124.0,633.0 124.5,633.0 125.0,633.0 125.5,633.0 126.0,633.0 126.5,633.0 127.0,633.0 127.5,632.7 128.0,632.1 128.5,632.1 129.0,632.7 129.5,632.6 130.0,632.1 130.5,631.4 131.0,630.6 131.5,631.5 132.0,632.1 132.5,632.6 133.0,633.0 133.5,632.6 134.0,632.0 134.5,631.2 135.0,630.2 135.5,629.3 136.0,630.5 136.5,631.5 137.0,631.5 137.5,631.2 138.0,632.0 138.5,632.6 139.0,633.0 139.5,633.0 140.0,633.0 140.5,633.0 141.0,633.0 141.5,633.0 142.0,632.8 142.5,633.0 143.0,632.4 143.5,631.3 144.0,629.6 144.5,630.5 145.0,631.9 145.5,632.8 146.0,633.0 146.5,633.0 147.0,633.0 147.5,633.0 148.0,632.5 148.5,631.7 149.0,630.7 149.5,630.4 150.0,631.5 150.5,632.3 151.0,632.4 151.5,632.6 152.0,633.0 152.5,633.0 153.0,633.0 153.5,633.0 154.0,633.0 154.5,633.0 155.0,632.8 155.5,632.4 156.0,631.9 156.5,631.2 157.0,630.2 157.5,629.0 158.0,627.4 158.5,628.7 159.0,630.0 159.5,631.0 160.0,631.7 160.5,631.4 161.0,632.0 161.5,632.5 162.0,632.9 162.5,633.0 163.0,633.0 163.5,632.9 164.0,633.0 164.5,633.0 165.0,633.0 165.5,632.9 166.0,632.9 166.5,632.8 167.0,632.2 167.5,631.3 168.0,630.8 168.5,631.9 169.0,632.6 169.5,632.8 170.0,632.8 170.5,632.3 171.0,631.5 171.5,630.4 172.0,630.6 172.5,631.1 173.0,629.6 173.5,627.5 174.0,627.4 174.5,629.5 175.0,631.0 175.5,632.0 176.0,631.7 176.5,631.0 177.0,630.5 177.5,631.0 178.0,629.8 178.5,628.2 179.0,629.2 179.5,630.6 180.0,631.6 180.5,631.4 181.0,632.1 181.5,632.6 182.0,633.0 182.5,632.6 183.0,633.0 183.5,633.0 184.0,633.0 184.5,633.0 185.0,633.0 185.5,633.0 186.0,633.0 186.5,633.0 187.0,633.0 187.5,633.0 188.0,633.0 188.5,633.0 189.0,633.0 189.5,633.0 190.0,633.0 190.5,633.0 191.0,633.0 191.5,633.0 192.0,633.0 192.5,633.0 193.0,633.0 193.5,632.6 194.0,632.4 194.5,633.0 195.0,633.0 195.5,633.0 196.0,633.0 196.5,632.9 197.0,632.5 197.5,632.0 198.0,631.3 198.5,630.5 199.0,629.4 199.5,629.5 200.0,630.6 200.5,631.4 201.0,632.1 201.5,632.6 202.0,632.3 202.5,632.5 203.0,632.9 203.5,633.0 204.0,633.0 204.5,633.0 205.0,633.0 205.5,633.0 206.0,633.0 206.5,633.0 207.0,633.0 207.5,632.8 208.0,631.8 208.5,632.2 209.0,632.5 209.5,631.8 210.0,630.9 210.5,629.7 211.0,629.8 211.5,631.0 212.0,631.8 212.5,630.8 213.0,629.6 213.5,631.0 214.0,632.0 214.5,632.1 215.0,632.6 215.5,633.0 216.0,633.0 216.5,633.0 217.0,633.0 217.5,633.0 218.0,633.0 218.5,633.0 219.0,633.0 219.5,632.9 220.0,632.5 220.5,632.0 221.0,632.0 221.5,632.5 222.0,632.9 222.5,633.0 223.0,633.0 223.5,633.0 224.0,632.6 224.5,632.2 225.0,631.6 225.5,632.0 226.0,632.5 226.5,632.9 227.0,633.0 227.5,633.0 228.0,633.0 228.5,633.0 229.0,633.0 229.5,633.0 230.0,633.0 230.5,632.6 231.0,631.9 231.5,631.0 232.0,631.6 232.5,631.1 233.0,630.0 233.5,628.4 234.0,627.1 234.5,629.0 235.0,630.4 235.5,631.4 236.0,631.4 236.5,630.5 237.0,629.4 237.5,627.8 238.0,626.9 238.5,628.7 239.0,630.0 239.5,631.1 240.0,629.7 240.5,630.0 241.0,631.6 241.5,630.8 242.0,630.8 242.5,631.6 243.0,632.2 243.5,631.8 244.0,631.7 244.5,632.5 245.0,633.0 245.5,633.0 246.0,632.6 246.5,632.1 247.0,632.2 247.5,632.2 248.0,631.5 248.5,632.1 249.0,632.6 249.5,633.0 250.0,633.0 250.5,633.0 251.0,632.6 251.5,632.2 252.0,631.5 252.5,630.7 253.0,631.1 253.5,631.8 254.0,632.4 254.5,632.8 255.0,632.9 255.5,632.3 256.0,631.5 256.5,630.8 257.0,631.8 257.5,632.5 258.0,633.0 258.5,632.9 259.0,632.4 259.5,631.7 260.0,630.8 260.5,630.1 261.0,630.8 261.5,629.6 262.0,630.2 262.5,631.2 263.0,632.0 263.5,632.5 264.0,633.0 264.5,633.0 265.0,633.0 265.5,633.0 266.0,632.6 266.5,632.6 267.0,633.0 267.5,633.0 268.0,633.0 268.5,633.0 269.0,633.0 269.5,633.0 270.0,633.0 270.5,633.0 271.0,633.0 271.5,633.0 272.0,632.6 272.5,632.0 273.0,631.2 273.5,630.0 274.0,628.4 274.5,626.2 275.0,627.1 275.5,629.1 276.0,630.5 276.5,631.5 277.0,632.3 277.5,632.8 278.0,633.0 278.5,633.0 279.0,633.0 279.5,632.9 280.0,632.8 280.5,632.3 281.0,632.1 281.5,632.6 282.0,633.0 282.5,633.0 283.0,633.0 283.5,632.7 284.0,632.2 284.5,631.5 285.0,632.1 285.5,632.6 286.0,633.0 286.5,633.0 287.0,632.7 287.5,632.2 288.0,631.4 288.5,630.4 289.0,629.0 289.5,627.1 290.0,624.4 290.5,622.4 291.0,624.9 291.5,620.9 292.0,618.2 292.5,623.0 293.0,626.3 293.5,628.7 294.0,630.3 294.5,630.0 295.0,631.4 295.5,631.0 296.0,629.7 296.5,627.9 297.0,625.4 297.5,624.3 298.0,627.1 298.5,629.1 299.0,630.6 299.5,631.4 300.0,630.4 300.5,631.4 301.0,630.7 301.5,629.7 302.0,628.4 302.5,626.7 303.0,624.5 303.5,626.4 304.0,628.2 304.5,629.5 305.0,630.6 305.5,631.4 306.0,631.4 306.5,631.4 307.0,631.3 307.5,630.8 308.0,631.4 308.5,630.9 309.0,629.8 309.5,628.4 310.0,626.6 310.5,624.2 311.0,621.0 311.5,622.4 312.0,625.2 312.5,627.4 313.0,625.4 313.5,622.6 314.0,626.3 314.5,628.9 315.0,630.6 315.5,631.4 316.0,631.4 316.5,630.5 317.0,629.0 317.5,626.7 318.0,623.5 318.5,623.0 319.0,626.4 319.5,628.7 320.0,627.6 320.5,628.2 321.0,629.6 321.5,629.3 322.0,626.4 322.5,625.9 323.0,627.8 323.5,625.8 324.0,623.3 324.5,620.0 325.0,618.3 325.5,622.0 326.0,624.8 326.5,626.6 327.0,623.5 327.5,625.3 328.0,627.9 328.5,629.7 329.0,631.0 329.5,631.4 330.0,631.4 330.5,631.4 331.0,631.4 331.5,631.4 332.0,631.4 332.5,630.1 333.0,631.4 333.5,631.4 334.0,631.4 334.5,631.4 335.0,631.4 335.5,631.4 336.0,631.4 336.5,631.4 337.0,631.4 337.5,631.4 338.0,631.4 338.5,631.4 339.0,631.4 339.5,631.3 340.0,630.4 340.5,631.3 341.0,631.4 341.5,631.4 342.0,631.4 342.5,631.4 343.0,631.4 343.5,631.4 344.0,631.4 344.5,631.4 345.0,631.4 345.5,631.1 346.0,631.3 346.5,631.2 347.0,630.0 347.5,628.4 348.0,626.1 348.5,624.1 349.0,627.0 349.5,625.8 350.0,622.4 350.5,619.8 351.0,624.0 351.5,626.9 352.0,624.5 352.5,623.7 353.0,626.3 353.5,628.3 354.0,629.7 354.5,628.3 355.0,626.0 355.5,622.7 356.0,618.2 356.5,622.8 357.0,626.1 357.5,628.4 358.0,629.3 358.5,626.9 359.0,623.4 359.5,625.1 360.0,628.0 360.5,628.3 361.0,628.7 361.5,630.2 362.0,631.3 362.5,632.1 363.0,632.5 363.5,631.9 364.0,631.2 364.5,630.3 365.0,629.3 365.5,630.5 366.0,631.4 366.5,630.6 367.0,629.5 367.5,628.0 368.0,628.3 368.5,629.7 369.0,630.8 369.5,631.6 370.0,632.2 370.5,632.6 371.0,632.6 371.5,631.9 372.0,631.4 372.5,632.2 373.0,632.6 373.5,632.6 374.0,632.6 374.5,632.6 375.0,632.6 375.5,632.6 376.0,632.6 376.5,632.4 377.0,631.8 377.5,631.7 378.0,632.3 378.5,632.6 379.0,632.6 379.5,632.6 380.0,632.2 380.5,632.3 381.0,631.7 381.5,630.3 382.0,631.6 382.5,630.8 383.0,630.7 383.5,631.5 384.0,632.1 384.5,632.6 385.0,632.2 385.5,632.6 386.0,632.6 386.5,632.6 387.0,632.6 387.5,632.6 388.0,632.6 388.5,632.6 389.0,632.6 389.5,632.6 390.0,632.6 390.5,632.6 391.0,632.1 391.5,631.9 392.0,631.7 392.5,630.5 393.0,628.8 393.5,626.2 394.0,623.1 394.5,626.6 395.0,629.0 395.5,630.6 396.0,631.5 396.5,630.8 397.0,629.8 397.5,628.6 398.0,628.7 398.5,629.9 399.0,630.9 399.5,631.6 400.0,632.2 400.5,632.2 401.0,630.7 401.5,628.0 402.0,630.4 402.5,632.0 403.0,632.0 403.5,630.7 404.0,631.4 404.5,632.5 405.0,632.6 405.5,632.6 406.0,632.4 406.5,632.6 407.0,631.9 407.5,632.0 408.0,631.9 408.5,631.2 409.0,631.7 409.5,632.3 410.0,632.6 410.5,632.6 411.0,632.6 411.5,632.6 412.0,632.6 412.5,632.6 413.0,632.6 413.5,632.6 414.0,632.3 414.5,631.0 415.0,632.3 415.5,632.5 416.0,632.2 416.5,632.6 417.0,632.6 417.5,632.6 418.0,632.6 418.5,632.0 419.0,632.3 419.5,632.6 420.0,633.1 420.5,632.6 421.0,631.9 421.5,632.0 422.0,632.7 422.5,633.2 423.0,633.0 423.5,633.1 424.0,633.5 424.5,633.6 425.0,633.6 425.5,633.5 426.0,633.6 426.5,633.6 427.0,633.6 427.5,633.6 428.0,633.6 428.5,633.5 429.0,633.6 429.5,633.6 430.0,633.6 430.5,633.3 431.0,632.8 431.5,632.0 432.0,632.8 432.5,633.3 433.0,633.6 433.5,633.4 434.0,633.1 434.5,632.8 435.0,632.3 435.5,632.7 436.0,633.1 436.5,633.4 437.0,633.6 437.5,633.6 438.0,633.6 438.5,633.6 439.0,633.3 439.5,632.8 440.0,633.0 440.5,633.4 441.0,633.6 441.5,633.5 442.0,633.6 442.5,633.6 443.0,633.6 443.5,633.6 444.0,633.6 444.5,633.6 445.0,633.6 445.5,633.6 446.0,633.6 446.5,633.6 447.0,633.6 447.5,633.5 448.0,633.1 448.5,632.7 449.0,632.0 449.5,632.1 450.0,632.7 450.5,632.6 451.0,632.4 451.5,632.9 452.0,633.3 452.5,633.3 453.0,633.0 453.5,632.6 454.0,632.5 454.5,632.9 455.0,633.2 455.5,633.5 456.0,633.6 456.5,633.6 457.0,633.6 457.5,633.6 458.0,633.6 458.5,633.3 459.0,633.0 459.5,632.5 460.0,632.2 460.5,632.8 461.0,633.2 461.5,633.5 462.0,633.6 462.5,633.6 463.0,633.4 463.5,633.0 464.0,632.5 464.5,631.8 465.0,631.9 465.5,632.6 466.0,633.0 466.5,633.0 467.0,632.3 467.5,632.1 468.0,632.9 468.5,633.0 469.0,632.5 469.5,632.9 470.0,633.3 470.5,633.6 471.0,633.6 471.5,633.6 472.0,633.6 472.5,633.6 473.0,633.6 473.5,633.6 474.0,633.4 474.5,633.2 475.0,633.0 475.5,633.3 476.0,633.5 476.5,633.6 477.0,633.6 477.5,633.3 478.0,633.3 478.5,633.5 479.0,633.3 479.5,632.8 480.0,633.1 480.5,633.4 481.0,633.6 481.5,633.6 482.0,633.4 482.5,633.1 483.0,632.5 483.5,632.2 484.0,631.4 484.5,630.5 485.0,631.4 485.5,632.1 486.0,632.7 486.5,632.9 487.0,632.5 487.5,632.5 488.0,633.0 488.5,633.3 489.0,633.5 489.5,633.6 490.0,633.4 490.5,632.8 491.0,631.8 491.5,630.9 492.0,632.3 492.5,633.1 493.0,633.0 493.5,633.3 494.0,633.5 494.5,633.5 495.0,633.2 495.5,633.0 496.0,633.3 496.5,633.6 497.0,633.6 497.5,633.6 498.0,633.6 498.5,633.6 499.0,633.6 499.5,633.5 500.0,633.6 500.5,633.6 501.0,633.6 501.5,633.1 502.0,632.5 502.5,632.6 503.0,633.2 503.5,633.6 504.0,633.6 504.5,633.6 505.0,633.6 505.5,633.6 506.0,633.6 506.5,633.6 507.0,633.5 507.5,633.6 508.0,633.6 508.5,633.5 509.0,633.2 509.5,632.9 510.0,632.7 510.5,633.1 511.0,633.4 511.5,633.2 512.0,632.8 512.5,632.3 513.0,632.5 513.5,632.9 514.0,632.6 514.5,632.0 515.0,631.2 515.5,630.4 516.0,631.4 516.5,632.2 517.0,632.7 517.5,633.1 518.0,633.4 518.5,633.4 519.0,633.6 519.5,633.6 520.0,633.6 520.5,633.4 521.0,633.5 521.5,633.6 522.0,633.6 522.5,633.5 523.0,633.4 523.5,633.3 524.0,633.0 524.5,633.2 525.0,633.5 525.5,633.6 526.0,633.5 526.5,633.3 527.0,633.0 527.5,633.0 528.0,633.3 528.5,633.5 529.0,633.3 529.5,632.9 530.0,632.2 530.5,632.5 531.0,633.1 531.5,633.2 532.0,632.7 532.5,632.1 533.0,632.6 533.5,632.1 534.0,632.0 534.5,632.6 535.0,632.6 535.5,633.0 536.0,633.4 536.5,633.6 537.0,633.6 537.5,633.6 538.0,633.6 538.5,633.6 539.0,633.6 539.5,633.6 540.0,633.6 540.5,633.6 541.0,633.5 541.5,633.3 542.0,633.0 542.5,632.6 543.0,632.1 543.5,632.1 544.0,632.6 544.5,633.0 545.0,633.0 545.5,632.4 546.0,631.3 546.5,629.8 547.0,631.4 547.5,632.4 548.0,633.1 548.5,633.5 549.0,633.6 549.5,633.6 550.0,632.8 550.5,632.8 551.0,631.9 551.5,630.5 552.0,631.7 552.5,632.2 553.0,631.6 553.5,631.4 554.0,632.1 554.5,632.6 555.0,632.8 555.5,632.8 556.0,632.8 556.5,632.4 557.0,632.1 557.5,632.6 558.0,632.8 558.5,632.5 559.0,631.6 559.5,631.4 560.0,632.4 560.5,632.8 561.0,632.8 561.5,632.4 562.0,631.3 562.5,631.9 563.0,632.8 563.5,632.8 564.0,632.5 564.5,631.8 565.0,630.7 565.5,631.4 566.0,630.6 566.5,629.4 567.0,627.6 567.5,625.2 568.0,625.9 568.5,628.1 569.0,629.0 569.5,627.5 570.0,625.5 570.5,626.6 571.0,628.3 571.5,629.6 572.0,630.6 572.5,629.5 573.0,627.9 573.5,625.6 574.0,626.0 574.5,628.1 575.0,629.7 575.5,630.9 576.0,631.7 576.5,632.3 577.0,631.7 577.5,630.8 578.0,630.7 578.5,631.5 579.0,632.2 579.5,632.7 580.0,631.9 580.5,631.1 581.0,632.4 581.5,632.8 582.0,632.8 582.5,632.6 583.0,631.8 583.5,631.7 584.0,632.6 584.5,632.8 585.0,633.5 585.5,633.7 586.0,633.7 586.5,633.7 587.0,633.5 587.5,633.2 588.0,633.0 588.5,633.3 589.0,633.6 589.5,633.7 590.0,633.7 590.5,633.7 591.0,633.7 591.5,633.7 592.0,633.5 592.5,633.3 593.0,633.6 593.5,633.6 594.0,633.2 594.5,632.8 595.0,632.3 595.5,632.9 596.0,633.3 596.5,633.6 597.0,633.7 597.5,633.7 598.0,633.7 598.5,633.7 599.0,633.7 599.5,633.7 600.0,633.7 600.5,633.6 601.0,633.6 601.5,633.7 602.0,633.7 602.5,633.7 603.0,633.7 603.5,633.7 604.0,633.7 604.5,633.7 605.0,633.7 605.5,633.7 606.0,633.7 606.5,633.7 607.0,633.6 607.5,633.4 608.0,633.1 608.5,633.2 609.0,633.4 609.5,633.1 610.0,632.7 610.5,632.4 611.0,632.9 611.5,633.3 612.0,633.5 612.5,633.7 613.0,633.7 613.5,633.7 614.0,633.7 614.5,633.7 615.0,633.7 615.5,633.7 616.0,633.5 616.5,633.3 617.0,633.2 617.5,633.5 618.0,633.7 618.5,633.7 619.0,633.7 619.5,633.6 620.0,633.4 620.5,633.4 621.0,633.6 621.5,633.5 622.0,633.2 622.5,632.8 623.0,632.8 623.5,633.2 624.0,633.5 624.5,633.4 625.0,633.1 625.5,632.8 626.0,632.9 626.5,633.3 627.0,633.5 627.5,633.5 628.0,633.2 628.5,633.6 629.0,633.7 629.5,633.7 630.0,633.7 630.5,633.6 631.0,633.4 631.5,633.2 632.0,632.9 632.5,633.2 633.0,633.4 633.5,633.6 634.0,633.6 634.5,633.6 635.0,633.7 635.5,633.5 636.0,633.2 636.5,632.9 637.0,633.2 637.5,633.5 638.0,633.5 638.5,633.7 639.0,633.7 639.5,633.7 640.0,633.7 640.5,633.6 641.0,633.7 641.5,633.7 642.0,633.7 642.5,633.7 643.0,633.7 643.5,633.7 644.0,633.7 644.5,633.5 645.0,633.1 645.5,633.4 646.0,633.4 646.5,633.0 647.0,633.3 647.5,633.5 648.0,633.2 648.5,632.9 649.0,632.4 649.5,631.8 650.0,631.0 650.5,631.4 651.0,632.1 651.5,632.7 652.0,632.5 652.5,631.8 653.0,632.1 653.5,632.8 654.0,633.2 654.5,633.5 655.0,633.5 655.5,633.2 656.0,632.9 656.5,632.4 657.0,632.3 657.5,632.8 658.0,633.0 658.5,632.6 659.0,633.2 659.5,633.5 660.0,633.7 660.5,633.7 661.0,633.7 661.5,633.6 662.0,633.4 662.5,633.6 663.0,633.7 663.5,633.7 664.0,633.7 664.5,633.7 665.0,633.7 665.5,633.7 666.0,633.5 666.5,633.5 667.0,633.6 667.5,633.4 668.0,633.1 668.5,633.1 669.0,633.4 669.5,633.4 670.0,632.8 670.5,632.0 671.0,631.6 671.5,632.6 672.0,633.2 672.5,633.3 673.0,632.8 673.5,632.7 674.0,633.2 674.5,633.5 675.0,633.6 675.5,633.4 676.0,633.1 676.5,633.2 677.0,633.4 677.5,633.6 678.0,633.4 678.5,633.7 679.0,633.7 679.5,633.7 680.0,633.7 680.5,633.7 681.0,633.7 681.5,633.7 682.0,633.5 682.5,633.3 683.0,632.9 683.5,632.5 684.0,631.9 684.5,631.1 685.0,631.6 685.5,632.3 686.0,632.8 686.5,633.2 687.0,633.4 687.5,633.6 688.0,633.6 688.5,633.2 689.0,632.7 689.5,632.7 690.0,633.2 690.5,633.6 691.0,633.6 691.5,633.5 692.0,633.6 692.5,633.7 693.0,633.7 693.5,633.7 694.0,633.7 694.5,633.6 695.0,633.4 695.5,633.4 696.0,633.4 696.5,633.2 697.0,632.9 697.5,632.6 698.0,632.7 698.5,633.0 699.0,632.6 699.5,633.1 700.0,633.5 700.5,633.7 701.0,633.7 701.5,633.7 702.0,633.7 702.5,633.7 703.0,633.5 703.5,633.6 704.0,633.7 704.5,633.7 705.0,633.7 705.5,633.7 706.0,633.7 706.5,633.7 707.0,633.7 707.5,633.7 707.5,634.2"/><polygon points="79.20,634.20 80.30,630.70 81.15,625.45 81.75,619.33 82.00,616.70 82.60,616.70 82.85,619.33 83.45,625.45 84.30,630.70 85.40,634.20"/><polygon points="89.70,634.20 90.80,631.18 91.65,626.65 92.25,621.37 92.50,619.10 93.10,619.10 93.35,621.37 93.95,626.65 94.80,631.18 95.90,634.20"/><polygon points="105.80,634.20 106.90,616.20 107.75,589.20 108.35,557.70 108.60,544.20 109.20,544.20 109.45,557.70 110.05,589.20 110.90,616.20 112.00,634.20"/><polygon points="132.00,634.20 133.10,615.28 133.95,586.90 134.55,553.79 134.80,539.60 135.40,539.60 135.65,553.79 136.25,586.90 137.10,615.28 138.20,634.20"/><polygon points="163.00,634.20 164.10,632.26 164.95,629.35 165.55,625.96 165.80,624.50 166.40,624.50 166.65,625.96 167.25,629.35 168.10,632.26 169.20,634.20"/><polygon points="177.20,634.20 178.30,631.88 179.15,628.40 179.75,624.34 180.00,622.60 180.60,622.60 180.85,624.34 181.45,628.40 182.30,631.88 183.40,634.20"/><polygon points="180.60,634.20 181.70,631.70 182.55,627.95 183.15,623.58 183.40,621.70 184.00,621.70 184.25,623.58 184.85,627.95 185.70,631.70 186.80,634.20"/><polygon points="185.70,634.20 186.80,630.94 187.65,626.05 188.25,620.35 188.50,617.90 189.10,617.90 189.35,620.35 189.95,626.05 190.80,630.94 191.90,634.20"/><polygon points="197.10,634.20 198.20,632.64 199.05,630.30 199.65,627.57 199.90,626.40 200.50,626.40 200.75,627.57 201.35,630.30 202.20,632.64 203.30,634.20"/><polygon points="213.60,634.20 214.70,633.14 215.55,631.55 216.15,629.69 216.40,628.90 217.00,628.90 217.25,629.69 217.85,631.55 218.70,633.14 219.80,634.20"/><polygon points="233.60,634.20 234.70,632.08 235.55,628.90 236.15,625.19 236.40,623.60 237.00,623.60 237.25,625.19 237.85,628.90 238.70,632.08 239.80,634.20"/><polygon points="250.10,634.20 251.20,633.28 252.05,631.90 252.65,630.29 252.90,629.60 253.50,629.60 253.75,630.29 254.35,631.90 255.20,633.28 256.30,634.20"/><polygon points="256.70,634.20 257.80,632.82 258.65,630.75 259.25,628.33 259.50,627.30 260.10,627.30 260.35,628.33 260.95,630.75 261.80,632.82 262.90,634.20"/><polygon points="275.70,634.20 276.80,632.64 277.65,630.30 278.25,627.57 278.50,626.40 279.10,626.40 279.35,627.57 279.95,630.30 280.80,632.64 281.90,634.20"/><polygon points="285.20,634.20 286.30,630.76 287.15,625.60 287.75,619.58 288.00,617.00 288.60,617.00 288.85,619.58 289.45,625.60 290.30,630.76 291.40,634.20"/><polygon points="289.90,634.20 291.00,632.46 291.85,629.85 292.45,626.81 292.70,625.50 293.30,625.50 293.55,626.81 294.15,629.85 295.00,632.46 296.10,634.20"/><polygon points="295.90,634.20 297.00,629.36 297.85,622.10 298.45,613.63 298.70,610.00 299.30,610.00 299.55,613.63 300.15,622.10 301.00,629.36 302.10,634.20"/><polygon points="307.90,634.20 309.00,620.56 309.85,600.10 310.45,576.23 310.70,566.00 311.30,566.00 311.55,576.23 312.15,600.10 313.00,620.56 314.10,634.20"/><polygon points="314.50,634.20 315.60,624.76 316.45,610.60 317.05,594.08 317.30,587.00 317.90,587.00 318.15,594.08 318.75,610.60 319.60,624.76 320.70,634.20"/><polygon points="320.90,634.20 322.00,627.72 322.85,618.00 323.45,606.66 323.70,601.80 324.30,601.80 324.55,606.66 325.15,618.00 326.00,627.72 327.10,634.20"/><polygon points="327.50,634.20 328.60,629.00 329.45,621.20 330.05,612.10 330.30,608.20 330.90,608.20 331.15,612.10 331.75,621.20 332.60,629.00 333.70,634.20"/><polygon points="333.90,634.20 335.00,628.68 335.85,620.40 336.45,610.74 336.70,606.60 337.30,606.60 337.55,610.74 338.15,620.40 339.00,628.68 340.10,634.20"/><polygon points="338.90,634.20 340.00,628.36 340.85,619.60 341.45,609.38 341.70,605.00 342.30,605.00 342.55,609.38 343.15,619.60 344.00,628.36 345.10,634.20"/><polygon points="346.30,634.20 347.40,628.36 348.25,619.60 348.85,609.38 349.10,605.00 349.70,605.00 349.95,609.38 350.55,619.60 351.40,628.36 352.50,634.20"/><polygon points="374.60,634.20 375.70,630.64 376.55,625.30 377.15,619.07 377.40,616.40 378.00,616.40 378.25,619.07 378.85,625.30 379.70,630.64 380.80,634.20"/><polygon points="379.40,634.20 380.50,630.30 381.35,624.45 381.95,617.62 382.20,614.70 382.80,614.70 383.05,617.62 383.65,624.45 384.50,630.30 385.60,634.20"/><polygon points="395.70,634.20 396.80,630.64 397.65,625.30 398.25,619.07 398.50,616.40 399.10,616.40 399.35,619.07 399.95,625.30 400.80,630.64 401.90,634.20"/><polygon points="405.40,634.20 406.50,630.96 407.35,626.10 407.95,620.43 408.20,618.00 408.80,618.00 409.05,620.43 409.65,626.10 410.50,630.96 411.60,634.20"/><polygon points="457.60,634.20 458.70,632.14 459.55,629.05 460.15,625.44 460.40,623.90 461.00,623.90 461.25,625.44 461.85,629.05 462.70,632.14 463.80,634.20"/><polygon points="468.00,634.20 469.10,633.22 469.95,631.75 470.55,630.03 470.80,629.30 471.40,629.30 471.65,630.03 472.25,631.75 473.10,633.22 474.20,634.20"/><polygon points="506.10,634.20 507.20,633.48 508.05,632.40 508.65,631.14 508.90,630.60 509.50,630.60 509.75,631.14 510.35,632.40 511.20,633.48 512.30,634.20"/><polygon points="551.90,634.20 553.00,629.78 553.85,623.15 554.45,615.42 554.70,612.10 555.30,612.10 555.55,615.42 556.15,623.15 557.00,629.78 558.10,634.20"/><polygon points="553.90,634.20 555.00,630.96 555.85,626.10 556.45,620.43 556.70,618.00 557.30,618.00 557.55,620.43 558.15,626.10 559.00,630.96 560.10,634.20"/><polygon points="556.80,634.20 557.90,629.78 558.75,623.15 559.35,615.42 559.60,612.10 560.20,612.10 560.45,615.42 561.05,623.15 561.90,629.78 563.00,634.20"/><polygon points="562.10,634.20 563.20,630.36 564.05,624.60 564.65,617.88 564.90,615.00 565.50,615.00 565.75,617.88 566.35,624.60 567.20,630.36 568.30,634.20"/><polygon points="575.30,634.20 576.40,631.74 577.25,628.05 577.85,623.75 578.10,621.90 578.70,621.90 578.95,623.75 579.55,628.05 580.40,631.74 581.50,634.20"/><polygon points="577.50,634.20 578.60,630.40 579.45,624.70 580.05,618.05 580.30,615.20 580.90,615.20 581.15,618.05 581.75,624.70 582.60,630.40 583.70,634.20"/><polygon points="587.50,634.20 588.60,633.22 589.45,631.75 590.05,630.03 590.30,629.30 590.90,629.30 591.15,630.03 591.75,631.75 592.60,633.22 593.70,634.20"/><polygon points="589.60,634.20 590.70,633.00 591.55,631.20 592.15,629.10 592.40,628.20 593.00,628.20 593.25,629.10 593.85,631.20 594.70,633.00 595.80,634.20"/><polygon points="646.60,634.20 647.70,633.22 648.55,631.75 649.15,630.03 649.40,629.30 650.00,629.30 650.25,630.03 650.85,631.75 651.70,633.22 652.80,634.20"/><polygon points="701.10,634.20 702.20,633.42 703.05,632.25 703.65,630.88 703.90,630.30 704.50,630.30 704.75,630.88 705.35,632.25 706.20,633.42 707.30,634.20"/></g>
<line x1="55.6" y1="657.4" x2="720" y2="657.4" stroke="#ff8000" stroke-opacity="0.4" stroke-width="0.9"/>
<g fill="#ff8000"><polygon points="70.2,657.4 70.2,647.9 70.7,651.2 71.2,653.3 71.7,654.2 72.2,654.0 72.7,655.0 73.2,655.2 73.7,654.4 74.2,653.3 74.7,653.8 75.2,654.2 75.7,653.0 76.2,652.6 76.7,653.8 77.2,653.8 77.7,652.5 78.2,650.8 78.7,652.5 79.2,653.8 79.7,653.8 80.2,653.3 80.7,654.2 81.2,654.9 81.7,655.4 82.2,655.4 82.7,655.4 83.2,655.4 83.7,654.2 84.2,654.9 84.7,654.8 85.2,653.7 85.7,652.1 86.2,652.3 86.7,653.8 87.2,654.9 87.7,655.4 88.2,655.4 88.7,655.4 89.2,655.3 89.7,654.3 90.2,653.0 90.7,654.2 91.2,655.2 91.7,655.4 92.2,655.4 92.7,655.4 93.2,655.4 93.7,655.4 94.2,654.5 94.7,653.8 95.2,652.6 95.7,650.9 96.2,648.6 96.7,645.6 97.2,648.7 97.7,650.9 98.2,652.6 98.7,653.9 99.2,654.8 99.7,655.2 100.2,654.2 100.7,655.1 101.2,655.4 101.7,655.4 102.2,655.4 102.7,654.1 103.2,653.6 103.7,655.1 104.2,655.4 104.7,655.4 105.2,655.4 105.7,655.3 106.2,655.4 106.7,654.6 107.2,652.8 107.7,650.0 108.2,651.5 108.7,653.8 109.2,655.2 109.7,655.1 110.2,654.4 110.7,653.4 111.2,652.2 111.7,652.7 112.2,653.8 112.7,653.7 113.2,652.2 113.7,650.1 114.2,651.0 114.7,652.8 115.2,654.1 115.7,654.6 116.2,655.3 116.7,654.6 117.2,653.7 117.7,652.4 118.2,651.1 118.7,652.7 119.2,653.9 119.7,654.1 120.2,651.7 120.7,653.5 121.2,655.1 121.7,654.3 122.2,653.2 122.7,652.0 123.2,653.4 123.7,654.5 124.2,654.6 124.7,655.4 125.2,655.4 125.7,655.4 126.2,655.4 126.7,655.4 127.2,655.4 127.7,655.4 128.2,654.8 128.7,655.3 129.2,655.0 129.7,654.1 130.2,653.5 130.7,654.5 131.2,653.4 131.7,652.0 132.2,650.0 132.7,651.3 133.2,652.9 133.7,654.1 134.2,654.7 134.7,653.5 135.2,651.9 135.7,652.7 136.2,654.1 136.7,655.1 137.2,654.5 137.7,652.6 138.2,653.7 138.7,655.1 139.2,655.4 139.7,655.4 140.2,655.4 140.7,655.4 141.2,655.4 141.7,655.4 142.2,655.4 142.7,655.4 143.2,655.4 143.7,655.4 144.2,655.4 144.7,655.0 145.2,654.0 145.7,652.7 146.2,652.4 146.7,653.8 147.2,654.8 147.7,655.4 148.2,655.4 148.7,655.4 149.2,655.4 149.7,655.4 150.2,655.4 150.7,655.4 151.2,655.4 151.7,655.4 152.2,655.4 152.7,655.2 153.2,655.1 153.7,655.4 154.2,655.4 154.7,655.4 155.2,655.4 155.7,655.4 156.2,655.4 156.7,655.4 157.2,655.4 157.7,655.4 158.2,655.4 158.7,655.4 159.2,655.4 159.7,655.4 160.2,655.8 160.7,655.8 161.2,655.8 161.7,655.8 162.2,655.8 162.7,655.2 163.2,654.3 163.7,653.0 164.2,652.8 164.7,654.2 165.2,655.1 165.7,655.8 166.2,655.1 166.7,654.2 167.2,653.2 167.7,654.5 168.2,655.4 168.7,655.8 169.2,655.8 169.7,655.8 170.2,655.8 170.7,655.8 171.2,655.8 171.7,655.8 172.2,655.2 172.7,653.9 173.2,653.7 173.7,655.0 174.2,655.7 174.7,655.2 175.2,654.6 175.7,653.8 176.2,653.8 176.7,654.6 177.2,653.8 177.7,652.7 178.2,651.3 178.7,652.6 179.2,653.7 179.7,652.9 180.2,651.6 180.7,651.6 181.2,652.9 181.7,653.9 182.2,654.7 182.7,654.0 183.2,653.7 183.7,655.1 184.2,655.8 184.7,655.8 185.2,655.8 185.7,655.8 186.2,655.8 186.7,655.8 187.2,655.8 187.7,655.3 188.2,654.6 188.7,653.6 189.2,653.5 189.7,654.5 190.2,655.3 190.7,655.8 191.2,655.8 191.7,655.4 192.2,655.0 192.7,654.4 193.2,653.5 193.7,653.6 194.2,654.5 194.7,655.1 195.2,655.6 195.7,655.7 196.2,655.2 196.7,654.6 197.2,653.7 197.7,652.4 198.2,650.7 198.7,648.5 199.2,649.9 199.7,651.8 200.2,651.3 200.7,653.8 201.2,655.1 201.7,655.6 202.2,655.8 202.7,655.8 203.2,655.7 203.7,655.5 204.2,654.8 204.7,654.0 205.2,652.9 205.7,651.6 206.2,653.0 206.7,653.3 207.2,652.1 207.7,652.8 208.2,653.9 208.7,653.7 209.2,654.5 209.7,655.6 210.2,655.8 210.7,655.8 211.2,655.4 211.7,654.7 212.2,655.2 212.7,654.1 213.2,652.3 213.7,649.7 214.2,651.9 214.7,653.8 215.2,655.0 215.7,654.6 216.2,654.6 216.7,655.3 217.2,655.8 217.7,655.0 218.2,655.2 218.7,655.8 219.2,655.8 219.7,655.8 220.2,655.8 220.7,655.7 221.2,654.5 221.7,652.4 222.2,651.2 222.7,653.7 223.2,655.2 223.7,655.8 224.2,655.8 224.7,655.2 225.2,655.4 225.7,655.8 226.2,655.8 226.7,655.8 227.2,655.8 227.7,655.8 228.2,655.8 228.7,655.2 229.2,655.4 229.7,655.8 230.2,655.8 230.7,655.8 231.2,655.8 231.7,655.3 232.2,654.5 232.7,653.5 233.2,652.1 233.7,653.2 234.2,654.3 234.7,655.1 235.2,655.7 235.7,655.8 236.2,655.8 236.7,655.3 237.2,654.3 237.7,654.6 238.2,654.6 238.7,653.5 239.2,652.0 239.7,649.8 240.2,650.7 240.7,652.6 241.2,654.0 241.7,654.9 242.2,655.6 242.7,655.8 243.2,655.3 243.7,654.6 244.2,653.6 244.7,653.1 245.2,654.2 245.7,654.6 246.2,653.6 246.7,652.2 247.2,650.8 247.7,652.5 248.2,653.8 248.7,654.7 249.2,655.4 249.7,655.7 250.2,655.8 250.7,655.5 251.2,654.4 251.7,652.4 252.2,651.1 252.7,653.5 253.2,654.8 253.7,653.7 254.2,652.1 254.7,650.0 255.2,652.2 255.7,653.8 256.2,654.9 256.7,655.6 257.2,655.8 257.7,655.2 258.2,653.9 258.7,651.8 259.2,648.4 259.7,651.2 260.2,653.5 260.7,651.9 261.2,652.6 261.7,654.5 262.2,655.6 262.7,655.4 263.2,654.3 263.7,654.8 264.2,655.2 264.7,654.4 265.2,653.5 265.7,654.5 266.2,655.2 266.7,655.2 267.2,654.3 267.7,653.3 268.2,651.8 268.7,652.7 269.2,654.0 269.7,654.9 270.2,655.1 270.7,655.5 271.2,655.8 271.7,655.8 272.2,655.8 272.7,655.8 273.2,655.8 273.7,655.3 274.2,654.5 274.7,654.9 275.2,655.6 275.7,654.9 276.2,653.9 276.7,654.1 277.2,655.1 277.7,655.0 278.2,654.3 278.7,654.8 279.2,655.4 279.7,655.8 280.2,655.8 280.7,655.8 281.2,655.8 281.7,655.8 282.2,655.8 282.7,655.3 283.2,654.5 283.7,653.3 284.2,651.7 284.7,650.6 285.2,652.5 285.7,653.9 286.2,654.9 286.7,655.6 287.2,655.4 287.7,653.9 288.2,651.3 288.7,653.0 289.2,654.8 289.7,653.7 290.2,651.9 290.7,649.2 291.2,651.7 291.7,653.6 292.2,654.6 292.7,654.6 293.2,653.0 293.7,653.5 294.2,654.1 294.7,652.5 295.2,650.1 295.7,652.3 296.2,654.0 296.7,654.6 297.2,654.6 297.7,654.6 298.2,654.6 298.7,654.2 299.2,652.9 299.7,651.0 300.2,648.4 300.7,644.7 301.2,645.7 301.7,649.1 302.2,651.6 302.7,653.3 303.2,654.5 303.7,654.6 304.2,654.6 304.7,654.6 305.2,654.6 305.7,654.6 306.2,654.6 306.7,654.6 307.2,654.6 307.7,654.6 308.2,654.6 308.7,654.6 309.2,654.6 309.7,653.8 310.2,654.1 310.7,654.6 311.2,654.2 311.7,652.5 312.2,653.0 312.7,653.0 313.2,651.5 313.7,649.4 314.2,648.3 314.7,650.6 315.2,652.4 315.7,653.7 316.2,654.6 316.7,654.2 317.2,654.5 317.7,653.7 318.2,651.7 318.7,648.6 319.2,646.2 319.7,650.1 320.2,652.7 320.7,653.4 321.2,651.4 321.7,651.9 322.2,653.8 322.7,654.6 323.2,654.6 323.7,654.6 324.2,654.4 324.7,654.6 325.2,654.1 325.7,652.9 326.2,651.9 326.7,653.3 327.2,651.9 327.7,650.0 328.2,647.6 328.7,650.1 329.2,652.0 329.7,653.4 330.2,654.4 330.7,654.6 331.2,654.0 331.7,652.4 332.2,650.0 332.7,651.8 333.2,653.6 333.7,654.6 334.2,654.6 334.7,654.6 335.2,654.6 335.7,654.6 336.2,654.6 336.7,654.6 337.2,654.6 337.7,654.6 338.2,654.6 338.7,654.6 339.2,654.6 339.7,654.5 340.2,653.6 340.7,652.5 341.2,651.0 341.7,652.3 342.2,653.5 342.7,654.4 343.2,654.6 343.7,654.4 344.2,653.1 344.7,651.1 345.2,652.7 345.7,652.3 346.2,650.8 346.7,648.8 347.2,647.7 347.7,650.0 348.2,651.7 348.7,653.0 349.2,654.0 349.7,654.6 350.2,654.6 350.7,654.6 351.2,654.6 351.7,654.6 352.2,654.6 352.7,654.6 353.2,654.6 353.7,654.6 354.2,654.6 354.7,654.6 355.2,654.6 355.7,654.5 356.2,654.0 356.7,654.6 357.2,654.6 357.7,654.6 358.2,654.6 358.7,654.6 359.2,654.6 359.7,654.6 360.2,654.6 360.7,654.6 361.2,654.6 361.7,654.6 362.2,653.9 362.7,652.7 363.2,651.3 363.7,652.8 364.2,654.0 364.7,654.3 365.2,653.2 365.7,654.4 366.2,654.6 366.7,654.6 367.2,654.6 367.7,654.6 368.2,654.6 368.7,654.6 369.2,654.6 369.7,654.0 370.2,652.9 370.7,651.4 371.2,649.3 371.7,649.0 372.2,651.2 372.7,652.7 373.2,653.9 373.7,654.1 374.2,653.0 374.7,651.5 375.2,649.6 375.7,646.9 376.2,647.6 376.7,647.8 377.2,643.0 377.7,644.6 378.2,648.9 378.7,651.8 379.2,653.6 379.7,652.1 380.2,654.0 380.7,654.6 381.2,654.3 381.7,652.7 382.2,650.1 382.7,650.7 383.2,653.1 383.7,654.1 384.2,653.8 384.7,654.6 385.2,654.6 385.7,654.6 386.2,654.6 386.7,654.0 387.2,654.4 387.7,654.6 388.2,654.6 388.7,654.6 389.2,654.6 389.7,654.6 390.2,654.6 390.7,654.6 391.2,654.6 391.7,654.6 392.2,654.6 392.7,654.6 393.2,653.6 393.7,652.4 394.2,650.8 394.7,649.2 395.2,651.2 395.7,652.8 396.2,653.9 396.7,654.6 397.2,654.6 397.7,653.8 398.2,652.3 398.7,650.3 399.2,648.9 399.7,651.4 400.2,651.9 400.7,649.6 401.2,646.2 401.7,641.5 402.2,640.3 402.7,645.4 403.2,649.0 403.7,651.5 404.2,653.3 404.7,654.2 405.2,653.7 405.7,654.6 406.2,654.6 406.7,654.6 407.2,654.6 407.7,654.5 408.2,653.4 408.7,652.0 409.2,650.1 409.7,647.5 410.2,647.3 410.7,650.0 411.2,651.9 411.7,653.4 412.2,654.4 412.7,654.6 413.2,654.6 413.7,654.6 414.2,654.5 414.7,653.4 415.2,653.7 415.7,654.6 416.2,653.1 416.7,650.2 417.2,645.5 417.7,647.9 418.2,651.7 418.7,653.9 419.2,654.6 419.7,654.6 420.2,654.8 420.7,655.3 421.2,654.2 421.7,655.1 422.2,655.8 422.7,656.2 423.2,656.2 423.7,656.2 424.2,656.2 424.7,656.2 425.2,656.2 425.7,655.8 426.2,656.2 426.7,656.2 427.2,656.2 427.7,655.8 428.2,656.2 428.7,656.2 429.2,656.2 429.7,656.2 430.2,656.2 430.7,655.7 431.2,654.6 431.7,653.3 432.2,654.8 432.7,655.8 433.2,655.5 433.7,654.6 434.2,654.8 434.7,655.6 435.2,655.5 435.7,656.0 436.2,656.2 436.7,656.2 437.2,655.5 437.7,654.5 438.2,654.3 438.7,655.4 439.2,656.1 439.7,655.6 440.2,656.2 440.7,656.1 441.2,655.3 441.7,654.1 442.2,654.9 442.7,655.5 443.2,654.8 443.7,655.3 444.2,655.8 444.7,656.2 445.2,656.2 445.7,656.2 446.2,656.0 446.7,655.4 447.2,654.6 447.7,653.3 448.2,653.7 448.7,654.9 449.2,655.6 449.7,655.8 450.2,655.3 450.7,654.6 451.2,653.7 451.7,653.0 452.2,654.0 452.7,654.8 453.2,655.4 453.7,655.9 454.2,656.0 454.7,656.2 455.2,656.2 455.7,656.2 456.2,656.2 456.7,656.2 457.2,656.2 457.7,656.2 458.2,655.8 458.7,655.4 459.2,654.8 459.7,654.8 460.2,655.4 460.7,655.8 461.2,656.2 461.7,656.2 462.2,656.2 462.7,656.2 463.2,656.2 463.7,656.2 464.2,656.2 464.7,656.2 465.2,656.2 465.7,656.2 466.2,656.2 466.7,656.2 467.2,656.2 467.7,655.4 468.2,655.0 468.7,656.0 469.2,656.2 469.7,656.2 470.2,656.2 470.7,656.2 471.2,656.2 471.7,656.2 472.2,656.2 472.7,656.2 473.2,655.8 473.7,655.2 474.2,655.8 474.7,656.2 475.2,656.2 475.7,656.2 476.2,656.0 476.7,655.8 477.2,656.2 477.7,656.2 478.2,656.2 478.7,656.2 479.2,656.2 479.7,656.2 480.2,655.4 480.7,655.4 481.2,655.4 481.7,655.4 482.2,655.4 482.7,655.4 483.2,655.4 483.7,655.4 484.2,655.2 484.7,654.7 485.2,653.8 485.7,653.6 486.2,654.6 486.7,655.4 487.2,654.0 487.7,651.6 488.2,651.8 488.7,653.7 489.2,652.1 489.7,649.9 490.2,651.2 490.7,653.0 491.2,652.9 491.7,651.7 492.2,653.6 492.7,653.5 493.2,652.2 493.7,650.5 494.2,652.0 494.7,653.4 495.2,654.4 495.7,655.1 496.2,655.4 496.7,655.4 497.2,655.4 497.7,655.4 498.2,655.4 498.7,655.2 499.2,654.9 499.7,653.7 500.2,652.0 500.7,652.8 501.2,654.3 501.7,655.2 502.2,655.4 502.7,655.4 503.2,654.9 503.7,653.6 504.2,654.3 504.7,655.1 505.2,654.1 505.7,652.9 506.2,651.1 506.7,648.7 507.2,645.4 507.7,648.0 508.2,650.6 508.7,652.5 509.2,653.9 509.7,654.9 510.2,655.6 510.7,656.0 511.2,655.3 511.7,655.0 512.2,655.2 512.7,654.5 513.2,653.4 513.7,653.9 514.2,654.6 514.7,653.5 515.2,654.0 515.7,654.9 516.2,654.6 516.7,653.6 517.2,653.6 517.7,654.6 518.2,655.3 518.7,655.6 519.2,654.7 519.7,653.3 520.2,654.6 520.7,655.6 521.2,656.2 521.7,656.2 522.2,656.2 522.7,656.0 523.2,655.3 523.7,654.3 524.2,653.9 524.7,655.0 525.2,655.0 525.7,654.7 526.2,655.5 526.7,656.0 527.2,656.0 527.7,655.5 528.2,656.2 528.7,656.2 529.2,656.2 529.7,656.2 530.2,656.2 530.7,656.2 531.2,656.1 531.7,655.5 532.2,654.7 532.7,653.4 533.2,653.8 533.7,654.9 534.2,655.7 534.7,656.2 535.2,655.9 535.7,655.5 536.2,654.3 536.7,654.3 537.2,653.4 537.7,652.2 538.2,650.7 538.7,648.8 539.2,646.3 539.7,643.1 540.2,639.0 540.7,642.3 541.2,645.7 541.7,648.3 542.2,645.8 542.7,646.6 543.2,648.3 543.7,644.8 544.2,639.9 544.7,636.8 545.2,642.5 545.7,646.7 546.2,649.7 546.7,651.8 547.2,651.8 547.7,651.8 548.2,651.8 548.7,651.8 549.2,651.8 549.7,651.8 550.2,651.8 550.7,651.8 551.2,651.8 551.7,649.7 552.2,645.7 552.7,649.0 553.2,651.8 553.7,651.8 554.2,650.6 554.7,647.9 555.2,647.9 555.7,644.2 556.2,636.5 556.7,644.2 557.2,649.1 557.7,648.7 558.2,642.5 558.7,631.6 559.2,634.6 559.7,644.2 560.2,649.7 560.7,653.0 561.2,654.8 561.7,655.0 562.2,655.0 562.7,655.0 563.2,655.0 563.7,655.0 564.2,655.0 564.7,655.0 565.2,655.0 565.7,655.0 566.2,655.0 566.7,655.0 567.2,655.0 567.7,655.0 568.2,655.0 568.7,655.0 569.2,655.0 569.7,654.8 570.2,653.8 570.7,652.5 571.2,650.8 571.7,648.4 572.2,650.4 572.7,652.3 573.2,653.6 573.7,654.6 574.2,655.0 574.7,655.0 575.2,655.0 575.7,654.4 576.2,654.3 576.7,655.0 577.2,655.0 577.7,655.0 578.2,655.0 578.7,655.0 579.2,655.0 579.7,655.0 580.2,654.8 580.7,653.4 581.2,651.5 581.7,652.1 582.2,653.9 582.7,653.1 583.2,653.5 583.7,654.4 584.2,653.9 584.7,651.7 585.2,653.6 585.7,651.7 586.2,648.9 586.7,648.2 587.2,651.2 587.7,652.6 588.2,650.2 588.7,648.5 589.2,651.4 589.7,652.2 590.2,652.8 590.7,653.9 591.2,654.8 591.7,655.0 592.2,655.0 592.7,654.6 593.2,653.1 593.7,653.8 594.2,652.2 594.7,649.9 595.2,647.0 595.7,650.2 596.2,652.5 596.7,654.0 597.2,654.7 597.7,652.6 598.2,652.6 598.7,654.7 599.2,655.0 599.7,655.0 600.2,656.7 600.7,656.4 601.2,656.6 601.7,656.4 602.2,656.2 602.7,656.5 603.2,656.1 603.7,655.6 604.2,654.9 604.7,653.9 605.2,654.9 605.7,655.6 606.2,656.1 606.7,656.5 607.2,656.7 607.7,656.6 608.2,656.8 608.7,656.8 609.2,656.8 609.7,656.7 610.2,656.8 610.7,656.8 611.2,656.6 611.7,656.8 612.2,656.8 612.7,656.8 613.2,656.7 613.7,656.2 614.2,656.2 614.7,656.4 615.2,656.1 615.7,655.6 616.2,655.8 616.7,656.2 617.2,656.5 617.7,656.7 618.2,656.3 618.7,655.8 619.2,655.1 619.7,654.1 620.2,654.8 620.7,655.6 621.2,656.2 621.7,656.3 622.2,656.0 622.7,656.1 623.2,656.4 623.7,656.7 624.2,656.8 624.7,656.7 625.2,656.5 625.7,656.7 626.2,656.8 626.7,656.8 627.2,656.8 627.7,656.6 628.2,656.3 628.7,655.8 629.2,655.2 629.7,654.3 630.2,653.3 630.7,654.5 631.2,655.3 631.7,655.9 632.2,656.3 632.7,656.6 633.2,656.6 633.7,656.3 634.2,656.3 634.7,656.6 635.2,656.6 635.7,656.4 636.2,656.1 636.7,655.7 637.2,655.2 637.7,654.6 638.2,653.7 638.7,653.6 639.2,654.4 639.7,655.1 640.2,655.6 640.7,656.0 641.2,656.3 641.7,656.5 642.2,656.7 642.7,656.8 643.2,656.7 643.7,656.8 644.2,656.7 644.7,656.4 645.2,656.0 645.7,655.4 646.2,654.5 646.7,654.8 647.2,655.6 647.7,656.2 648.2,656.1 648.7,655.7 649.2,655.7 649.7,656.1 650.2,656.4 650.7,656.6 651.2,656.3 651.7,655.8 652.2,655.3 652.7,654.5 653.2,654.4 653.7,655.2 654.2,655.8 654.7,656.2 655.2,656.5 655.7,656.8 656.2,656.8 656.7,656.7 657.2,656.4 657.7,656.4 658.2,656.7 658.7,656.8 659.2,656.8 659.7,656.8 660.2,656.8 660.7,656.8 661.2,656.8 661.7,656.8 662.2,656.6 662.7,656.3 663.2,655.9 663.7,656.4 664.2,656.7 664.7,656.7 665.2,656.5 665.7,656.2 666.2,656.2 666.7,656.5 667.2,656.7 667.7,656.7 668.2,656.5 668.7,656.3 669.2,655.9 669.7,655.7 670.2,656.1 670.7,656.4 671.2,655.9 671.7,655.3 672.2,656.1 672.7,656.6 673.2,656.4 673.7,656.1 674.2,655.6 674.7,655.0 675.2,654.1 675.7,653.9 676.2,654.8 676.7,655.5 677.2,656.0 677.7,656.4 678.2,656.4 678.7,655.8 679.2,654.8 679.7,653.1 680.2,654.6 680.7,655.7 681.2,655.9 681.7,656.4 682.2,656.7 682.7,656.8 683.2,656.8 683.7,656.5 684.2,656.5 684.7,656.6 685.2,656.1 685.7,655.5 686.2,655.4 686.7,656.1 687.2,656.5 687.7,656.7 688.2,656.5 688.7,656.1 689.2,655.7 689.7,655.4 690.2,655.9 690.7,656.3 691.2,656.6 691.7,656.8 692.2,656.8 692.7,656.8 693.2,656.8 693.7,656.8 694.2,656.3 694.7,656.4 695.2,656.8 695.7,656.8 696.2,656.8 696.7,656.5 697.2,656.8 697.7,656.7 698.2,656.4 698.7,655.9 699.2,656.1 699.7,656.5 699.7,657.4"/><polygon points="69.50,657.40 70.60,653.40 71.45,647.40 72.05,640.40 72.30,637.40 72.90,637.40 73.15,640.40 73.75,647.40 74.60,653.40 75.70,657.40"/><polygon points="78.00,657.40 79.10,653.64 79.95,648.00 80.55,641.42 80.80,638.60 81.40,638.60 81.65,641.42 82.25,648.00 83.10,653.64 84.20,657.40"/><polygon points="94.34,657.40 94.34,652.33 94.58,648.71 94.82,643.17 95.06,635.17 95.29,624.27 95.53,610.29 95.77,593.48 96.01,574.65 96.25,555.19 96.48,536.94 96.72,521.93 96.96,512.05 96.90,508.60 97.20,508.60 97.50,508.60 97.44,512.05 97.68,521.93 97.92,536.94 98.15,555.19 98.39,574.65 98.63,593.48 98.87,610.29 99.11,624.27 99.34,635.17 99.58,643.17 99.82,648.71 100.06,652.33 100.06,657.40"/><polygon points="120.00,657.40 121.10,611.52 121.65,542.70 121.95,450.94 122.20,428.00 122.80,428.00 123.05,450.94 123.35,542.70 123.90,611.52 125.00,657.40"/><polygon points="119.24,657.40 119.24,651.02 119.59,646.45 119.93,639.48 120.28,629.41 120.63,615.68 120.97,598.07 121.32,576.90 121.67,553.19 122.01,528.67 122.36,505.69 122.71,486.79 123.05,474.35 123.10,470.00 123.40,470.00 123.70,470.00 123.75,474.35 124.09,486.79 124.44,505.69 124.79,528.67 125.13,553.19 125.48,576.90 125.83,598.07 126.17,615.68 126.52,629.41 126.87,639.48 127.21,646.45 127.56,651.02 127.56,657.40"/><polygon points="136.50,657.40 137.60,654.62 138.45,650.45 139.05,645.59 139.30,643.50 139.90,643.50 140.15,645.59 140.75,650.45 141.60,654.62 142.70,657.40"/><polygon points="151.10,657.40 152.20,655.32 153.05,652.20 153.65,648.56 153.90,647.00 154.50,647.00 154.75,648.56 155.35,652.20 156.20,655.32 157.30,657.40"/><polygon points="169.20,657.40 170.30,655.74 171.15,653.25 171.75,650.35 172.00,649.10 172.60,649.10 172.85,650.35 173.45,653.25 174.30,655.74 175.40,657.40"/><polygon points="173.40,657.40 174.50,655.92 175.35,653.70 175.95,651.11 176.20,650.00 176.80,650.00 177.05,651.11 177.65,653.70 178.50,655.92 179.60,657.40"/><polygon points="185.70,657.40 186.80,654.98 187.65,651.35 188.25,647.12 188.50,645.30 189.10,645.30 189.35,647.12 189.95,651.35 190.80,654.98 191.90,657.40"/><polygon points="220.20,657.40 220.20,656.73 220.63,656.26 221.07,655.53 221.50,654.47 221.93,653.04 222.37,651.19 222.80,648.98 223.23,646.50 223.67,643.94 224.10,641.53 224.53,639.56 224.97,638.25 225.10,637.80 225.40,637.80 225.70,637.80 225.83,638.25 226.27,639.56 226.70,641.53 227.13,643.94 227.57,646.50 228.00,648.98 228.43,651.19 228.87,653.04 229.30,654.47 229.73,655.53 230.17,656.26 230.60,656.73 230.60,657.40"/><polygon points="237.40,657.40 238.50,655.18 239.35,651.85 239.95,647.96 240.20,646.30 240.80,646.30 241.05,647.96 241.65,651.85 242.50,655.18 243.60,657.40"/><polygon points="244.40,657.40 245.50,655.74 246.35,653.25 246.95,650.35 247.20,649.10 247.80,649.10 248.05,650.35 248.65,653.25 249.50,655.74 250.60,657.40"/><polygon points="263.90,657.40 265.00,652.52 265.85,645.20 266.45,636.66 266.70,633.00 267.30,633.00 267.55,636.66 268.15,645.20 269.00,652.52 270.10,657.40"/><polygon points="296.50,657.40 297.60,637.18 298.15,606.85 298.45,566.41 298.70,556.30 299.30,556.30 299.55,566.41 299.85,606.85 300.40,637.18 301.50,657.40"/><polygon points="312.90,657.40 314.00,651.12 314.85,641.70 315.45,630.71 315.70,626.00 316.30,626.00 316.55,630.71 317.15,641.70 318.00,651.12 319.10,657.40"/><polygon points="320.90,657.40 322.00,651.46 322.85,642.55 323.45,632.16 323.70,627.70 324.30,627.70 324.55,632.16 325.15,642.55 326.00,651.46 327.10,657.40"/><polygon points="325.90,657.40 327.00,650.50 327.85,640.15 328.45,628.07 328.70,622.90 329.30,622.90 329.55,628.07 330.15,640.15 331.00,650.50 332.10,657.40"/><polygon points="363.90,657.40 365.00,652.76 365.85,645.80 366.45,637.68 366.70,634.20 367.30,634.20 367.55,637.68 368.15,645.80 369.00,652.76 370.10,657.40"/><polygon points="380.90,657.40 382.00,653.42 382.85,647.45 383.45,640.49 383.70,637.50 384.30,637.50 384.55,640.49 385.15,647.45 386.00,653.42 387.10,657.40"/><polygon points="397.30,657.40 398.40,652.76 399.25,645.80 399.85,637.68 400.10,634.20 400.70,634.20 400.95,637.68 401.55,645.80 402.40,652.76 403.50,657.40"/><polygon points="442.10,657.40 443.20,655.02 444.05,651.45 444.65,647.28 444.90,645.50 445.50,645.50 445.75,647.28 446.35,651.45 447.20,655.02 448.30,657.40"/><polygon points="446.40,657.40 447.50,655.02 448.35,651.45 448.95,647.28 449.20,645.50 449.80,645.50 450.05,647.28 450.65,651.45 451.50,655.02 452.60,657.40"/><polygon points="457.20,657.40 458.30,656.10 459.15,654.15 459.75,651.88 460.00,650.90 460.60,650.90 460.85,651.88 461.45,654.15 462.30,656.10 463.40,657.40"/><polygon points="540.50,657.40 541.60,653.94 542.45,648.75 543.05,642.70 543.30,640.10 543.90,640.10 544.15,642.70 544.75,648.75 545.60,653.94 546.70,657.40"/><polygon points="545.30,657.40 546.40,645.50 547.25,627.65 547.85,606.82 548.10,597.90 548.70,597.90 548.95,606.82 549.55,627.65 550.40,645.50 551.50,657.40"/><polygon points="551.40,657.40 552.50,652.86 553.35,646.05 553.95,638.11 554.20,634.70 554.80,634.70 555.05,638.11 555.65,646.05 556.50,652.86 557.60,657.40"/><polygon points="564.30,657.40 565.40,653.50 566.25,647.65 566.85,640.82 567.10,637.90 567.70,637.90 567.95,640.82 568.55,647.65 569.40,653.50 570.50,657.40"/><polygon points="567.90,657.40 569.00,655.24 569.85,652.00 570.45,648.22 570.70,646.60 571.30,646.60 571.55,648.22 572.15,652.00 573.00,655.24 574.10,657.40"/><polygon points="575.60,657.40 576.70,655.24 577.55,652.00 578.15,648.22 578.40,646.60 579.00,646.60 579.25,648.22 579.85,652.00 580.70,655.24 581.80,657.40"/><polygon points="578.80,657.40 579.90,655.88 580.75,653.60 581.35,650.94 581.60,649.80 582.20,649.80 582.45,650.94 583.05,653.60 583.90,655.88 585.00,657.40"/><polygon points="635.10,657.40 636.20,655.88 637.05,653.60 637.65,650.94 637.90,649.80 638.50,649.80 638.75,650.94 639.35,653.60 640.20,655.88 641.30,657.40"/><polygon points="690.30,657.40 691.40,656.52 692.25,655.20 692.85,653.66 693.10,653.00 693.70,653.00 693.95,653.66 694.55,655.20 695.40,656.52 696.50,657.40"/></g>
<line x1="46.6" y1="680.5" x2="720" y2="680.5" stroke="#0000ff" stroke-opacity="0.4" stroke-width="0.9"/>
<g fill="#0000ff"><polygon points="58.0,680.5 58.0,675.9 58.5,677.0 59.0,677.7 59.5,676.1 60.0,676.8 60.5,678.1 61.0,678.9 61.5,678.5 62.0,677.9 62.5,677.1 63.0,676.1 63.5,674.7 64.0,672.9 64.5,670.5 65.0,672.4 65.5,674.3 66.0,675.8 66.5,676.9 67.0,677.8 67.5,678.4 68.0,678.0 68.5,676.2 69.0,675.7 69.5,676.3 70.0,674.8 70.5,676.0 71.0,677.2 71.5,677.9 72.0,677.0 72.5,675.9 73.0,676.9 73.5,677.8 74.0,678.2 74.5,678.9 75.0,678.9 75.5,678.7 76.0,678.3 76.5,678.9 77.0,678.9 77.5,678.4 78.0,677.3 78.5,676.3 79.0,677.7 79.5,678.6 80.0,678.9 80.5,678.9 81.0,678.9 81.5,678.9 82.0,678.6 82.5,677.8 83.0,676.8 83.5,675.3 84.0,675.3 84.5,676.8 85.0,677.8 85.5,678.6 86.0,678.2 86.5,677.5 87.0,676.5 87.5,675.1 88.0,673.4 88.5,671.1 89.0,672.9 89.5,674.8 90.0,676.2 90.5,677.3 91.0,678.1 91.5,678.7 92.0,678.9 92.5,678.2 93.0,677.1 93.5,675.6 94.0,673.4 94.5,670.3 95.0,673.5 95.5,675.7 96.0,677.2 96.5,678.2 97.0,678.9 97.5,678.9 98.0,678.9 98.5,678.9 99.0,678.6 99.5,678.9 100.0,679.5 100.5,679.5 101.0,679.5 101.5,679.5 102.0,679.5 102.5,679.5 103.0,679.3 103.5,678.8 104.0,678.3 104.5,678.2 105.0,678.8 105.5,679.2 106.0,679.5 106.5,679.4 107.0,679.5 107.5,679.5 108.0,679.5 108.5,679.5 109.0,679.5 109.5,679.5 110.0,679.5 110.5,679.5 111.0,679.5 111.5,679.5 112.0,679.5 112.5,679.4 113.0,679.5 113.5,679.5 114.0,679.5 114.5,679.4 115.0,678.9 115.5,679.1 116.0,678.9 116.5,678.1 117.0,678.8 117.5,679.1 118.0,678.5 118.5,677.4 119.0,675.6 119.5,675.1 120.0,677.1 120.5,678.3 121.0,679.1 121.5,679.5 122.0,679.5 122.5,679.5 123.0,679.5 123.5,679.5 124.0,679.5 124.5,679.5 125.0,679.5 125.5,679.0 126.0,679.5 126.5,679.5 127.0,679.5 127.5,679.5 128.0,679.5 128.5,679.5 129.0,679.5 129.5,679.5 130.0,679.4 130.5,679.5 131.0,679.5 131.5,679.1 132.0,678.1 132.5,677.3 133.0,678.7 133.5,679.4 134.0,679.0 134.5,678.2 135.0,677.8 135.5,678.8 136.0,679.2 136.5,678.5 137.0,677.6 137.5,676.3 138.0,675.9 138.5,677.4 139.0,678.4 139.5,679.0 140.0,679.5 140.5,679.5 141.0,679.5 141.5,679.5 142.0,679.4 142.5,679.3 143.0,678.8 143.5,678.0 144.0,676.7 144.5,677.0 145.0,678.1 145.5,678.9 146.0,679.0 146.5,678.8 147.0,679.2 147.5,678.8 148.0,677.6 148.5,678.6 149.0,679.4 149.5,679.4 150.0,678.9 150.5,678.3 151.0,677.6 151.5,678.4 152.0,679.0 152.5,679.3 153.0,679.5 153.5,679.5 154.0,679.5 154.5,679.5 155.0,679.5 155.5,679.5 156.0,679.1 156.5,678.2 157.0,676.7 157.5,678.0 158.0,679.0 158.5,679.2 159.0,678.4 159.5,676.9 160.0,674.6 160.5,676.7 161.0,678.2 161.5,679.1 162.0,679.5 162.5,679.5 163.0,679.5 163.5,679.5 164.0,679.5 164.5,679.5 165.0,679.5 165.5,679.5 166.0,679.5 166.5,679.1 167.0,678.6 167.5,679.0 168.0,679.4 168.5,679.2 169.0,678.7 169.5,677.9 170.0,678.6 170.5,679.1 171.0,678.5 171.5,677.8 172.0,678.6 172.5,679.2 173.0,679.5 173.5,679.5 174.0,679.1 174.5,678.6 175.0,678.9 175.5,679.3 176.0,679.5 176.5,679.0 177.0,678.8 177.5,679.4 178.0,679.5 178.5,679.5 179.0,679.5 179.5,679.0 180.0,678.0 180.5,676.5 181.0,673.9 181.5,676.4 182.0,678.0 182.5,678.9 183.0,679.5 183.5,679.5 184.0,679.5 184.5,679.5 185.0,679.5 185.5,679.5 186.0,679.5 186.5,679.5 187.0,679.2 187.5,678.8 188.0,678.3 188.5,678.7 189.0,678.7 189.5,678.2 190.0,677.5 190.5,677.8 191.0,678.4 191.5,678.9 192.0,678.7 192.5,678.2 193.0,677.6 193.5,676.7 194.0,676.4 194.5,677.3 195.0,678.0 195.5,677.5 196.0,676.9 196.5,677.8 197.0,678.5 197.5,678.7 198.0,678.3 198.5,678.9 199.0,679.3 199.5,679.5 200.0,679.5 200.5,679.5 201.0,679.5 201.5,679.4 202.0,679.0 202.5,678.4 203.0,677.7 203.5,676.7 204.0,677.7 204.5,678.5 205.0,679.0 205.5,679.4 206.0,679.5 206.5,679.5 207.0,679.5 207.5,679.5 208.0,679.5 208.5,679.5 209.0,679.4 209.5,679.3 210.0,679.5 210.5,679.5 211.0,679.5 211.5,679.5 212.0,679.5 212.5,679.5 213.0,679.5 213.5,679.3 214.0,679.3 214.5,678.9 215.0,678.4 215.5,677.7 216.0,676.7 216.5,676.6 217.0,677.6 217.5,678.4 218.0,678.9 218.5,679.3 219.0,679.5 219.5,679.5 220.0,679.5 220.5,679.5 221.0,679.0 221.5,679.4 222.0,679.5 222.5,679.5 223.0,679.5 223.5,679.5 224.0,679.5 224.5,679.5 225.0,679.5 225.5,679.2 226.0,678.7 226.5,678.1 227.0,677.2 227.5,676.7 228.0,677.7 228.5,678.5 229.0,679.1 229.5,679.5 230.0,679.5 230.5,679.5 231.0,679.5 231.5,679.4 232.0,679.5 232.5,679.5 233.0,679.5 233.5,679.0 234.0,678.1 234.5,676.6 235.0,677.4 235.5,678.6 236.0,678.4 236.5,678.6 237.0,678.9 237.5,678.4 238.0,677.8 238.5,678.4 239.0,678.9 239.5,678.9 240.0,678.1 240.5,678.5 241.0,679.2 241.5,679.4 242.0,679.0 242.5,678.5 243.0,678.9 243.5,678.8 244.0,678.1 244.5,677.2 245.0,676.4 245.5,677.6 246.0,678.4 246.5,678.7 247.0,678.2 247.5,677.6 248.0,677.0 248.5,677.8 249.0,677.8 249.5,678.2 250.0,679.0 250.5,679.2 251.0,678.9 251.5,679.5 252.0,679.3 252.5,678.9 253.0,678.4 253.5,677.8 254.0,678.5 254.5,679.0 255.0,679.4 255.5,679.5 256.0,679.5 256.5,679.0 257.0,678.1 257.5,676.8 258.0,677.7 258.5,678.7 259.0,679.3 259.5,679.5 260.0,679.5 260.5,679.5 261.0,679.5 261.5,679.5 262.0,679.5 262.5,679.5 263.0,679.3 263.5,679.5 264.0,678.9 264.5,678.0 265.0,677.8 265.5,678.8 266.0,679.4 266.5,679.5 267.0,679.3 267.5,678.7 268.0,679.4 268.5,679.5 269.0,679.5 269.5,679.5 270.0,679.5 270.5,679.2 271.0,678.8 271.5,678.4 272.0,677.7 272.5,676.9 273.0,675.9 273.5,674.5 274.0,675.3 274.5,676.5 275.0,677.3 275.5,678.1 276.0,678.7 276.5,679.1 277.0,679.2 277.5,679.2 278.0,679.1 278.5,678.4 279.0,677.5 279.5,677.3 280.0,678.3 280.5,678.8 281.0,678.1 281.5,677.2 282.0,677.2 282.5,678.1 283.0,678.7 283.5,679.2 284.0,679.5 284.5,679.5 285.0,679.5 285.5,679.5 286.0,679.5 286.5,679.5 287.0,679.5 287.5,679.5 288.0,679.5 288.5,679.5 289.0,679.0 289.5,678.4 290.0,677.6 290.5,678.5 291.0,678.9 291.5,678.9 292.0,678.9 292.5,678.9 293.0,678.5 293.5,678.4 294.0,678.9 294.5,678.6 295.0,677.3 295.5,675.3 296.0,676.5 296.5,678.0 297.0,678.9 297.5,678.2 298.0,677.3 298.5,678.0 299.0,677.2 299.5,676.5 300.0,677.4 300.5,678.2 301.0,678.7 301.5,678.9 302.0,678.9 302.5,678.9 303.0,678.4 303.5,678.9 304.0,678.3 304.5,677.2 305.0,675.5 305.5,673.8 306.0,676.1 306.5,677.2 307.0,675.8 307.5,677.0 308.0,678.0 308.5,677.2 309.0,676.0 309.5,674.2 310.0,675.9 310.5,677.2 311.0,678.1 311.5,678.4 312.0,677.3 312.5,676.6 313.0,678.0 313.5,678.8 314.0,677.7 314.5,677.7 315.0,678.8 315.5,678.7 316.0,678.2 316.5,678.6 317.0,678.6 317.5,677.5 318.0,675.9 318.5,676.9 319.0,678.1 319.5,678.9 320.0,678.9 320.5,678.9 321.0,678.9 321.5,678.9 322.0,678.9 322.5,678.6 323.0,677.9 323.5,678.4 324.0,678.9 324.5,678.9 325.0,678.6 325.5,677.6 326.0,676.0 326.5,673.9 327.0,676.3 327.5,677.7 328.0,676.9 328.5,675.8 329.0,676.2 329.5,677.1 330.0,677.9 330.5,677.3 331.0,676.3 331.5,674.9 332.0,676.2 332.5,677.2 333.0,678.0 333.5,678.6 334.0,678.9 334.5,678.0 335.0,676.6 335.5,676.7 336.0,678.1 336.5,678.4 337.0,678.6 337.5,678.7 338.0,678.1 338.5,678.7 339.0,677.7 339.5,676.3 340.0,676.6 340.5,676.6 341.0,674.8 341.5,676.5 342.0,677.8 342.5,678.7 343.0,678.9 343.5,678.9 344.0,678.7 344.5,678.9 345.0,678.9 345.5,678.9 346.0,678.9 346.5,678.7 347.0,678.5 347.5,677.8 348.0,677.0 348.5,675.9 349.0,675.6 349.5,676.8 350.0,677.7 350.5,678.4 351.0,678.9 351.5,678.9 352.0,678.9 352.5,678.4 353.0,678.0 353.5,678.6 354.0,678.9 354.5,678.9 355.0,678.9 355.5,678.9 356.0,678.9 356.5,678.9 357.0,678.9 357.5,678.1 358.0,676.8 358.5,678.1 359.0,678.9 359.5,678.9 360.0,678.9 360.5,678.9 361.0,678.9 361.5,678.7 362.0,678.0 362.5,676.9 363.0,675.4 363.5,675.1 364.0,676.7 364.5,677.9 365.0,677.4 365.5,676.6 366.0,676.6 366.5,677.5 367.0,678.2 367.5,678.4 368.0,678.9 368.5,678.9 369.0,678.9 369.5,678.9 370.0,678.9 370.5,678.9 371.0,678.9 371.5,678.9 372.0,678.9 372.5,678.9 373.0,678.3 373.5,677.1 374.0,675.1 374.5,675.6 375.0,677.4 375.5,678.5 376.0,678.6 376.5,677.7 377.0,678.7 377.5,678.6 378.0,677.9 378.5,678.3 379.0,678.9 379.5,678.9 380.0,678.9 380.5,678.7 381.0,678.0 381.5,677.1 382.0,675.8 382.5,674.0 383.0,675.1 383.5,676.6 384.0,677.7 384.5,678.5 385.0,678.9 385.5,678.5 386.0,677.9 386.5,677.2 387.0,676.6 387.5,677.5 388.0,678.2 388.5,678.7 389.0,678.9 389.5,678.9 390.0,678.9 390.5,678.6 391.0,677.7 391.5,676.5 392.0,674.6 392.5,672.0 393.0,671.1 393.5,674.0 394.0,676.0 394.5,677.4 395.0,678.4 395.5,678.8 396.0,678.9 396.5,678.9 397.0,678.9 397.5,678.9 398.0,678.9 398.5,678.6 399.0,677.7 399.5,677.3 400.0,678.3 400.5,678.2 401.0,677.2 401.5,675.9 402.0,674.9 402.5,676.5 403.0,677.6 403.5,677.3 404.0,677.8 404.5,677.2 405.0,675.9 405.5,677.1 406.0,678.1 406.5,678.4 407.0,677.6 407.5,676.4 408.0,674.8 408.5,672.5 409.0,670.5 409.5,673.4 410.0,675.4 410.5,676.9 411.0,677.9 411.5,678.6 412.0,677.8 412.5,676.6 413.0,676.4 413.5,677.6 414.0,678.1 414.5,677.0 415.0,675.9 415.5,677.3 416.0,678.3 416.5,678.9 417.0,678.9 417.5,678.9 418.0,678.9 418.5,678.9 419.0,678.9 419.5,678.9 420.0,679.5 420.5,679.7 421.0,679.7 421.5,679.7 422.0,679.5 422.5,679.1 423.0,678.6 423.5,677.9 424.0,678.7 424.5,679.2 425.0,679.6 425.5,679.7 426.0,679.7 426.5,679.5 427.0,679.0 427.5,678.2 428.0,678.4 428.5,679.1 429.0,679.6 429.5,679.5 430.0,679.2 430.5,678.8 431.0,678.3 431.5,678.0 432.0,678.6 432.5,678.4 433.0,677.0 433.5,678.3 434.0,679.1 434.5,679.6 435.0,679.7 435.5,679.7 436.0,679.7 436.5,679.4 437.0,678.7 437.5,677.7 438.0,678.1 438.5,679.0 439.0,679.5 439.5,679.7 440.0,679.7 440.5,679.7 441.0,679.7 441.5,679.6 442.0,679.7 442.5,679.7 443.0,679.4 443.5,678.8 444.0,677.8 444.5,677.0 445.0,678.3 445.5,679.1 446.0,679.6 446.5,679.3 447.0,678.8 447.5,679.0 448.0,679.0 448.5,678.3 449.0,677.4 449.5,677.7 450.0,678.5 450.5,678.6 451.0,679.1 451.5,679.4 452.0,679.7 452.5,679.7 453.0,679.7 453.5,679.7 454.0,679.7 454.5,679.7 455.0,679.7 455.5,679.7 456.0,679.7 456.5,679.7 457.0,679.2 457.5,678.5 458.0,677.4 458.5,678.5 459.0,679.2 459.5,679.4 460.0,678.7 460.5,678.7 461.0,678.6 461.5,677.9 462.0,677.1 462.5,676.0 463.0,674.6 463.5,676.0 464.0,677.1 464.5,677.9 465.0,678.6 465.5,679.0 466.0,679.4 466.5,679.7 467.0,679.7 467.5,679.7 468.0,679.7 468.5,679.7 469.0,679.4 469.5,678.9 470.0,678.1 470.5,677.4 471.0,678.4 471.5,679.1 472.0,679.5 472.5,679.7 473.0,679.7 473.5,679.7 474.0,679.7 474.5,679.7 475.0,679.6 475.5,679.0 476.0,678.4 476.5,679.2 477.0,679.7 477.5,679.7 478.0,679.1 478.5,678.1 479.0,677.7 479.5,678.9 480.0,679.5 480.5,679.7 481.0,679.7 481.5,679.7 482.0,679.7 482.5,679.7 483.0,679.6 483.5,679.7 484.0,679.7 484.5,679.7 485.0,679.7 485.5,679.7 486.0,679.6 486.5,679.0 487.0,679.1 487.5,678.8 488.0,678.3 488.5,677.6 489.0,676.7 489.5,675.5 490.0,675.9 490.5,677.0 491.0,677.5 491.5,678.4 492.0,678.9 492.5,679.3 493.0,679.6 493.5,679.7 494.0,679.5 494.5,679.1 495.0,678.9 495.5,679.4 496.0,679.7 496.5,679.7 497.0,679.7 497.5,679.2 498.0,679.6 498.5,679.7 499.0,679.5 499.5,679.2 500.0,678.8 500.5,679.2 501.0,679.5 501.5,679.7 502.0,679.7 502.5,679.7 503.0,679.7 503.5,679.7 504.0,679.7 504.5,679.7 505.0,679.7 505.5,679.7 506.0,679.3 506.5,679.1 507.0,678.5 507.5,677.7 508.0,678.5 508.5,679.1 509.0,679.5 509.5,679.7 510.0,679.7 510.5,679.7 511.0,679.7 511.5,679.6 512.0,679.3 512.5,679.1 513.0,679.5 513.5,679.7 514.0,679.7 514.5,679.4 515.0,679.3 515.5,678.9 516.0,678.3 516.5,678.4 517.0,679.0 517.5,679.4 518.0,679.7 518.5,679.7 519.0,679.6 519.5,679.7 520.0,679.3 520.5,678.8 521.0,679.2 521.5,678.8 522.0,678.2 522.5,677.5 523.0,676.4 523.5,675.1 524.0,673.3 524.5,670.8 525.0,667.6 525.5,667.6 526.0,670.9 526.5,673.3 527.0,675.1 527.5,676.4 528.0,677.3 528.5,677.3 529.0,677.3 529.5,677.3 530.0,677.3 530.5,677.3 531.0,677.3 531.5,677.3 532.0,677.3 532.5,677.3 533.0,677.3 533.5,677.3 534.0,677.3 534.5,676.8 535.0,674.1 535.5,669.3 536.0,671.2 536.5,675.1 537.0,676.8 537.5,677.3 538.0,677.3 538.5,676.8 539.0,677.3 539.5,677.3 540.0,677.3 540.5,677.3 541.0,676.8 541.5,675.4 542.0,673.6 542.5,674.5 543.0,676.1 543.5,677.2 544.0,675.4 544.5,673.9 545.0,671.2 545.5,667.4 546.0,662.0 546.5,667.2 547.0,671.1 547.5,673.8 548.0,672.6 548.5,672.0 549.0,674.7 549.5,676.6 550.0,677.3 550.5,677.3 551.0,676.0 551.5,677.3 552.0,677.3 552.5,677.3 553.0,677.3 553.5,677.3 554.0,677.3 554.5,676.4 555.0,674.3 555.5,673.8 556.0,675.4 556.5,673.4 557.0,673.2 557.5,675.2 558.0,676.7 558.5,677.3 559.0,676.7 559.5,675.3 560.0,673.2 560.5,670.4 561.0,669.2 561.5,672.4 562.0,674.7 562.5,676.3 563.0,674.8 563.5,675.7 564.0,676.9 564.5,675.4 565.0,673.2 565.5,670.1 566.0,672.4 566.5,674.8 567.0,676.5 567.5,676.8 568.0,675.2 568.5,672.9 569.0,674.8 569.5,676.5 570.0,676.6 570.5,675.3 571.0,673.6 571.5,671.3 572.0,668.1 572.5,664.0 573.0,658.4 573.5,663.3 574.0,667.7 574.5,670.9 575.0,673.3 575.5,675.1 576.0,676.5 576.5,677.5 577.0,678.3 577.5,678.8 578.0,679.2 578.5,679.6 579.0,679.7 579.5,679.2 580.0,679.0 580.5,679.6 581.0,679.9 581.5,679.9 582.0,679.5 582.5,679.4 583.0,679.7 583.5,679.2 584.0,679.6 584.5,680.0 585.0,680.0 585.5,680.0 586.0,680.0 586.5,680.0 587.0,680.0 587.5,680.0 588.0,680.0 588.5,680.0 589.0,680.0 589.5,679.7 590.0,679.4 590.5,679.5 591.0,679.8 591.5,680.0 592.0,680.0 592.5,680.0 593.0,679.7 593.5,679.2 594.0,679.4 594.5,679.8 595.0,680.0 595.5,680.0 596.0,680.0 596.5,680.0 597.0,680.0 597.5,680.0 598.0,680.0 598.5,680.0 599.0,680.0 599.5,680.0 600.0,680.0 600.5,680.0 601.0,680.0 601.5,680.0 602.0,680.0 602.5,679.7 603.0,679.3 603.5,679.3 604.0,679.5 604.5,679.1 605.0,679.2 605.5,679.6 606.0,679.6 606.5,679.0 607.0,679.0 607.5,679.6 608.0,679.9 608.5,679.9 609.0,679.7 609.5,679.4 610.0,679.1 610.5,678.7 611.0,678.5 611.5,679.0 612.0,679.3 612.5,679.4 613.0,679.0 613.5,678.8 614.0,679.3 614.5,679.5 615.0,679.2 615.5,678.8 616.0,678.3 616.5,677.5 617.0,677.9 617.5,678.6 618.0,679.0 618.5,679.4 619.0,679.7 619.5,679.6 620.0,679.3 620.5,678.9 621.0,678.4 621.5,678.0 622.0,678.6 622.5,678.9 623.0,678.3 623.5,678.7 624.0,677.8 624.5,677.5 625.0,678.6 625.5,679.3 626.0,679.8 626.5,679.6 627.0,679.3 627.5,679.4 628.0,679.7 628.5,679.9 629.0,679.8 629.5,679.4 630.0,678.9 630.5,679.5 631.0,679.9 631.5,679.8 632.0,679.7 632.5,679.4 633.0,679.1 633.5,678.6 634.0,679.0 634.5,679.4 635.0,679.6 635.5,679.9 636.0,680.0 636.5,680.0 637.0,680.0 637.5,680.0 638.0,680.0 638.5,680.0 639.0,680.0 639.5,680.0 640.0,680.0 640.5,679.9 641.0,679.8 641.5,679.7 642.0,679.9 642.5,679.8 643.0,679.3 643.5,679.3 644.0,679.8 644.5,679.9 645.0,679.6 645.5,679.2 646.0,678.6 646.5,679.1 647.0,679.5 647.5,679.8 648.0,680.0 648.5,679.9 649.0,679.9 649.5,680.0 650.0,679.7 650.5,679.4 651.0,679.9 651.5,679.9 652.0,679.7 652.5,679.7 653.0,679.5 653.5,679.2 654.0,678.8 654.5,678.2 655.0,677.6 655.5,677.3 656.0,678.0 656.5,678.6 657.0,679.0 657.5,679.4 658.0,679.6 658.5,679.8 659.0,680.0 659.5,679.8 660.0,679.4 660.5,678.8 661.0,679.4 661.5,679.8 662.0,680.0 662.5,680.0 663.0,680.0 663.5,680.0 664.0,679.9 664.5,680.0 665.0,680.0 665.5,679.7 666.0,679.9 666.5,680.0 667.0,680.0 667.5,679.9 668.0,679.6 668.5,679.9 669.0,680.0 669.5,680.0 670.0,680.0 670.5,680.0 671.0,679.9 671.5,679.5 672.0,678.8 672.5,677.9 673.0,678.9 673.5,679.6 674.0,680.0 674.5,680.0 675.0,680.0 675.5,680.0 676.0,680.0 676.5,680.0 677.0,680.0 677.5,680.0 678.0,680.0 678.5,680.0 679.0,680.0 679.5,680.0 680.0,680.0 680.5,680.0 681.0,680.0 681.5,680.0 682.0,680.0 682.5,680.0 683.0,680.0 683.5,680.0 684.0,679.9 684.5,679.5 685.0,679.0 685.5,679.5 686.0,679.9 686.0,680.5"/><polygon points="58.60,680.50 59.70,677.24 60.55,672.35 61.15,666.64 61.40,664.20 62.00,664.20 62.25,666.64 62.85,672.35 63.70,677.24 64.80,680.50"/><polygon points="82.40,680.50 83.50,661.90 84.35,634.00 84.95,601.45 85.20,587.50 85.80,587.50 86.05,601.45 86.65,634.00 87.50,661.90 88.60,680.50"/><polygon points="109.10,680.50 110.20,644.50 110.75,590.50 111.05,518.50 111.30,500.50 111.90,500.50 112.15,518.50 112.45,590.50 113.00,644.50 114.10,680.50"/><polygon points="108.98,680.50 108.98,675.38 109.24,671.71 109.50,666.11 109.76,658.02 110.02,646.99 110.28,632.85 110.54,615.85 110.80,596.81 111.06,577.12 111.32,558.66 111.58,543.49 111.84,533.49 111.80,530.00 112.10,530.00 112.40,530.00 112.36,533.49 112.62,543.49 112.88,558.66 113.14,577.12 113.40,596.81 113.66,615.85 113.92,632.85 114.18,646.99 114.44,658.02 114.70,666.11 114.96,671.71 115.22,675.38 115.22,680.50"/><polygon points="125.50,680.50 126.60,678.46 127.45,675.40 128.05,671.83 128.30,670.30 128.90,670.30 129.15,671.83 129.75,675.40 130.60,678.46 131.70,680.50"/><polygon points="154.50,680.50 155.60,678.78 156.45,676.20 157.05,673.19 157.30,671.90 157.90,671.90 158.15,673.19 158.75,676.20 159.60,678.78 160.70,680.50"/><polygon points="162.00,680.50 163.10,677.24 163.95,672.35 164.55,666.64 164.80,664.20 165.40,664.20 165.65,666.64 166.25,672.35 167.10,677.24 168.20,680.50"/><polygon points="175.30,680.50 176.40,679.72 177.25,678.55 177.85,677.19 178.10,676.60 178.70,676.60 178.95,677.19 179.55,678.55 180.40,679.72 181.50,680.50"/><polygon points="190.90,680.50 192.00,678.78 192.85,676.20 193.45,673.19 193.70,671.90 194.30,671.90 194.55,673.19 195.15,676.20 196.00,678.78 197.10,680.50"/><polygon points="210.30,680.50 211.40,678.96 212.25,676.65 212.85,673.95 213.10,672.80 213.70,672.80 213.95,673.95 214.55,676.65 215.40,678.96 216.50,680.50"/><polygon points="224.90,680.50 226.00,678.96 226.85,676.65 227.45,673.95 227.70,672.80 228.30,672.80 228.55,673.95 229.15,676.65 230.00,678.96 231.10,680.50"/><polygon points="234.40,680.50 235.50,678.20 236.35,674.75 236.95,670.73 237.20,669.00 237.80,669.00 238.05,670.73 238.65,674.75 239.50,678.20 240.60,680.50"/><polygon points="252.00,680.50 253.10,677.44 253.95,672.85 254.55,667.50 254.80,665.20 255.40,665.20 255.65,667.50 256.25,672.85 257.10,677.44 258.20,680.50"/><polygon points="262.40,680.50 263.50,678.58 264.35,675.70 264.95,672.34 265.20,670.90 265.80,670.90 266.05,672.34 266.65,675.70 267.50,678.58 268.60,680.50"/><polygon points="266.60,680.50 267.70,677.82 268.55,673.80 269.15,669.11 269.40,667.10 270.00,667.10 270.25,669.11 270.85,673.80 271.70,677.82 272.80,680.50"/><polygon points="284.20,680.50 285.30,667.80 286.15,648.75 286.75,626.52 287.00,617.00 287.60,617.00 287.85,626.52 288.45,648.75 289.30,667.80 290.40,680.50"/><polygon points="290.90,680.50 292.00,677.64 292.85,673.35 293.45,668.35 293.70,666.20 294.30,666.20 294.55,668.35 295.15,673.35 296.00,677.64 297.10,680.50"/><polygon points="299.90,680.50 301.00,676.76 301.85,671.15 302.45,664.61 302.70,661.80 303.30,661.80 303.55,664.61 304.15,671.15 305.00,676.76 306.10,680.50"/><polygon points="310.30,680.50 311.40,675.14 312.25,667.10 312.85,657.72 313.10,653.70 313.70,653.70 313.95,657.72 314.55,667.10 315.40,675.14 316.50,680.50"/><polygon points="322.60,680.50 323.70,677.74 324.55,673.60 325.15,668.77 325.40,666.70 326.00,666.70 326.25,668.77 326.85,673.60 327.70,677.74 328.80,680.50"/><polygon points="351.20,680.50 352.30,677.40 353.15,672.75 353.75,667.33 354.00,665.00 354.60,665.00 354.85,667.33 355.45,672.75 356.30,677.40 357.40,680.50"/><polygon points="372.90,680.50 374.00,676.76 374.85,671.15 375.45,664.61 375.70,661.80 376.30,661.80 376.55,664.61 377.15,671.15 378.00,676.76 379.10,680.50"/><polygon points="384.30,680.50 385.40,677.40 386.25,672.75 386.85,667.33 387.10,665.00 387.70,665.00 387.95,667.33 388.55,672.75 389.40,677.40 390.50,680.50"/><polygon points="435.60,680.50 436.70,678.92 437.55,676.55 438.15,673.78 438.40,672.60 439.00,672.60 439.25,673.78 439.85,676.55 440.70,678.92 441.80,680.50"/><polygon points="489.70,680.50 490.80,679.12 491.65,677.05 492.25,674.63 492.50,673.60 493.10,673.60 493.35,674.63 493.95,677.05 494.80,679.12 495.90,680.50"/><polygon points="528.60,680.50 529.70,676.74 530.55,671.10 531.15,664.52 531.40,661.70 532.00,661.70 532.25,664.52 532.85,671.10 533.70,676.74 534.80,680.50"/><polygon points="534.00,680.50 535.10,670.26 535.95,654.90 536.55,636.98 536.80,629.30 537.40,629.30 537.65,636.98 538.25,654.90 539.10,670.26 540.20,680.50"/><polygon points="539.50,680.50 540.60,676.74 541.45,671.10 542.05,664.52 542.30,661.70 542.90,661.70 543.15,664.52 543.75,671.10 544.60,676.74 545.70,680.50"/><polygon points="553.50,680.50 554.60,676.32 555.45,670.05 556.05,662.74 556.30,659.60 556.90,659.60 557.15,662.74 557.75,670.05 558.60,676.32 559.70,680.50"/><polygon points="564.30,680.50 565.40,678.70 566.25,676.00 566.85,672.85 567.10,671.50 567.70,671.50 567.95,672.85 568.55,676.00 569.40,678.70 570.50,680.50"/><polygon points="567.90,680.50 569.00,679.34 569.85,677.60 570.45,675.57 570.70,674.70 571.30,674.70 571.55,675.57 572.15,677.60 573.00,679.34 574.10,680.50"/><polygon points="678.40,680.50 679.50,679.56 680.35,678.15 680.95,676.50 681.20,675.80 681.80,675.80 682.05,676.50 682.65,678.15 683.50,679.56 684.60,680.50"/></g>
<line x1="32.4" y1="703.1" x2="720" y2="703.1" stroke="#ff0000" stroke-opacity="0.4" stroke-width="0.9"/>
<g fill="#ff0000"><polygon points="46.6,703.1 46.6,692.9 47.1,695.2 47.6,696.9 48.1,698.3 48.6,699.4 49.1,699.9 49.6,699.9 50.1,699.9 50.6,698.8 51.1,697.0 51.6,698.6 52.1,696.5 52.6,693.4 53.1,689.8 53.6,694.0 54.1,696.9 54.6,698.9 55.1,699.9 55.6,699.9 56.1,699.9 56.6,699.9 57.1,699.9 57.6,699.9 58.1,699.9 58.6,699.9 59.1,699.3 59.6,698.1 60.1,696.6 60.6,697.6 61.1,698.9 61.6,698.6 62.1,697.1 62.6,698.6 63.1,699.8 63.6,699.8 64.1,698.8 64.6,698.6 65.1,699.7 65.6,699.8 66.1,698.7 66.6,697.4 67.1,698.2 67.6,699.3 68.1,700.2 68.6,700.5 69.1,700.3 69.6,700.9 70.1,700.0 70.6,698.6 71.1,698.7 71.6,700.0 72.1,699.9 72.6,698.8 73.1,699.5 73.6,700.4 74.1,700.7 74.6,700.0 75.1,699.0 75.6,697.9 76.1,699.1 76.6,700.0 77.1,700.8 77.6,701.3 78.1,701.5 78.6,701.5 79.1,701.5 79.6,701.5 80.1,701.5 80.6,701.5 81.1,701.5 81.6,701.5 82.1,701.5 82.6,701.5 83.1,701.5 83.6,701.5 84.1,701.5 84.6,701.5 85.1,701.5 85.6,701.5 86.1,701.5 86.6,701.5 87.1,701.5 87.6,701.2 88.1,699.9 88.6,700.0 89.1,701.3 89.6,701.5 90.1,701.5 90.6,701.5 91.1,701.5 91.6,701.5 92.1,701.5 92.6,701.5 93.1,701.5 93.6,701.5 94.1,700.8 94.6,700.8 95.1,701.5 95.6,701.5 96.1,701.5 96.6,701.3 97.1,700.7 97.6,699.9 98.1,699.2 98.6,700.2 99.1,700.5 99.6,699.8 100.1,698.7 100.6,699.4 101.1,698.0 101.6,697.4 102.1,699.7 102.6,701.0 103.1,700.7 103.6,699.7 104.1,700.3 104.6,700.9 105.1,700.5 105.6,701.1 106.1,701.5 106.6,701.5 107.1,701.5 107.6,701.5 108.1,701.5 108.6,701.5 109.1,701.5 109.6,701.5 110.1,700.9 110.6,700.6 111.1,701.3 111.6,701.5 112.1,701.5 112.6,700.6 113.1,701.0 113.6,699.8 114.1,700.1 114.6,701.2 115.1,701.5 115.6,701.5 116.1,701.1 116.6,701.2 117.1,701.5 117.6,701.2 118.1,700.3 118.6,699.3 119.1,700.5 119.6,700.2 120.1,699.0 120.6,698.6 121.1,699.9 121.6,700.8 122.1,701.2 122.6,700.0 123.1,698.1 123.6,698.4 124.1,700.2 124.6,701.3 125.1,700.8 125.6,700.1 126.1,700.3 126.6,701.0 127.1,701.4 127.6,701.5 128.1,701.5 128.6,701.5 129.1,700.9 129.6,699.8 130.1,698.3 130.6,696.0 131.1,694.3 131.6,697.2 132.1,699.1 132.6,700.4 133.1,701.2 133.6,701.5 134.1,701.5 134.6,701.5 135.1,701.5 135.6,701.5 136.1,701.5 136.6,701.5 137.1,701.5 137.6,700.6 138.1,698.7 138.6,700.0 139.1,701.1 139.6,700.4 140.1,699.6 140.6,699.5 141.1,700.4 141.6,700.5 142.1,699.7 142.6,698.5 143.1,697.2 143.6,698.7 144.1,699.8 144.6,698.8 145.1,700.1 145.6,699.5 146.1,697.9 146.6,695.7 147.1,697.0 147.6,698.8 148.1,700.1 148.6,699.2 149.1,698.8 149.6,699.9 150.1,700.7 150.6,701.3 151.1,701.5 151.6,701.3 152.1,700.7 152.6,700.6 153.1,701.2 153.6,701.1 154.1,700.4 154.6,699.4 155.1,698.1 155.6,698.8 156.1,699.9 156.6,700.8 157.1,700.2 157.6,700.0 158.1,700.7 158.6,701.3 159.1,701.4 159.6,700.8 160.1,700.6 160.6,701.2 161.1,700.5 161.6,699.6 162.1,698.5 162.6,696.9 163.1,697.9 163.6,699.2 164.1,700.2 164.6,700.9 165.1,701.5 165.6,701.5 166.1,701.1 166.6,700.4 167.1,700.2 167.6,700.9 168.1,701.4 168.6,701.5 169.1,701.5 169.6,701.4 170.1,701.5 170.6,701.5 171.1,701.5 171.6,701.2 172.1,700.5 172.6,701.2 173.1,701.5 173.6,701.5 174.1,701.1 174.6,700.3 175.1,699.3 175.6,698.0 176.1,696.2 176.6,693.7 177.1,694.2 177.6,696.5 178.1,698.2 178.6,699.5 179.1,700.5 179.6,701.2 180.1,701.4 180.6,700.9 181.1,700.9 181.6,700.2 182.1,699.1 182.6,699.8 183.1,700.7 183.6,701.3 184.1,701.5 184.6,701.5 185.1,701.5 185.6,701.5 186.1,701.5 186.6,701.5 187.1,701.5 187.6,701.1 188.1,700.5 188.6,701.3 189.1,700.6 189.6,699.4 190.1,697.7 190.6,695.1 191.1,695.5 191.6,697.9 192.1,697.6 192.6,695.8 193.1,693.5 193.6,692.2 194.1,694.8 194.6,696.8 195.1,698.3 195.6,699.2 196.1,698.9 196.6,700.4 197.1,701.3 197.6,701.5 198.1,700.9 198.6,700.1 199.1,699.0 199.6,699.5 200.1,700.5 200.6,699.2 201.1,698.2 201.6,700.0 202.1,701.1 202.6,701.5 203.1,701.0 203.6,700.1 204.1,698.9 204.6,697.2 205.1,697.1 205.6,698.9 206.1,699.6 206.6,698.2 207.1,697.6 207.6,699.1 208.1,697.9 208.6,696.6 209.1,698.4 209.6,699.8 210.1,698.8 210.6,696.1 211.1,691.6 211.6,695.8 212.1,698.6 212.6,699.8 213.1,698.7 213.6,697.3 214.1,696.5 214.6,698.1 215.1,699.4 215.6,700.3 216.1,700.9 216.6,700.0 217.1,700.3 217.6,701.1 218.1,701.5 218.6,701.3 219.1,700.1 219.6,698.1 220.1,699.4 220.6,700.9 221.1,700.8 221.6,699.4 222.1,698.8 222.6,700.4 223.1,700.9 223.6,699.6 224.1,700.0 224.6,698.4 225.1,697.4 225.6,699.4 226.1,700.6 226.6,701.5 227.1,701.5 227.6,701.0 228.1,700.0 228.6,698.4 229.1,695.9 229.6,692.2 230.1,695.3 230.6,697.9 231.1,699.7 231.6,700.8 232.1,700.1 232.6,699.1 233.1,697.9 233.6,696.4 234.1,697.8 234.6,699.0 235.1,700.0 235.6,700.7 236.1,700.9 236.6,700.3 237.1,699.5 237.6,698.5 238.1,697.2 238.6,696.5 239.1,697.9 239.6,699.1 240.1,700.0 240.6,700.7 241.1,699.9 241.6,698.6 242.1,696.7 242.6,696.8 243.1,698.6 243.6,699.9 244.1,700.3 244.6,699.4 245.1,698.3 245.6,698.5 246.1,699.5 246.6,699.7 247.1,698.5 247.6,699.7 248.1,700.7 248.6,701.3 249.1,701.5 249.6,701.5 250.1,701.5 250.6,701.5 251.1,701.5 251.6,701.5 252.1,701.5 252.6,701.5 253.1,701.5 253.6,700.6 254.1,699.1 254.6,698.8 255.1,700.4 255.6,700.8 256.1,700.1 256.6,701.0 257.1,701.5 257.6,701.5 258.1,701.5 258.6,701.5 259.1,701.5 259.6,701.5 260.1,701.5 260.6,701.5 261.1,701.5 261.6,701.5 262.1,701.5 262.6,700.9 263.1,701.1 263.6,701.5 264.1,701.5 264.6,701.5 265.1,701.5 265.6,701.4 266.1,700.8 266.6,700.1 267.1,699.1 267.6,697.8 268.1,698.8 268.6,699.8 269.1,700.6 269.6,701.2 270.1,701.5 270.6,701.3 271.1,700.7 271.6,700.0 272.1,700.3 272.6,700.9 273.1,700.2 273.6,700.2 274.1,701.0 274.6,701.5 275.1,700.8 275.6,700.6 276.1,701.3 276.6,701.5 277.1,701.5 277.6,701.5 278.1,701.1 278.6,701.4 279.1,700.9 279.6,700.2 280.1,699.5 280.6,699.6 281.1,698.5 281.6,697.0 282.1,697.9 282.6,699.1 283.1,700.1 283.6,700.8 284.1,701.0 284.6,701.4 285.1,701.5 285.6,701.5 286.1,701.5 286.6,701.5 287.1,701.5 287.6,701.2 288.1,700.6 288.6,699.7 289.1,698.5 289.6,696.9 290.1,695.1 290.6,692.5 291.1,685.2 291.6,689.7 292.1,695.1 292.6,695.1 293.1,695.1 293.6,695.1 294.1,695.1 294.6,692.9 295.1,686.7 295.6,676.9 296.1,685.2 296.6,691.0 297.1,688.1 297.6,692.5 298.1,695.1 298.6,695.1 299.1,695.1 299.6,695.1 300.1,695.1 300.6,695.1 301.1,695.1 301.6,693.4 302.1,688.9 302.6,682.5 303.1,673.1 303.6,659.4 304.1,661.2 304.6,674.3 305.1,683.3 305.6,688.3 306.1,683.5 306.6,684.2 307.1,688.9 307.6,692.4 308.1,695.0 308.6,694.2 309.1,691.0 309.6,693.7 310.1,696.2 310.6,698.0 311.1,699.3 311.6,696.8 312.1,696.5 312.6,698.3 313.1,696.0 313.6,694.0 314.1,697.0 314.6,698.9 315.1,698.5 315.6,697.2 316.1,695.5 316.6,695.0 317.1,696.8 317.6,698.2 318.1,699.3 318.6,700.1 319.1,700.7 319.6,700.7 320.1,700.7 320.6,700.5 321.1,699.0 321.6,698.8 322.1,700.4 322.6,700.7 323.1,700.7 323.6,700.7 324.1,700.7 324.6,700.7 325.1,700.7 325.6,700.5 326.1,699.5 326.6,698.8 327.1,699.9 327.6,700.3 328.1,699.2 328.6,697.8 329.1,695.9 329.6,697.9 330.1,699.3 330.6,700.3 331.1,699.8 331.6,698.9 332.1,697.6 332.6,696.0 333.1,694.0 333.6,691.3 334.1,687.8 334.6,689.2 335.1,692.4 335.6,694.8 336.1,696.7 336.6,698.1 337.1,699.3 337.6,700.1 338.1,700.7 338.6,700.7 339.1,700.7 339.6,700.7 340.1,700.7 340.6,700.7 341.1,700.7 341.6,700.7 342.1,700.7 342.6,699.8 343.1,698.2 343.6,697.2 344.1,699.1 344.6,700.3 345.1,700.7 345.6,700.7 346.1,700.5 346.6,699.5 347.1,699.5 347.6,699.7 348.1,698.4 348.6,699.6 349.1,700.6 349.6,700.7 350.1,700.7 350.6,700.7 351.1,700.7 351.6,700.7 352.1,700.7 352.6,700.7 353.1,699.8 353.6,698.7 354.1,699.9 354.6,700.7 355.1,700.5 355.6,699.3 356.1,699.4 356.6,700.6 357.1,699.8 357.6,698.6 358.1,697.0 358.6,695.7 359.1,697.6 359.6,699.1 360.1,700.1 360.6,700.7 361.1,700.7 361.6,700.7 362.1,700.7 362.6,700.7 363.1,700.7 363.6,700.7 364.1,700.7 364.6,700.7 365.1,700.7 365.6,700.7 366.1,700.7 366.6,700.7 367.1,700.7 367.6,700.7 368.1,700.4 368.6,699.5 369.1,698.3 369.6,696.9 370.1,698.5 370.6,697.0 371.1,694.7 371.6,696.0 372.1,697.9 372.6,699.3 373.1,700.4 373.6,699.5 374.1,698.3 374.6,696.8 375.1,694.7 375.6,696.5 376.1,695.4 376.6,693.8 377.1,696.2 377.6,698.0 378.1,699.3 378.6,700.3 379.1,699.6 379.6,698.5 380.1,697.0 380.6,695.1 381.1,696.8 381.6,694.7 382.1,693.3 382.6,695.8 383.1,697.6 383.6,699.0 384.1,700.1 384.6,700.7 385.1,700.7 385.6,700.7 386.1,700.7 386.6,700.7 387.1,700.0 387.6,698.7 388.1,696.9 388.6,694.2 389.1,695.4 389.6,697.7 390.1,699.3 390.6,700.4 391.1,700.7 391.6,700.7 392.1,700.7 392.6,699.5 393.1,697.4 393.6,695.8 394.1,698.5 394.6,700.2 395.1,700.7 395.6,700.7 396.1,700.7 396.6,700.7 397.1,700.4 397.6,699.5 398.1,698.3 398.6,696.6 399.1,697.8 399.6,699.1 400.1,699.7 400.6,699.7 401.1,698.3 401.6,698.8 402.1,700.1 402.6,700.7 403.1,700.7 403.6,700.7 404.1,700.7 404.6,700.4 405.1,699.2 405.6,697.3 406.1,694.6 406.6,696.4 407.1,698.6 407.6,697.4 408.1,693.8 408.6,688.1 409.1,693.8 409.6,697.3 410.1,699.5 410.6,699.1 411.1,697.7 411.6,697.9 412.1,698.9 412.6,697.7 413.1,698.6 413.6,699.6 414.1,700.4 414.6,700.7 415.1,700.7 415.6,700.7 416.1,700.7 416.6,700.7 417.1,700.7 417.6,700.7 418.1,700.7 418.6,700.7 419.1,700.7 419.6,700.7 420.1,701.9 420.6,701.9 421.1,701.9 421.6,701.9 422.1,701.9 422.6,701.9 423.1,701.9 423.6,701.9 424.1,701.5 424.6,700.5 425.1,698.6 425.6,695.4 426.1,698.1 426.6,700.2 427.1,701.4 427.6,701.3 428.1,700.7 428.6,701.4 429.1,701.9 429.6,701.9 430.1,701.5 430.6,700.9 431.1,700.1 431.6,699.7 432.1,700.6 432.6,701.3 433.1,701.7 433.6,701.9 434.1,701.9 434.6,701.5 435.1,700.8 435.6,701.6 436.1,701.9 436.6,701.9 437.1,701.9 437.6,701.7 438.1,701.7 438.6,701.0 439.1,700.0 439.6,700.0 440.1,701.0 440.6,701.7 441.1,701.9 441.6,701.9 442.1,701.9 442.6,701.9 443.1,701.9 443.6,701.9 444.1,701.9 444.6,701.9 445.1,701.9 445.6,701.9 446.1,701.9 446.6,701.9 447.1,701.9 447.6,701.9 448.1,701.9 448.6,701.7 449.1,701.1 449.6,700.9 450.1,701.6 450.6,701.8 451.1,701.0 451.6,700.8 452.1,701.7 452.6,701.9 453.1,701.9 453.6,701.9 454.1,701.8 454.6,701.9 455.1,701.9 455.6,701.9 456.1,701.9 456.6,701.9 457.1,701.9 457.6,701.9 458.1,701.9 458.6,701.9 459.1,701.8 459.6,701.9 460.1,701.9 460.6,701.9 461.1,701.9 461.6,701.8 462.1,701.4 462.6,700.9 463.1,700.2 463.6,699.2 464.1,698.7 464.6,699.7 465.1,700.6 465.6,701.2 466.1,701.6 466.6,701.9 467.1,701.9 467.6,701.9 468.1,701.8 468.6,701.4 469.1,700.8 469.6,701.4 470.1,701.8 470.6,701.9 471.1,701.8 471.6,701.4 472.1,701.0 472.6,700.6 473.1,699.8 473.6,698.9 474.1,699.2 474.6,700.1 475.1,700.8 475.6,701.3 476.1,701.7 476.6,701.8 477.1,701.2 477.6,700.3 478.1,698.8 478.6,698.6 479.1,700.1 479.6,701.1 480.1,701.8 480.6,701.9 481.1,701.9 481.6,701.9 482.1,701.9 482.6,701.9 483.1,701.9 483.6,701.9 484.1,701.9 484.6,701.9 485.1,701.9 485.6,701.5 486.1,701.0 486.6,700.4 487.1,700.6 487.6,701.2 488.1,701.4 488.6,700.3 489.1,700.6 489.6,700.9 490.1,699.6 490.6,700.8 491.1,701.6 491.6,701.1 492.1,700.5 492.6,700.9 493.1,701.5 493.6,700.9 494.1,700.2 494.6,700.5 495.1,701.2 495.6,701.5 496.1,701.0 496.6,701.5 497.1,701.0 497.6,700.4 498.1,699.5 498.6,698.4 499.1,698.7 499.6,699.7 500.1,700.5 500.6,701.1 501.1,701.6 501.6,701.5 502.1,701.1 502.6,700.5 503.1,699.7 503.6,700.2 504.1,700.9 504.6,701.4 505.1,701.8 505.6,701.9 506.1,701.9 506.6,701.9 507.1,701.9 507.6,701.7 508.1,701.3 508.6,701.8 509.1,701.9 509.6,701.7 510.1,701.1 510.6,700.4 511.1,699.5 511.6,698.1 512.1,696.3 512.6,695.8 513.1,697.7 513.6,699.2 514.1,700.2 514.6,701.0 515.1,699.1 515.6,699.1 516.1,699.1 516.6,698.0 517.1,696.5 517.6,694.5 518.1,696.1 518.6,697.7 519.1,696.0 519.6,692.0 520.1,694.7 520.6,694.3 521.1,691.8 521.6,689.4 522.1,692.5 522.6,694.9 523.1,696.7 523.6,694.0 524.1,689.9 524.6,685.8 525.1,691.2 525.6,694.9 526.1,697.5 526.6,698.9 527.1,699.1 527.6,699.1 528.1,699.1 528.6,699.1 529.1,698.5 529.6,695.8 530.1,695.8 530.6,694.1 531.1,691.1 531.6,687.0 532.1,681.6 532.6,674.5 533.1,679.8 533.6,685.6 534.1,690.0 534.6,693.3 535.1,695.8 535.6,697.6 536.1,699.0 536.6,699.1 537.1,699.1 537.6,699.1 538.1,699.1 538.6,699.1 539.1,699.1 539.6,699.1 540.1,698.5 540.6,697.5 541.1,698.7 541.6,699.1 542.1,699.1 542.6,699.1 543.1,699.1 543.6,699.1 544.1,699.1 544.6,699.1 545.1,699.1 545.6,699.1 546.1,699.1 546.6,699.1 547.1,699.1 547.6,699.1 548.1,699.1 548.6,699.1 549.1,699.1 549.6,699.1 550.1,701.8 550.6,701.9 551.1,702.2 551.6,702.0 552.1,701.6 552.6,701.5 553.1,702.0 553.6,702.3 554.1,702.5 554.6,702.5 555.1,702.5 555.6,702.5 556.1,702.5 556.6,702.5 557.1,702.3 557.6,702.0 558.1,701.6 558.6,701.4 559.1,701.8 559.6,702.2 560.1,702.4 560.6,702.5 561.1,702.5 561.6,702.3 562.1,702.1 562.6,702.4 563.1,702.5 563.6,702.5 564.1,702.4 564.6,702.2 565.1,702.5 565.6,702.2 566.1,701.9 566.6,701.4 567.1,700.8 567.6,699.9 568.1,698.6 568.6,699.8 569.1,700.8 569.6,701.4 570.1,701.9 570.6,702.2 571.1,702.4 571.6,702.5 572.1,702.3 572.6,701.8 573.1,701.0 573.6,699.7 574.1,699.9 574.6,701.1 575.1,701.9 575.6,702.3 576.1,702.5 576.6,702.5 577.1,702.5 577.6,702.5 578.1,702.5 578.6,702.5 579.1,702.5 579.6,702.4 580.1,702.2 580.6,701.9 581.1,701.5 581.6,701.9 582.1,702.1 582.6,702.4 583.1,702.5 583.6,702.5 584.1,702.5 584.6,702.5 585.1,702.5 585.6,702.5 586.1,702.5 586.6,702.4 587.1,702.5 587.6,702.5 588.1,702.5 588.6,702.2 589.1,701.8 589.6,701.1 590.1,701.3 590.6,701.9 591.1,702.2 591.6,701.9 592.1,701.6 592.6,702.0 593.1,702.3 593.6,702.5 594.1,702.5 594.6,702.4 595.1,702.5 595.6,702.5 596.1,702.5 596.6,702.5 597.1,702.3 597.6,702.0 598.1,701.9 598.6,702.2 599.1,702.5 599.6,702.5 600.1,702.5 600.6,702.5 601.1,702.5 601.6,702.5 602.1,702.5 602.6,702.5 603.1,702.4 603.6,702.5 604.1,702.2 604.6,701.7 605.1,700.7 605.6,701.6 606.1,702.2 606.6,702.5 607.1,702.5 607.6,702.5 608.1,702.5 608.6,702.5 609.1,702.2 609.6,701.6 610.1,701.1 610.6,701.9 611.1,702.3 611.6,702.1 612.1,701.7 612.6,701.3 613.1,700.7 613.6,699.9 614.1,700.1 614.6,700.9 615.1,701.4 615.6,701.8 616.1,702.1 616.6,702.4 617.1,702.5 617.6,702.5 618.1,702.2 618.6,701.8 619.1,701.2 619.6,700.7 620.1,701.4 620.6,701.9 621.1,702.3 621.6,702.3 622.1,702.5 622.6,702.3 623.1,701.8 623.6,702.3 624.1,702.4 624.6,702.2 625.1,702.3 625.6,702.3 626.1,701.8 626.6,700.9 627.1,701.5 627.6,702.1 628.1,702.5 628.6,702.5 629.1,702.5 629.6,702.5 630.1,702.5 630.6,702.4 631.1,702.2 631.6,702.4 632.1,702.5 632.6,702.2 633.1,701.6 633.6,701.6 634.1,702.2 634.6,702.5 635.1,702.2 635.6,702.1 636.1,702.3 636.6,702.4 637.1,702.2 637.6,701.9 638.1,701.6 638.6,701.2 639.1,700.6 639.6,699.9 640.1,700.4 640.6,701.0 641.1,701.4 641.6,701.8 642.1,702.1 642.6,702.3 643.1,702.0 643.6,702.2 644.1,702.5 644.6,702.5 645.1,702.3 645.6,702.0 646.1,701.7 646.6,701.3 647.1,700.7 647.6,700.0 648.1,699.1 648.6,699.5 649.1,700.4 649.6,701.0 650.1,701.3 650.6,700.6 651.1,701.0 651.6,701.6 652.1,702.0 652.6,702.3 653.1,702.5 653.6,702.5 654.1,702.5 654.6,702.5 655.1,702.0 655.6,701.3 656.1,701.8 656.6,702.2 657.1,701.9 657.6,701.3 658.1,701.6 658.6,702.0 659.1,702.0 659.6,701.4 660.1,701.9 660.6,702.3 661.1,702.5 661.6,702.5 662.1,702.3 662.6,702.0 663.1,701.6 663.6,701.0 664.1,700.1 664.6,700.8 665.1,700.1 665.6,699.2 666.1,699.6 666.6,700.4 667.1,701.0 667.6,700.8 668.1,699.9 668.6,699.0 669.1,700.2 669.6,701.1 670.1,701.7 670.6,702.1 671.1,702.4 671.6,702.5 672.1,702.3 672.6,702.1 673.1,701.8 673.6,701.3 674.1,701.4 674.6,701.8 675.1,702.1 675.6,702.4 676.1,702.5 676.6,702.5 677.1,702.5 677.6,702.4 678.1,702.5 678.1,703.1"/><polygon points="46.40,703.10 47.50,698.72 48.35,692.15 48.95,684.49 49.20,681.20 49.80,681.20 50.05,684.49 50.65,692.15 51.50,698.72 52.60,703.10"/><polygon points="48.30,703.10 49.40,699.68 50.25,694.55 50.85,688.57 51.10,686.00 51.70,686.00 51.95,688.57 52.55,694.55 53.40,699.68 54.50,703.10"/><polygon points="72.10,703.10 73.20,678.02 73.75,640.40 74.05,590.24 74.30,577.70 74.90,577.70 75.15,590.24 75.45,640.40 76.00,678.02 77.10,703.10"/><polygon points="70.70,703.10 70.70,700.44 71.02,698.54 71.35,695.63 71.67,691.43 72.00,685.71 72.32,678.37 72.65,669.55 72.97,659.67 73.30,649.45 73.62,639.87 73.95,632.00 74.27,626.81 74.30,625.00 74.60,625.00 74.90,625.00 74.92,626.81 75.25,632.00 75.57,639.87 75.90,649.45 76.22,659.67 76.55,669.55 76.88,678.37 77.20,685.71 77.52,691.43 77.85,695.63 78.17,698.54 78.50,700.44 78.50,703.10"/><polygon points="96.90,703.10 98.00,659.58 98.55,594.30 98.85,507.26 99.10,485.50 99.70,485.50 99.95,507.26 100.25,594.30 100.80,659.58 101.90,703.10"/><polygon points="96.72,703.10 96.72,696.70 97.00,692.11 97.28,685.11 97.56,675.00 97.85,661.22 98.13,643.55 98.41,622.30 98.69,598.50 98.97,573.89 99.25,550.82 99.54,531.86 99.82,519.36 99.80,515.00 100.10,515.00 100.40,515.00 100.38,519.36 100.66,531.86 100.94,550.82 101.23,573.89 101.51,598.50 101.79,622.30 102.07,643.55 102.35,661.22 102.63,675.00 102.92,685.11 103.20,692.11 103.48,696.70 103.48,703.10"/><polygon points="127.90,703.10 129.00,701.16 129.85,698.25 130.45,694.86 130.70,693.40 131.30,693.40 131.55,694.86 132.15,698.25 133.00,701.16 134.10,703.10"/><polygon points="150.90,703.10 152.00,700.18 152.85,695.80 153.45,690.69 153.70,688.50 154.30,688.50 154.55,690.69 155.15,695.80 156.00,700.18 157.10,703.10"/><polygon points="150.30,703.10 151.40,700.08 152.25,695.55 152.85,690.26 153.10,688.00 153.70,688.00 153.95,690.26 154.55,695.55 155.40,700.08 156.50,703.10"/><polygon points="179.10,703.10 180.20,701.02 181.05,697.90 181.65,694.26 181.90,692.70 182.50,692.70 182.75,694.26 183.35,697.90 184.20,701.02 185.30,703.10"/><polygon points="198.40,703.10 199.50,700.82 200.35,697.40 200.95,693.41 201.20,691.70 201.80,691.70 202.05,693.41 202.65,697.40 203.50,700.82 204.60,703.10"/><polygon points="222.70,703.10 223.80,700.08 224.65,695.55 225.25,690.26 225.50,688.00 226.10,688.00 226.35,690.26 226.95,695.55 227.80,700.08 228.90,703.10"/><polygon points="250.70,703.10 251.80,699.32 252.65,693.65 253.25,687.04 253.50,684.20 254.10,684.20 254.35,687.04 254.95,693.65 255.80,699.32 256.90,703.10"/><polygon points="255.20,703.10 256.30,699.68 257.15,694.55 257.75,688.57 258.00,686.00 258.60,686.00 258.85,688.57 259.45,694.55 260.30,699.68 261.40,703.10"/><polygon points="263.90,703.10 265.00,699.12 265.85,693.15 266.45,686.19 266.70,683.20 267.30,683.20 267.55,686.19 268.15,693.15 269.00,699.12 270.10,703.10"/><polygon points="272.90,703.10 274.00,689.08 274.85,668.05 275.45,643.51 275.70,633.00 276.30,633.00 276.55,643.51 277.15,668.05 278.00,689.08 279.10,703.10"/><polygon points="278.50,703.10 279.60,694.02 280.45,680.40 281.05,664.51 281.30,657.70 281.90,657.70 282.15,664.51 282.75,680.40 283.60,694.02 284.70,703.10"/><polygon points="285.20,703.10 286.30,701.20 287.15,698.35 287.75,695.02 288.00,693.60 288.60,693.60 288.85,695.02 289.45,698.35 290.30,701.20 291.40,703.10"/><polygon points="290.90,703.10 292.00,699.68 292.85,694.55 293.45,688.57 293.70,686.00 294.30,686.00 294.55,688.57 295.15,694.55 296.00,699.68 297.10,703.10"/><polygon points="296.60,703.10 297.70,695.48 298.55,684.05 299.15,670.72 299.40,665.00 300.00,665.00 300.25,670.72 300.85,684.05 301.70,695.48 302.80,703.10"/><polygon points="302.50,703.10 303.60,697.44 304.45,688.95 305.05,679.04 305.30,674.80 305.90,674.80 306.15,679.04 306.75,688.95 307.60,697.44 308.70,703.10"/><polygon points="335.60,703.10 336.70,700.04 337.55,695.45 338.15,690.09 338.40,687.80 339.00,687.80 339.25,690.09 339.85,695.45 340.70,700.04 341.80,703.10"/><polygon points="345.30,703.10 346.40,700.04 347.25,695.45 347.85,690.09 348.10,687.80 348.70,687.80 348.95,690.09 349.55,695.45 350.40,700.04 351.50,703.10"/><polygon points="374.60,703.10 375.70,698.74 376.55,692.20 377.15,684.57 377.40,681.30 378.00,681.30 378.25,684.57 378.85,692.20 379.70,698.74 380.80,703.10"/><polygon points="470.20,703.10 471.30,701.76 472.15,699.75 472.75,697.40 473.00,696.40 473.60,696.40 473.85,697.40 474.45,699.75 475.30,701.76 476.40,703.10"/><polygon points="517.80,703.10 518.90,699.16 519.75,693.25 520.35,686.36 520.60,683.40 521.20,683.40 521.45,686.36 522.05,693.25 522.90,699.16 524.00,703.10"/><polygon points="522.10,703.10 523.20,694.18 524.05,680.80 524.65,665.19 524.90,658.50 525.50,658.50 525.75,665.19 526.35,680.80 527.20,694.18 528.30,703.10"/><polygon points="526.90,703.10 528.00,698.50 528.85,691.60 529.45,683.55 529.70,680.10 530.30,680.10 530.55,683.55 531.15,691.60 532.00,698.50 533.10,703.10"/><polygon points="539.90,703.10 541.00,698.94 541.85,692.70 542.45,685.42 542.70,682.30 543.30,682.30 543.55,685.42 544.15,692.70 545.00,698.94 546.10,703.10"/><polygon points="541.60,703.10 542.70,700.02 543.55,695.40 544.15,690.01 544.40,687.70 545.00,687.70 545.25,690.01 545.85,695.40 546.70,700.02 547.80,703.10"/><polygon points="666.50,703.10 667.60,702.40 668.45,701.35 669.05,700.12 669.30,699.60 669.90,699.60 670.15,700.12 670.75,701.35 671.60,702.40 672.70,703.10"/></g>
<text x="66.1" y="710.4" font-size="7.6" font-weight="normal" text-anchor="middle" dominant-baseline="central" fill="#1a1a1a">8.00</text>
<text x="112.39999999999999" y="710.4" font-size="7.6" font-weight="normal" text-anchor="middle" dominant-baseline="central" fill="#1a1a1a">10.00</text>
<text x="158.7" y="710.4" font-size="7.6" font-weight="normal" text-anchor="middle" dominant-baseline="central" fill="#1a1a1a">12.00</text>
<text x="205.0" y="710.4" font-size="7.6" font-weight="normal" text-anchor="middle" dominant-baseline="central" fill="#1a1a1a">14.00</text>
<text x="251.3" y="710.4" font-size="7.6" font-weight="normal" text-anchor="middle" dominant-baseline="central" fill="#1a1a1a">16.00</text>
<text x="297.6" y="710.4" font-size="7.6" font-weight="normal" text-anchor="middle" dominant-baseline="central" fill="#1a1a1a">18.00</text>
<text x="343.9" y="710.4" font-size="7.6" font-weight="normal" text-anchor="middle" dominant-baseline="central" fill="#1a1a1a">20.00</text>
<text x="390.2" y="710.4" font-size="7.6" font-weight="normal" text-anchor="middle" dominant-baseline="central" fill="#1a1a1a">22.00</text>
<text x="436.5" y="710.4" font-size="7.6" font-weight="normal" text-anchor="middle" dominant-baseline="central" fill="#1a1a1a">24.00</text>
<text x="482.8" y="710.4" font-size="7.6" font-weight="normal" text-anchor="middle" dominant-baseline="central" fill="#1a1a1a">26.00</text>
<text x="529.0999999999999" y="710.4" font-size="7.6" font-weight="normal" text-anchor="middle" dominant-baseline="central" fill="#1a1a1a">28.00</text>
<text x="575.3999999999999" y="710.4" font-size="7.6" font-weight="normal" text-anchor="middle" dominant-baseline="central" fill="#1a1a1a">30.00</text>
<text x="621.6999999999998" y="710.4" font-size="7.6" font-weight="normal" text-anchor="middle" dominant-baseline="central" fill="#1a1a1a">32.00</text>
<text x="667.9999999999999" y="710.4" font-size="7.6" font-weight="normal" text-anchor="middle" dominant-baseline="central" fill="#1a1a1a">34.00</text>
<text x="714.2999999999998" y="710.4" font-size="7.6" font-weight="normal" text-anchor="middle" dominant-baseline="central" fill="#1a1a1a">36.00</text>
<text x="726.9" y="616.4" font-size="14.5" font-weight="bold" fill="#111" textLength="61.9" lengthAdjust="spacingAndGlyphs">Elands +</text>
<text x="726.2" y="637.8" font-size="14.5" font-weight="bold" fill="#111" textLength="63.7" lengthAdjust="spacingAndGlyphs">Gariep +</text>
<text x="726" y="662.4" font-size="14.5" font-weight="bold" fill="#111" textLength="83.6" lengthAdjust="spacingAndGlyphs">Matlabas +</text>
<text x="726" y="686.7" font-size="14.5" font-weight="bold" fill="#111" textLength="70.4" lengthAdjust="spacingAndGlyphs">Koonap +</text>
<text x="725.5" y="709.2" font-size="14.5" font-weight="bold" fill="#111" textLength="59.8" lengthAdjust="spacingAndGlyphs">Senqu +</text>

<text x="20" y="121" font-size="7.2" font-weight="normal" text-anchor="middle" dominant-baseline="central" fill="#222">100</text>

<text x="24" y="351" font-size="7.2" font-weight="normal" text-anchor="middle" dominant-baseline="central" fill="#222">0</text>

<text x="0" y="0" font-size="7" fill="#222" transform="translate(26,236) rotate(-90)" text-anchor="middle">%</text>
<text x="24" y="474" font-size="7.2" font-weight="normal" text-anchor="middle" dominant-baseline="central" fill="#222">100</text>

<text x="28" y="703.7" font-size="7.2" font-weight="normal" text-anchor="middle" dominant-baseline="central" fill="#222">0</text>

<text x="0" y="0" font-size="7" fill="#222" transform="translate(31,589) rotate(-90)" text-anchor="middle">%</text>
<rect x="9" y="188.6" width="2" height="2" fill="#ff00ff"/>
<rect x="13.3" y="541.4" width="2" height="2" fill="#ff00ff"/>
<rect x="720.5" y="343.5" width="23" height="20.5" fill="none" stroke="#d0d0d0" stroke-width="1"/>
<rect x="725.5" y="693.5" width="24" height="20.5" fill="none" stroke="#d0d0d0" stroke-width="1"/>
<text transform="translate(289,20.4) scale(1,0.88)" x="0" y="0" font-size="12.5" font-weight="bold" text-anchor="middle" dominant-baseline="central" fill="#1a1a1a">17.08</text>

<text transform="translate(289,36.4) scale(1,0.88)" x="0" y="0" font-size="12.5" font-weight="bold" text-anchor="middle" dominant-baseline="central" fill="#1a1a1a">563.1561</text>

<text transform="translate(349.5,72.4) scale(1,0.88)" x="0" y="0" font-size="12.5" font-weight="bold" text-anchor="middle" dominant-baseline="central" fill="#1a1a1a">17.34</text>

<text transform="translate(350,88.4) scale(1,0.88)" x="0" y="0" font-size="12.5" font-weight="bold" text-anchor="middle" dominant-baseline="central" fill="#1a1a1a">593.1484</text>

<text transform="translate(277,121.4) scale(1,0.88)" x="0" y="0" font-size="12.5" font-weight="bold" text-anchor="middle" dominant-baseline="central" fill="#1a1a1a">15.35</text>

<text transform="translate(277,137.4) scale(1,0.88)" x="0" y="0" font-size="12.5" font-weight="bold" text-anchor="middle" dominant-baseline="central" fill="#1a1a1a">305.1094</text>

<text transform="translate(382.5,140.4) scale(1,0.88)" x="0" y="0" font-size="12.5" font-weight="bold" text-anchor="middle" dominant-baseline="central" fill="#1a1a1a">18.76</text>

<text transform="translate(382.5,155.9) scale(1,0.88)" x="0" y="0" font-size="12.5" font-weight="bold" text-anchor="middle" dominant-baseline="central" fill="#1a1a1a">607.1619</text>

<text transform="translate(173.5,174.4) scale(1,0.88)" x="0" y="0" font-size="12.5" font-weight="bold" text-anchor="middle" dominant-baseline="central" fill="#1a1a1a">10.85</text>

<text transform="translate(173,190.4) scale(1,0.88)" x="0" y="0" font-size="12.5" font-weight="bold" text-anchor="middle" dominant-baseline="central" fill="#1a1a1a">371.0931</text>

<text transform="translate(102.5,181.4) scale(1,0.88)" x="0" y="0" font-size="12.5" font-weight="bold" text-anchor="middle" dominant-baseline="central" fill="#1a1a1a">8.92</text>

<text transform="translate(102.5,197.4) scale(1,0.88)" x="0" y="0" font-size="12.5" font-weight="bold" text-anchor="middle" dominant-baseline="central" fill="#1a1a1a">488.1367</text>

<text transform="translate(233.5,183.4) scale(1,0.88)" x="0" y="0" font-size="12.5" font-weight="bold" text-anchor="middle" dominant-baseline="central" fill="#1a1a1a">14.58</text>

<text transform="translate(233.8,199.4) scale(1,0.88)" x="0" y="0" font-size="12.5" font-weight="bold" text-anchor="middle" dominant-baseline="central" fill="#1a1a1a">502.1526</text>

<text transform="translate(75.5,220.4) scale(1,0.88)" x="0" y="0" font-size="12.5" font-weight="bold" text-anchor="middle" dominant-baseline="central" fill="#1a1a1a">8.37;326.1215</text>

<text transform="translate(468,43.4) scale(1,0.88)" x="0" y="0" font-size="12.5" font-weight="bold" text-anchor="middle" dominant-baseline="central" fill="#1a1a1a">23.61</text>

<text transform="translate(467.75,59.4) scale(1,0.88)" x="0" y="0" font-size="12.5" font-weight="bold" text-anchor="middle" dominant-baseline="central" fill="#1a1a1a">327.2171</text>

<text transform="translate(418.9,176.20000000000002) scale(1,0.88)" x="0" y="0" font-size="12.5" font-weight="bold" text-anchor="middle" dominant-baseline="central" fill="#1a1a1a">21.46</text>

<text transform="translate(418.4,192.0) scale(1,0.88)" x="0" y="0" font-size="12.5" font-weight="bold" text-anchor="middle" dominant-baseline="central" fill="#1a1a1a">675.2649</text>

<text transform="translate(510,157.4) scale(1,0.88)" x="0" y="0" font-size="12.5" font-weight="bold" text-anchor="middle" dominant-baseline="central" fill="#1a1a1a">24.25</text>

<text transform="translate(509,172.9) scale(1,0.88)" x="0" y="0" font-size="12.5" font-weight="bold" text-anchor="middle" dominant-baseline="central" fill="#1a1a1a">329.2249</text>

<text transform="translate(588,142.9) scale(1,0.88)" x="0" y="0" font-size="12.5" font-weight="bold" text-anchor="middle" dominant-baseline="central" fill="#1a1a1a">28.78</text>

<text transform="translate(587.75,157.4) scale(1,0.88)" x="0" y="0" font-size="12.5" font-weight="bold" text-anchor="middle" dominant-baseline="central" fill="#1a1a1a">559.3115</text>

<text transform="translate(619,182.4) scale(1,0.88)" x="0" y="0" font-size="12.5" font-weight="bold" text-anchor="middle" dominant-baseline="central" fill="#1a1a1a">28.89</text>

<text transform="translate(619,197.9) scale(1,0.88)" x="0" y="0" font-size="12.5" font-weight="bold" text-anchor="middle" dominant-baseline="central" fill="#1a1a1a">431.2150</text>

<text transform="translate(511,217.4) scale(1,0.88)" x="0" y="0" font-size="12.5" font-weight="bold" text-anchor="middle" dominant-baseline="central" fill="#1a1a1a">25.46</text>

<text transform="translate(510.75,232.4) scale(1,0.88)" x="0" y="0" font-size="12.5" font-weight="bold" text-anchor="middle" dominant-baseline="central" fill="#1a1a1a">243.1573</text>

<text transform="translate(689,209.9) scale(1,0.88)" x="0" y="0" font-size="12.5" font-weight="bold" text-anchor="middle" dominant-baseline="central" fill="#1a1a1a">32.02</text>

<text transform="translate(688,225.4) scale(1,0.88)" x="0" y="0" font-size="12.5" font-weight="bold" text-anchor="middle" dominant-baseline="central" fill="#1a1a1a">333.2249</text>

<text transform="translate(146,434.4) scale(1,0.88)" x="0" y="0" font-size="12.5" font-weight="bold" text-anchor="middle" dominant-baseline="central" fill="#1a1a1a">11.47</text>

<text transform="translate(146.25,449.9) scale(1,0.88)" x="0" y="0" font-size="12.5" font-weight="bold" text-anchor="middle" dominant-baseline="central" fill="#1a1a1a">188.0730</text>

<text transform="translate(93.75,479.9) scale(1,0.88)" x="0" y="0" font-size="12.5" font-weight="bold" text-anchor="middle" dominant-baseline="central" fill="#1a1a1a">10.35</text>

<text transform="translate(94,495.59999999999997) scale(1,0.88)" x="0" y="0" font-size="12.5" font-weight="bold" text-anchor="middle" dominant-baseline="central" fill="#1a1a1a">120.0829</text>

<text transform="translate(70.3,561.9) scale(1,0.88)" x="0" y="0" font-size="12.5" font-weight="bold" text-anchor="middle" dominant-baseline="central" fill="#1a1a1a">9.34</text>

<text transform="translate(70.2,577.1999999999999) scale(1,0.88)" x="0" y="0" font-size="12.5" font-weight="bold" text-anchor="middle" dominant-baseline="central" fill="#1a1a1a">156.0406</text>

<text transform="translate(202.4,568.6999999999999) scale(1,0.88)" x="0" y="0" font-size="12.5" font-weight="bold" text-anchor="middle" dominant-baseline="central" fill="#1a1a1a">15.05</text>

<text transform="translate(202,584.6) scale(1,0.88)" x="0" y="0" font-size="12.5" font-weight="bold" text-anchor="middle" dominant-baseline="central" fill="#1a1a1a">327.1946</text>

<text transform="translate(278.7,559.9) scale(1,0.88)" x="0" y="0" font-size="12.5" font-weight="bold" text-anchor="middle" dominant-baseline="central" fill="#1a1a1a">18.35</text>

<text transform="translate(278.5,574.9) scale(1,0.88)" x="0" y="0" font-size="12.5" font-weight="bold" text-anchor="middle" dominant-baseline="central" fill="#1a1a1a">415.2454</text>

<text transform="translate(322,504.4) scale(1,0.88)" x="0" y="0" font-size="12.5" font-weight="bold" text-anchor="middle" dominant-baseline="central" fill="#1a1a1a">19.09</text>

<text transform="translate(322.25,520.4) scale(1,0.88)" x="0" y="0" font-size="12.5" font-weight="bold" text-anchor="middle" dominant-baseline="central" fill="#1a1a1a">565.1560</text>

<text transform="translate(360.5,543.4) scale(1,0.88)" x="0" y="0" font-size="12.5" font-weight="bold" text-anchor="middle" dominant-baseline="central" fill="#1a1a1a">20.77</text>

<text transform="translate(361,559.4) scale(1,0.88)" x="0" y="0" font-size="12.5" font-weight="bold" text-anchor="middle" dominant-baseline="central" fill="#1a1a1a">609.1829</text>

<text transform="translate(436.75,561.9) scale(1,0.88)" x="0" y="0" font-size="12.5" font-weight="bold" text-anchor="middle" dominant-baseline="central" fill="#1a1a1a">22.93</text>

<text transform="translate(436.25,577.9) scale(1,0.88)" x="0" y="0" font-size="12.5" font-weight="bold" text-anchor="middle" dominant-baseline="central" fill="#1a1a1a">396.7924</text>

<text transform="translate(517.5,574.4) scale(1,0.88)" x="0" y="0" font-size="12.5" font-weight="bold" text-anchor="middle" dominant-baseline="central" fill="#1a1a1a">28.71</text>

<text transform="translate(517.75,589.4) scale(1,0.88)" x="0" y="0" font-size="12.5" font-weight="bold" text-anchor="middle" dominant-baseline="central" fill="#1a1a1a">475.2840</text>

<text transform="translate(571.25,559.9) scale(1,0.88)" x="0" y="0" font-size="12.5" font-weight="bold" text-anchor="middle" dominant-baseline="central" fill="#1a1a1a">29.90</text>

<text transform="translate(571.25,574.9) scale(1,0.88)" x="0" y="0" font-size="12.5" font-weight="bold" text-anchor="middle" dominant-baseline="central" fill="#1a1a1a">518.3185</text>

<text transform="translate(630.5,576.9) scale(1,0.88)" x="0" y="0" font-size="12.5" font-weight="bold" text-anchor="middle" dominant-baseline="central" fill="#1a1a1a">31.33</text>

<text transform="translate(630.25,592.9) scale(1,0.88)" x="0" y="0" font-size="12.5" font-weight="bold" text-anchor="middle" dominant-baseline="central" fill="#1a1a1a">326.3773</text>

<g stroke="#c00000" stroke-width="2.4" stroke-dasharray="9.5 6.5" fill="none">
<line x1="89.5" y1="159" x2="185" y2="122.5"/><line x1="185" y1="122.5" x2="179.5" y2="358"/><line x1="179.5" y1="358" x2="84" y2="395"/><line x1="84" y1="395" x2="89.5" y2="159"/>
<line x1="233.5" y1="59.5" x2="360" y2="10"/><line x1="360" y1="10" x2="362.5" y2="346"/><line x1="362.5" y1="346" x2="236.5" y2="394"/><line x1="236.5" y1="394" x2="233.5" y2="59.5"/>
<line x1="518.1" y1="108.7" x2="628.5" y2="71.5"/><line x1="628.5" y1="71.5" x2="616.5" y2="358.5"/><line x1="616.5" y1="358.5" x2="505.7" y2="395.3"/><line x1="505.7" y1="395.3" x2="518.1" y2="108.7"/>
<line x1="60.3" y1="444.8" x2="160.4" y2="411.2"/><line x1="160.4" y1="411.2" x2="157" y2="695"/><line x1="157" y1="695" x2="58" y2="727.6"/><line x1="58" y1="727.6" x2="60.3" y2="444.8"/>
<line x1="175.4" y1="623" x2="265.8" y2="586.6"/><line x1="265.8" y1="586.6" x2="263.4" y2="689.5"/><line x1="263.4" y1="689.5" x2="172.7" y2="727.6"/><line x1="172.7" y1="727.6" x2="175.4" y2="623"/>
<line x1="339.2" y1="623" x2="431.3" y2="586.6"/><line x1="431.3" y1="586.6" x2="428.8" y2="691"/><line x1="428.8" y1="691" x2="337.6" y2="727.6"/><line x1="337.6" y1="727.6" x2="339.2" y2="623"/>
<line x1="518.4" y1="602.8" x2="602.8" y2="568.8"/><line x1="602.8" y1="568.8" x2="601.4" y2="691"/><line x1="601.4" y1="691" x2="515" y2="727.5"/><line x1="515" y1="727.5" x2="518.4" y2="602.8"/>
</g>
</svg></body></html>
